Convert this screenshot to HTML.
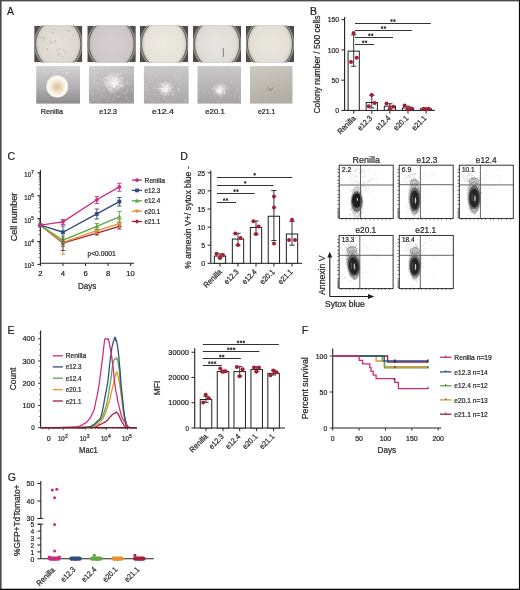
<!DOCTYPE html><html><head><meta charset="utf-8"><style>html,body{margin:0;padding:0;background:#fff;overflow:hidden}svg{display:block;will-change:transform}text{font-family:"Liberation Sans",sans-serif;fill:#231f20;stroke:#231f20;stroke-width:0.22px}</style></head><body>
<svg width="520" height="590" viewBox="0 0 520 590">
<defs>
<radialGradient id="dg0" cx="50%" cy="50%" r="50%"><stop offset="0" stop-color="#e4e0da"/><stop offset="0.85" stop-color="#dcd8d0"/><stop offset="1" stop-color="#c5c0b7"/></radialGradient>
<radialGradient id="dg1" cx="50%" cy="50%" r="50%"><stop offset="0" stop-color="#d6cfd1"/><stop offset="0.85" stop-color="#cec7c9"/><stop offset="1" stop-color="#bdb6b7"/></radialGradient>
<radialGradient id="dg2" cx="50%" cy="50%" r="50%"><stop offset="0" stop-color="#edeae3"/><stop offset="0.85" stop-color="#e6e2d8"/><stop offset="1" stop-color="#cbc6ba"/></radialGradient>
<radialGradient id="dg3" cx="50%" cy="50%" r="50%"><stop offset="0" stop-color="#e8e6e2"/><stop offset="0.85" stop-color="#e0ddd7"/><stop offset="1" stop-color="#c6c2bb"/></radialGradient>
<radialGradient id="dg4" cx="50%" cy="50%" r="50%"><stop offset="0" stop-color="#eae7e0"/><stop offset="0.85" stop-color="#e3dfd6"/><stop offset="1" stop-color="#c8c3b9"/></radialGradient>
<linearGradient id="bg0" x1="0" y1="0" x2="0" y2="1"><stop offset="0" stop-color="#d4d2d3"/><stop offset="0.5" stop-color="#b6b4b5"/><stop offset="1" stop-color="#8c8a8b"/></linearGradient>
<linearGradient id="bg1" x1="0" y1="0" x2="0.3" y2="1"><stop offset="0" stop-color="#d0cecf"/><stop offset="0.5" stop-color="#bcbabb"/><stop offset="1" stop-color="#9b999a"/></linearGradient>
<linearGradient id="bg2" x1="0" y1="0" x2="0" y2="1"><stop offset="0" stop-color="#cbc9ca"/><stop offset="1" stop-color="#a8a6a7"/></linearGradient>
<linearGradient id="bg3" x1="0" y1="0" x2="0" y2="1"><stop offset="0" stop-color="#cac8c9"/><stop offset="1" stop-color="#a6a4a5"/></linearGradient>
<linearGradient id="bg4" x1="0" y1="0" x2="0.3" y2="1"><stop offset="0" stop-color="#cec9c1"/><stop offset="1" stop-color="#b2ada5"/></linearGradient>
<radialGradient id="glow"><stop offset="0" stop-color="#fff" stop-opacity="0.75"/><stop offset="0.5" stop-color="#fff" stop-opacity="0.35"/><stop offset="1" stop-color="#fff" stop-opacity="0"/></radialGradient>
<radialGradient id="blob" cx="50%" cy="52%" r="50%"><stop offset="0" stop-color="#dbc28c"/><stop offset="0.45" stop-color="#ebdfbf"/><stop offset="0.8" stop-color="#f8f5ec"/><stop offset="1" stop-color="#fcfbf8"/></radialGradient>
</defs>
<rect x="0" y="0" width="520" height="590" fill="#fff"/>
<text x="7" y="14.8" font-size="10.5">A</text>
<g><clipPath id="ct0"><rect x="34.2" y="25.8" width="48.1" height="36.4"/></clipPath>
<g clip-path="url(#ct0)">
<rect x="34.2" y="25.8" width="48.1" height="36.4" fill="#4e4c4a"/>
<ellipse cx="58.25" cy="44" rx="24.4" ry="26.6" fill="#8e8a86"/>
<ellipse cx="58.25" cy="44" rx="23.2" ry="25.3" fill="#b5b1ac"/>
<ellipse cx="58.25" cy="44" rx="22.6" ry="24.9" fill="url(#dg0)" stroke="#4a4744" stroke-width="0.8"/>
<circle cx="54.6" cy="49.56" r="0.35" fill="#9d958d" opacity="0.85"/>
<circle cx="61.04" cy="39.58" r="0.35" fill="#8f877f" opacity="0.85"/>
<circle cx="59.6" cy="48.58" r="0.65" fill="#9d958d" opacity="0.85"/>
<circle cx="59.16" cy="55.86" r="0.35" fill="#8f877f" opacity="0.85"/>
<circle cx="65.32" cy="49.31" r="0.35" fill="#8f877f" opacity="0.85"/>
<circle cx="54.23" cy="42.18" r="0.45" fill="#9d958d" opacity="0.85"/>
<circle cx="51.07" cy="41.96" r="0.65" fill="#9d958d" opacity="0.85"/>
<circle cx="42.9" cy="40.94" r="0.45" fill="#9d958d" opacity="0.85"/>
<circle cx="43.62" cy="37.73" r="0.55" fill="#9d958d" opacity="0.85"/>
<circle cx="53.22" cy="42.82" r="0.35" fill="#8f877f" opacity="0.85"/>
<circle cx="62.98" cy="56.7" r="0.65" fill="#aaa29a" opacity="0.85"/>
<circle cx="38.54" cy="47.3" r="0.55" fill="#aaa29a" opacity="0.85"/>
<circle cx="58.34" cy="50.78" r="0.45" fill="#9d958d" opacity="0.85"/>
<circle cx="44.67" cy="38.77" r="0.55" fill="#8f877f" opacity="0.85"/>
<circle cx="42.7" cy="47.95" r="0.35" fill="#9d958d" opacity="0.85"/>
<circle cx="49.74" cy="43.51" r="0.55" fill="#9d958d" opacity="0.85"/>
<circle cx="70.71" cy="39.77" r="0.35" fill="#8f877f" opacity="0.85"/>
<circle cx="40.63" cy="37.37" r="0.55" fill="#aaa29a" opacity="0.85"/>
<circle cx="52.79" cy="32.39" r="0.65" fill="#9d958d" opacity="0.85"/>
<circle cx="69.18" cy="30.87" r="0.65" fill="#8f877f" opacity="0.85"/>
<circle cx="55.59" cy="40.62" r="0.55" fill="#8f877f" opacity="0.85"/>
<circle cx="42.95" cy="37.79" r="0.65" fill="#aaa29a" opacity="0.85"/>
<circle cx="54.13" cy="29.26" r="0.55" fill="#9d958d" opacity="0.85"/>
<circle cx="69.91" cy="40.52" r="0.35" fill="#aaa29a" opacity="0.85"/>
<circle cx="75.41" cy="49.08" r="0.45" fill="#8f877f" opacity="0.85"/>
<circle cx="58.45" cy="54" r="0.65" fill="#9d958d" opacity="0.85"/>
<circle cx="64.93" cy="52.77" r="0.55" fill="#9d958d" opacity="0.85"/>
<circle cx="66.48" cy="30.51" r="0.55" fill="#8f877f" opacity="0.85"/>
<circle cx="47.41" cy="48.86" r="0.65" fill="#9d958d" opacity="0.85"/>
<circle cx="63.39" cy="49.46" r="0.45" fill="#8f877f" opacity="0.85"/>
<circle cx="59.78" cy="55.08" r="0.45" fill="#aaa29a" opacity="0.85"/>
<circle cx="56.65" cy="49.98" r="0.55" fill="#8f877f" opacity="0.85"/>
<circle cx="39.5" cy="37.68" r="0.35" fill="#aaa29a" opacity="0.85"/>
<circle cx="73.22" cy="35.66" r="0.65" fill="#aaa29a" opacity="0.85"/>
</g></g>
<g><clipPath id="ct1"><rect x="87.3" y="25.8" width="48.5" height="36.4"/></clipPath>
<g clip-path="url(#ct1)">
<rect x="87.3" y="25.8" width="48.5" height="36.4" fill="#4e4c4a"/>
<ellipse cx="111.55" cy="44" rx="24.4" ry="26.6" fill="#8e8a86"/>
<ellipse cx="111.55" cy="44" rx="23.2" ry="25.3" fill="#b5b1ac"/>
<ellipse cx="111.55" cy="44" rx="22.6" ry="24.9" fill="url(#dg1)" stroke="#4a4744" stroke-width="0.8"/>
</g></g>
<g><clipPath id="ct2"><rect x="140" y="25.8" width="48.3" height="36.4"/></clipPath>
<g clip-path="url(#ct2)">
<rect x="140" y="25.8" width="48.3" height="36.4" fill="#4e4c4a"/>
<ellipse cx="164.15" cy="44" rx="24.4" ry="26.6" fill="#8e8a86"/>
<ellipse cx="164.15" cy="44" rx="23.2" ry="25.3" fill="#b5b1ac"/>
<ellipse cx="164.15" cy="44" rx="22.6" ry="24.9" fill="url(#dg2)" stroke="#4a4744" stroke-width="0.8"/>
</g></g>
<g><clipPath id="ct3"><rect x="192.9" y="25.8" width="48.3" height="36.4"/></clipPath>
<g clip-path="url(#ct3)">
<rect x="192.9" y="25.8" width="48.3" height="36.4" fill="#4e4c4a"/>
<ellipse cx="217.05" cy="44" rx="24.4" ry="26.6" fill="#8e8a86"/>
<ellipse cx="217.05" cy="44" rx="23.2" ry="25.3" fill="#b5b1ac"/>
<ellipse cx="217.05" cy="44" rx="22.6" ry="24.9" fill="url(#dg3)" stroke="#4a4744" stroke-width="0.8"/>
<path d="M223.05 48 q1 5 0 9" stroke="#5a5f7a" stroke-width="0.8" fill="none"/>
</g></g>
<g><clipPath id="ct4"><rect x="246" y="25.8" width="48" height="36.4"/></clipPath>
<g clip-path="url(#ct4)">
<rect x="246" y="25.8" width="48" height="36.4" fill="#4e4c4a"/>
<ellipse cx="270" cy="44" rx="24.4" ry="26.6" fill="#8e8a86"/>
<ellipse cx="270" cy="44" rx="23.2" ry="25.3" fill="#b5b1ac"/>
<ellipse cx="270" cy="44" rx="22.6" ry="24.9" fill="url(#dg4)" stroke="#4a4744" stroke-width="0.8"/>
</g></g>
<g><clipPath id="cb0"><rect x="36.1" y="66.1" width="44.1" height="37.7"/></clipPath>
<g clip-path="url(#cb0)">
<rect x="36.1" y="66.1" width="44.1" height="37.7" fill="url(#bg0)"/>
<circle cx="57.25" cy="86.55" r="11" fill="#f4f2ee"/>
<circle cx="57.25" cy="86.55" r="10" fill="url(#blob)"/>
<circle cx="54.92" cy="73.85" r="0.5" fill="#e8e8e8"/>
<circle cx="62.45" cy="72.69" r="0.5" fill="#e8e8e8"/>
<circle cx="44.31" cy="76.8" r="0.5" fill="#e8e8e8"/>
<circle cx="47.34" cy="80.47" r="0.5" fill="#e8e8e8"/>
<circle cx="43.83" cy="70.96" r="0.5" fill="#e8e8e8"/>
<circle cx="46.99" cy="73.79" r="0.5" fill="#e8e8e8"/>
<circle cx="53.79" cy="71.66" r="0.5" fill="#e8e8e8"/>
<circle cx="70.13" cy="88.14" r="0.5" fill="#e8e8e8"/>
<circle cx="67.15" cy="72.95" r="1" fill="#e4e4e4"/>
</g></g>
<text x="40.75" y="113.75" font-size="7.6" textLength="22.25" lengthAdjust="spacingAndGlyphs">Renilla</text>
<g><clipPath id="cb1"><rect x="88.7" y="66.1" width="45.3" height="37.7"/></clipPath>
<g clip-path="url(#cb1)">
<rect x="88.7" y="66.1" width="45.3" height="37.7" fill="url(#bg1)"/>
<circle cx="114" cy="82.8" r="11" fill="url(#glow)"/>
<circle cx="95.43" cy="75.61" r="0.45" fill="#e6e6e6" opacity="0.75"/>
<circle cx="115.98" cy="83.98" r="0.35" fill="#e6e6e6" opacity="0.75"/>
<circle cx="127.16" cy="103.54" r="0.45" fill="#e6e6e6" opacity="0.75"/>
<circle cx="110.46" cy="77.86" r="0.35" fill="#e6e6e6" opacity="0.75"/>
<circle cx="93.33" cy="79.02" r="0.45" fill="#e6e6e6" opacity="0.75"/>
<circle cx="110.38" cy="92.19" r="0.55" fill="#e6e6e6" opacity="0.75"/>
<circle cx="89.75" cy="101.95" r="0.55" fill="#e6e6e6" opacity="0.75"/>
<circle cx="105.09" cy="92.12" r="0.35" fill="#e6e6e6" opacity="0.75"/>
<circle cx="123.04" cy="77.34" r="0.55" fill="#e6e6e6" opacity="0.75"/>
<circle cx="127.81" cy="92.35" r="0.45" fill="#e6e6e6" opacity="0.75"/>
<circle cx="112.18" cy="100.34" r="0.45" fill="#e6e6e6" opacity="0.75"/>
<circle cx="123.67" cy="86.18" r="0.55" fill="#e6e6e6" opacity="0.75"/>
<circle cx="103.63" cy="74.51" r="0.35" fill="#e6e6e6" opacity="0.75"/>
<circle cx="125.22" cy="96.95" r="0.55" fill="#e6e6e6" opacity="0.75"/>
<circle cx="125.09" cy="73.64" r="0.45" fill="#e6e6e6" opacity="0.75"/>
<circle cx="104.81" cy="67.19" r="0.35" fill="#e6e6e6" opacity="0.75"/>
<circle cx="124.49" cy="83.9" r="0.35" fill="#e6e6e6" opacity="0.75"/>
<circle cx="120.07" cy="102.16" r="0.45" fill="#e6e6e6" opacity="0.75"/>
<circle cx="125.33" cy="93.36" r="0.45" fill="#e6e6e6" opacity="0.75"/>
<circle cx="131.96" cy="79.85" r="0.35" fill="#e6e6e6" opacity="0.75"/>
<circle cx="93.33" cy="83.82" r="0.45" fill="#e6e6e6" opacity="0.75"/>
<circle cx="97.96" cy="89.63" r="0.55" fill="#e6e6e6" opacity="0.75"/>
<circle cx="126.77" cy="84.18" r="0.55" fill="#e6e6e6" opacity="0.75"/>
<circle cx="104.28" cy="90.35" r="0.55" fill="#e6e6e6" opacity="0.75"/>
<circle cx="94.13" cy="80.75" r="0.55" fill="#e6e6e6" opacity="0.75"/>
<circle cx="122.68" cy="84.12" r="0.35" fill="#e6e6e6" opacity="0.75"/>
<circle cx="108.36" cy="90.07" r="0.35" fill="#e6e6e6" opacity="0.75"/>
<circle cx="124.98" cy="102.73" r="0.45" fill="#e6e6e6" opacity="0.75"/>
<circle cx="109.68" cy="94.12" r="0.35" fill="#e6e6e6" opacity="0.75"/>
<circle cx="121.53" cy="72.51" r="0.35" fill="#e6e6e6" opacity="0.75"/>
<circle cx="89.95" cy="88.37" r="0.45" fill="#e6e6e6" opacity="0.75"/>
<circle cx="125.23" cy="71.61" r="0.55" fill="#e6e6e6" opacity="0.75"/>
<circle cx="133.11" cy="90.88" r="0.45" fill="#e6e6e6" opacity="0.75"/>
<circle cx="95.76" cy="86.77" r="0.35" fill="#e6e6e6" opacity="0.75"/>
<circle cx="89.35" cy="102.7" r="0.55" fill="#e6e6e6" opacity="0.75"/>
<circle cx="93.36" cy="94.36" r="0.35" fill="#e6e6e6" opacity="0.75"/>
<circle cx="108.35" cy="98.96" r="0.35" fill="#e6e6e6" opacity="0.75"/>
<circle cx="89.97" cy="74.12" r="0.55" fill="#e6e6e6" opacity="0.75"/>
<circle cx="99.6" cy="88.21" r="0.45" fill="#e6e6e6" opacity="0.75"/>
<circle cx="113.36" cy="97.55" r="0.35" fill="#e6e6e6" opacity="0.75"/>
<circle cx="129.92" cy="79.44" r="0.45" fill="#e6e6e6" opacity="0.75"/>
<circle cx="118.71" cy="96.83" r="0.55" fill="#e6e6e6" opacity="0.75"/>
<circle cx="107.75" cy="100.7" r="0.55" fill="#e6e6e6" opacity="0.75"/>
<circle cx="94.62" cy="71.82" r="0.55" fill="#e6e6e6" opacity="0.75"/>
<circle cx="89.55" cy="82.69" r="0.35" fill="#e6e6e6" opacity="0.75"/>
<circle cx="116.27" cy="95.36" r="0.35" fill="#e6e6e6" opacity="0.75"/>
<circle cx="96.51" cy="83.95" r="0.55" fill="#e6e6e6" opacity="0.75"/>
<circle cx="94.15" cy="68.43" r="0.55" fill="#e6e6e6" opacity="0.75"/>
<circle cx="112.18" cy="87.04" r="0.35" fill="#e6e6e6" opacity="0.75"/>
<circle cx="128.71" cy="68.24" r="0.35" fill="#e6e6e6" opacity="0.75"/>
<circle cx="101.24" cy="95.21" r="0.55" fill="#e6e6e6" opacity="0.75"/>
<circle cx="109.18" cy="67.15" r="0.35" fill="#e6e6e6" opacity="0.75"/>
<circle cx="108.78" cy="89.19" r="0.55" fill="#e6e6e6" opacity="0.75"/>
<circle cx="116.16" cy="73.62" r="0.45" fill="#e6e6e6" opacity="0.75"/>
<circle cx="109.19" cy="86.2" r="0.45" fill="#e6e6e6" opacity="0.75"/>
<circle cx="111.7" cy="75.44" r="0.55" fill="#e6e6e6" opacity="0.75"/>
<circle cx="128.41" cy="101.62" r="0.45" fill="#e6e6e6" opacity="0.75"/>
<circle cx="130.5" cy="99.76" r="0.35" fill="#e6e6e6" opacity="0.75"/>
<circle cx="126.75" cy="71.27" r="0.35" fill="#e6e6e6" opacity="0.75"/>
<circle cx="106.47" cy="78.01" r="0.55" fill="#e6e6e6" opacity="0.75"/>
<circle cx="99.6" cy="68.86" r="0.55" fill="#e6e6e6" opacity="0.75"/>
<circle cx="102.42" cy="70.71" r="0.35" fill="#e6e6e6" opacity="0.75"/>
<circle cx="131.26" cy="90.36" r="0.45" fill="#e6e6e6" opacity="0.75"/>
<circle cx="95.18" cy="99.38" r="0.45" fill="#e6e6e6" opacity="0.75"/>
<circle cx="98.65" cy="102.01" r="0.45" fill="#e6e6e6" opacity="0.75"/>
<circle cx="128.79" cy="72.24" r="0.55" fill="#e6e6e6" opacity="0.75"/>
<circle cx="126.41" cy="72.19" r="0.45" fill="#e6e6e6" opacity="0.75"/>
<circle cx="133.73" cy="81.32" r="0.45" fill="#e6e6e6" opacity="0.75"/>
<circle cx="97.57" cy="78.11" r="0.55" fill="#e6e6e6" opacity="0.75"/>
<circle cx="105.28" cy="78.84" r="0.45" fill="#e6e6e6" opacity="0.75"/>
<circle cx="108.65" cy="66.78" r="0.45" fill="#e6e6e6" opacity="0.75"/>
<circle cx="112.14" cy="77.24" r="0.35" fill="#e6e6e6" opacity="0.75"/>
<circle cx="93.81" cy="100.73" r="0.35" fill="#e6e6e6" opacity="0.75"/>
<circle cx="132.72" cy="70.05" r="0.45" fill="#e6e6e6" opacity="0.75"/>
<circle cx="101.02" cy="100.25" r="0.35" fill="#e6e6e6" opacity="0.75"/>
<circle cx="100.95" cy="70.98" r="0.45" fill="#e6e6e6" opacity="0.75"/>
<circle cx="127.19" cy="91.58" r="0.45" fill="#e6e6e6" opacity="0.75"/>
<circle cx="107.09" cy="86.33" r="0.55" fill="#e6e6e6" opacity="0.75"/>
<circle cx="114.55" cy="92.51" r="0.35" fill="#e6e6e6" opacity="0.75"/>
<circle cx="101.34" cy="96.24" r="0.35" fill="#e6e6e6" opacity="0.75"/>
<circle cx="107.97" cy="68.83" r="0.35" fill="#e6e6e6" opacity="0.75"/>
<circle cx="117.44" cy="96.32" r="0.35" fill="#e6e6e6" opacity="0.75"/>
<circle cx="116.25" cy="74.48" r="0.45" fill="#e6e6e6" opacity="0.75"/>
<circle cx="127.78" cy="83.21" r="0.45" fill="#e6e6e6" opacity="0.75"/>
<circle cx="133.74" cy="81.85" r="0.45" fill="#e6e6e6" opacity="0.75"/>
<circle cx="116.86" cy="67.73" r="0.55" fill="#e6e6e6" opacity="0.75"/>
<circle cx="99.5" cy="70.23" r="0.35" fill="#e6e6e6" opacity="0.75"/>
<circle cx="100.56" cy="72.93" r="0.45" fill="#e6e6e6" opacity="0.75"/>
<circle cx="117.18" cy="86.12" r="0.35" fill="#e6e6e6" opacity="0.75"/>
<circle cx="101.84" cy="84.95" r="0.35" fill="#e6e6e6" opacity="0.75"/>
<circle cx="100.95" cy="96.4" r="0.45" fill="#e6e6e6" opacity="0.75"/>
<circle cx="90.37" cy="66.79" r="0.55" fill="#e6e6e6" opacity="0.75"/>
<circle cx="113.66" cy="73.24" r="0.45" fill="#e6e6e6" opacity="0.75"/>
<circle cx="99.83" cy="82.95" r="0.55" fill="#e6e6e6" opacity="0.75"/>
<circle cx="125.8" cy="82.39" r="0.45" fill="#e6e6e6" opacity="0.75"/>
<circle cx="113.43" cy="99.6" r="0.55" fill="#e6e6e6" opacity="0.75"/>
<circle cx="102.64" cy="74.21" r="0.35" fill="#e6e6e6" opacity="0.75"/>
<circle cx="104.22" cy="97.48" r="0.55" fill="#e6e6e6" opacity="0.75"/>
<circle cx="121.72" cy="71.37" r="0.45" fill="#e6e6e6" opacity="0.75"/>
<circle cx="133.18" cy="97.65" r="0.35" fill="#e6e6e6" opacity="0.75"/>
<circle cx="91.9" cy="94.03" r="0.45" fill="#e6e6e6" opacity="0.75"/>
<circle cx="108.21" cy="68.19" r="0.55" fill="#e6e6e6" opacity="0.75"/>
<circle cx="126.81" cy="98.92" r="0.55" fill="#e6e6e6" opacity="0.75"/>
<circle cx="132.68" cy="88.67" r="0.55" fill="#e6e6e6" opacity="0.75"/>
<circle cx="101.98" cy="83.42" r="0.35" fill="#e6e6e6" opacity="0.75"/>
<circle cx="100.89" cy="66.24" r="0.45" fill="#e6e6e6" opacity="0.75"/>
<circle cx="132.27" cy="102.77" r="0.55" fill="#e6e6e6" opacity="0.75"/>
<circle cx="103.36" cy="67.4" r="0.45" fill="#e6e6e6" opacity="0.75"/>
<circle cx="98.57" cy="73" r="0.45" fill="#e6e6e6" opacity="0.75"/>
<circle cx="105.99" cy="83.99" r="0.55" fill="#e6e6e6" opacity="0.75"/>
<circle cx="114.45" cy="80.51" r="0.4" fill="#f6f6f6" opacity="0.9"/>
<circle cx="113.64" cy="86.25" r="0.4" fill="#f6f6f6" opacity="0.9"/>
<circle cx="109.8" cy="85.61" r="0.5" fill="#f6f6f6" opacity="0.9"/>
<circle cx="111.73" cy="88.24" r="0.4" fill="#f6f6f6" opacity="0.9"/>
<circle cx="122.52" cy="73.25" r="0.4" fill="#f6f6f6" opacity="0.9"/>
<circle cx="109.46" cy="76.92" r="0.6" fill="#f6f6f6" opacity="0.9"/>
<circle cx="114.17" cy="81.23" r="0.6" fill="#f6f6f6" opacity="0.9"/>
<circle cx="122.52" cy="82.1" r="0.4" fill="#f6f6f6" opacity="0.9"/>
<circle cx="115.18" cy="84.09" r="0.6" fill="#f6f6f6" opacity="0.9"/>
<circle cx="120.86" cy="78.09" r="0.6" fill="#f6f6f6" opacity="0.9"/>
<circle cx="104.89" cy="82.53" r="0.6" fill="#f6f6f6" opacity="0.9"/>
<circle cx="114.08" cy="79.11" r="0.6" fill="#f6f6f6" opacity="0.9"/>
<circle cx="116.76" cy="78.29" r="0.6" fill="#f6f6f6" opacity="0.9"/>
<circle cx="117" cy="74.59" r="0.6" fill="#f6f6f6" opacity="0.9"/>
<circle cx="114.51" cy="86.25" r="0.4" fill="#f6f6f6" opacity="0.9"/>
<circle cx="122.8" cy="84.82" r="0.6" fill="#f6f6f6" opacity="0.9"/>
<circle cx="115.01" cy="81.37" r="0.6" fill="#f6f6f6" opacity="0.9"/>
<circle cx="116.23" cy="83.43" r="0.4" fill="#f6f6f6" opacity="0.9"/>
<circle cx="107.12" cy="83.19" r="0.4" fill="#f6f6f6" opacity="0.9"/>
<circle cx="107.26" cy="84.39" r="0.4" fill="#f6f6f6" opacity="0.9"/>
<circle cx="113.92" cy="82.78" r="0.6" fill="#f6f6f6" opacity="0.9"/>
<circle cx="106.42" cy="81.74" r="0.6" fill="#f6f6f6" opacity="0.9"/>
<circle cx="114.37" cy="82.96" r="0.5" fill="#f6f6f6" opacity="0.9"/>
<circle cx="114.47" cy="86.98" r="0.4" fill="#f6f6f6" opacity="0.9"/>
<circle cx="112.9" cy="83.04" r="0.5" fill="#f6f6f6" opacity="0.9"/>
<circle cx="122.28" cy="86.48" r="0.6" fill="#f6f6f6" opacity="0.9"/>
<circle cx="113.69" cy="82.51" r="0.4" fill="#f6f6f6" opacity="0.9"/>
<circle cx="115.73" cy="83.58" r="0.4" fill="#f6f6f6" opacity="0.9"/>
<circle cx="112.37" cy="79.11" r="0.6" fill="#f6f6f6" opacity="0.9"/>
<circle cx="106.51" cy="79.91" r="0.4" fill="#f6f6f6" opacity="0.9"/>
<circle cx="121.34" cy="81.71" r="0.4" fill="#f6f6f6" opacity="0.9"/>
<circle cx="113.71" cy="82.14" r="0.6" fill="#f6f6f6" opacity="0.9"/>
<circle cx="111.74" cy="91.25" r="0.5" fill="#f6f6f6" opacity="0.9"/>
<circle cx="113.35" cy="82.92" r="0.4" fill="#f6f6f6" opacity="0.9"/>
<circle cx="110.9" cy="89.25" r="0.4" fill="#f6f6f6" opacity="0.9"/>
<circle cx="114.32" cy="82.69" r="0.4" fill="#f6f6f6" opacity="0.9"/>
<circle cx="113.36" cy="82.78" r="0.5" fill="#f6f6f6" opacity="0.9"/>
<circle cx="116.51" cy="82.72" r="0.5" fill="#f6f6f6" opacity="0.9"/>
<circle cx="114.96" cy="86.03" r="0.6" fill="#f6f6f6" opacity="0.9"/>
<circle cx="126.81" cy="89.74" r="0.6" fill="#f6f6f6" opacity="0.9"/>
<circle cx="124.68" cy="92.79" r="0.6" fill="#f6f6f6" opacity="0.9"/>
<circle cx="111.58" cy="82.69" r="0.4" fill="#f6f6f6" opacity="0.9"/>
<circle cx="115.09" cy="82.11" r="0.5" fill="#f6f6f6" opacity="0.9"/>
<circle cx="110.45" cy="85.17" r="0.4" fill="#f6f6f6" opacity="0.9"/>
<circle cx="106.8" cy="84.76" r="0.5" fill="#f6f6f6" opacity="0.9"/>
<circle cx="113.98" cy="82.66" r="0.5" fill="#f6f6f6" opacity="0.9"/>
<circle cx="115.69" cy="80.54" r="0.4" fill="#f6f6f6" opacity="0.9"/>
<circle cx="111.88" cy="86.37" r="0.5" fill="#f6f6f6" opacity="0.9"/>
<circle cx="115.56" cy="82.14" r="0.6" fill="#f6f6f6" opacity="0.9"/>
<circle cx="116.78" cy="82.97" r="0.6" fill="#f6f6f6" opacity="0.9"/>
<circle cx="112.79" cy="83.62" r="0.6" fill="#f6f6f6" opacity="0.9"/>
<circle cx="119.39" cy="85.19" r="0.5" fill="#f6f6f6" opacity="0.9"/>
<circle cx="113.91" cy="83.18" r="0.4" fill="#f6f6f6" opacity="0.9"/>
<circle cx="120.47" cy="73.46" r="0.5" fill="#f6f6f6" opacity="0.9"/>
<circle cx="116.4" cy="82.42" r="0.5" fill="#f6f6f6" opacity="0.9"/>
<circle cx="111.24" cy="82.64" r="0.4" fill="#f6f6f6" opacity="0.9"/>
<circle cx="112.51" cy="83.42" r="0.4" fill="#f6f6f6" opacity="0.9"/>
<circle cx="118.28" cy="73.93" r="0.6" fill="#f6f6f6" opacity="0.9"/>
<circle cx="103.87" cy="79.75" r="0.4" fill="#f6f6f6" opacity="0.9"/>
<circle cx="112.52" cy="76.29" r="0.4" fill="#f6f6f6" opacity="0.9"/>
<circle cx="109.41" cy="79.37" r="0.4" fill="#f6f6f6" opacity="0.9"/>
<circle cx="112.33" cy="80.98" r="0.5" fill="#f6f6f6" opacity="0.9"/>
<circle cx="100.43" cy="79.04" r="0.4" fill="#f6f6f6" opacity="0.9"/>
<circle cx="112.72" cy="82.99" r="0.5" fill="#f6f6f6" opacity="0.9"/>
<circle cx="113.93" cy="81.96" r="0.6" fill="#f6f6f6" opacity="0.9"/>
<circle cx="113.69" cy="86.95" r="0.6" fill="#f6f6f6" opacity="0.9"/>
<circle cx="113.74" cy="82.41" r="0.4" fill="#f6f6f6" opacity="0.9"/>
<circle cx="117.7" cy="88.3" r="0.4" fill="#f6f6f6" opacity="0.9"/>
<circle cx="116.58" cy="77.43" r="0.6" fill="#f6f6f6" opacity="0.9"/>
<circle cx="114.65" cy="85.71" r="0.5" fill="#f6f6f6" opacity="0.9"/>
<circle cx="118.54" cy="87.44" r="0.4" fill="#f6f6f6" opacity="0.9"/>
<circle cx="114.01" cy="82.93" r="0.4" fill="#f6f6f6" opacity="0.9"/>
<circle cx="114.11" cy="84.12" r="0.5" fill="#f6f6f6" opacity="0.9"/>
<circle cx="114.87" cy="80.92" r="0.4" fill="#f6f6f6" opacity="0.9"/>
<circle cx="106.99" cy="86.44" r="0.5" fill="#f6f6f6" opacity="0.9"/>
<circle cx="113.82" cy="76.82" r="0.4" fill="#f6f6f6" opacity="0.9"/>
<circle cx="117.91" cy="84.17" r="0.5" fill="#f6f6f6" opacity="0.9"/>
<circle cx="110.31" cy="81.22" r="0.5" fill="#f6f6f6" opacity="0.9"/>
<circle cx="110.29" cy="79.46" r="0.4" fill="#f6f6f6" opacity="0.9"/>
<circle cx="118.57" cy="85.35" r="0.4" fill="#f6f6f6" opacity="0.9"/>
<circle cx="107.63" cy="85.27" r="0.5" fill="#f6f6f6" opacity="0.9"/>
<circle cx="117.61" cy="78.5" r="0.4" fill="#f6f6f6" opacity="0.9"/>
<circle cx="114.41" cy="78.76" r="0.5" fill="#f6f6f6" opacity="0.9"/>
<circle cx="118.81" cy="81.97" r="0.5" fill="#f6f6f6" opacity="0.9"/>
<circle cx="119.81" cy="80.36" r="0.6" fill="#f6f6f6" opacity="0.9"/>
<circle cx="114" cy="82.8" r="0.5" fill="#f6f6f6" opacity="0.9"/>
<circle cx="114.02" cy="82.82" r="0.6" fill="#f6f6f6" opacity="0.9"/>
<circle cx="117.07" cy="82.33" r="0.4" fill="#f6f6f6" opacity="0.9"/>
<circle cx="108.17" cy="76.21" r="0.5" fill="#f6f6f6" opacity="0.9"/>
<circle cx="117.22" cy="84.42" r="0.4" fill="#f6f6f6" opacity="0.9"/>
<circle cx="110.95" cy="81.59" r="0.4" fill="#f6f6f6" opacity="0.9"/>
<circle cx="113.98" cy="82.78" r="0.5" fill="#f6f6f6" opacity="0.9"/>
<circle cx="105.27" cy="81.47" r="0.5" fill="#f6f6f6" opacity="0.9"/>
<circle cx="113.32" cy="81.08" r="0.4" fill="#f6f6f6" opacity="0.9"/>
<circle cx="118.18" cy="81.48" r="0.4" fill="#f6f6f6" opacity="0.9"/>
<circle cx="111.55" cy="84.57" r="0.4" fill="#f6f6f6" opacity="0.9"/>
<circle cx="113.92" cy="82.78" r="0.5" fill="#f6f6f6" opacity="0.9"/>
<circle cx="113.95" cy="83.05" r="0.5" fill="#f6f6f6" opacity="0.9"/>
<circle cx="105.81" cy="83.89" r="0.4" fill="#f6f6f6" opacity="0.9"/>
<circle cx="103.83" cy="80.17" r="0.4" fill="#f6f6f6" opacity="0.9"/>
<circle cx="110.53" cy="90.63" r="0.4" fill="#f6f6f6" opacity="0.9"/>
<circle cx="114.86" cy="84.78" r="0.6" fill="#f6f6f6" opacity="0.9"/>
<circle cx="114.22" cy="84.15" r="0.5" fill="#f6f6f6" opacity="0.9"/>
<circle cx="115.9" cy="81.98" r="0.4" fill="#f6f6f6" opacity="0.9"/>
<circle cx="112.02" cy="74.45" r="0.5" fill="#f6f6f6" opacity="0.9"/>
<circle cx="113.82" cy="82.46" r="0.4" fill="#f6f6f6" opacity="0.9"/>
<circle cx="117.04" cy="79.01" r="0.4" fill="#f6f6f6" opacity="0.9"/>
<circle cx="114.06" cy="82.99" r="0.4" fill="#f6f6f6" opacity="0.9"/>
<circle cx="114.55" cy="86.64" r="0.4" fill="#f6f6f6" opacity="0.9"/>
<circle cx="112.95" cy="92.23" r="0.5" fill="#f6f6f6" opacity="0.9"/>
<circle cx="108.58" cy="78.98" r="0.4" fill="#f6f6f6" opacity="0.9"/>
<circle cx="108.28" cy="83.26" r="0.6" fill="#f6f6f6" opacity="0.9"/>
<circle cx="121.23" cy="79.52" r="0.4" fill="#f6f6f6" opacity="0.9"/>
<circle cx="114.7" cy="85.31" r="0.6" fill="#f6f6f6" opacity="0.9"/>
<circle cx="115.24" cy="83.22" r="0.5" fill="#f6f6f6" opacity="0.9"/>
<circle cx="112.43" cy="83.24" r="0.6" fill="#f6f6f6" opacity="0.9"/>
<circle cx="121.86" cy="82.7" r="0.4" fill="#f6f6f6" opacity="0.9"/>
<circle cx="110.63" cy="88.07" r="0.4" fill="#f6f6f6" opacity="0.9"/>
<circle cx="109.53" cy="83.58" r="0.5" fill="#f6f6f6" opacity="0.9"/>
<circle cx="110.68" cy="78.06" r="0.5" fill="#f6f6f6" opacity="0.9"/>
<circle cx="104.64" cy="85.81" r="0.4" fill="#f6f6f6" opacity="0.9"/>
<circle cx="129.96" cy="83.04" r="0.5" fill="#f6f6f6" opacity="0.9"/>
<circle cx="118.45" cy="79.47" r="0.6" fill="#f6f6f6" opacity="0.9"/>
<circle cx="117.22" cy="82.18" r="0.4" fill="#f6f6f6" opacity="0.9"/>
<circle cx="111.07" cy="89.23" r="0.5" fill="#f6f6f6" opacity="0.9"/>
<circle cx="120.48" cy="86.19" r="0.6" fill="#f6f6f6" opacity="0.9"/>
<circle cx="119.42" cy="80.25" r="0.4" fill="#f6f6f6" opacity="0.9"/>
<circle cx="113.54" cy="83.59" r="0.6" fill="#f6f6f6" opacity="0.9"/>
<circle cx="112.91" cy="83.38" r="0.6" fill="#f6f6f6" opacity="0.9"/>
<circle cx="114.1" cy="81.98" r="0.4" fill="#f6f6f6" opacity="0.9"/>
<circle cx="115.69" cy="78.66" r="0.4" fill="#f6f6f6" opacity="0.9"/>
<circle cx="113.77" cy="87.14" r="0.6" fill="#f6f6f6" opacity="0.9"/>
<circle cx="108.67" cy="88.08" r="0.5" fill="#f6f6f6" opacity="0.9"/>
<circle cx="117.29" cy="82.04" r="0.6" fill="#f6f6f6" opacity="0.9"/>
<circle cx="110.16" cy="74.62" r="0.5" fill="#f6f6f6" opacity="0.9"/>
<circle cx="113.15" cy="85.17" r="0.6" fill="#f6f6f6" opacity="0.9"/>
<circle cx="113.66" cy="82.47" r="0.4" fill="#f6f6f6" opacity="0.9"/>
<circle cx="128.31" cy="84.67" r="0.4" fill="#f6f6f6" opacity="0.9"/>
<circle cx="106.13" cy="84.26" r="0.5" fill="#f6f6f6" opacity="0.9"/>
<circle cx="115.59" cy="77.5" r="0.5" fill="#f6f6f6" opacity="0.9"/>
<circle cx="112.63" cy="82.83" r="0.4" fill="#f6f6f6" opacity="0.9"/>
<circle cx="115.03" cy="80.24" r="0.6" fill="#f6f6f6" opacity="0.9"/>
<circle cx="115.91" cy="85.07" r="0.4" fill="#f6f6f6" opacity="0.9"/>
<circle cx="109.58" cy="89.87" r="0.5" fill="#f6f6f6" opacity="0.9"/>
<circle cx="104.9" cy="77.49" r="0.6" fill="#f6f6f6" opacity="0.9"/>
<circle cx="114.9" cy="85.03" r="0.4" fill="#f6f6f6" opacity="0.9"/>
<circle cx="114.04" cy="82.81" r="0.6" fill="#f6f6f6" opacity="0.9"/>
<circle cx="111.72" cy="82.24" r="0.4" fill="#f6f6f6" opacity="0.9"/>
<circle cx="127.33" cy="81.93" r="0.5" fill="#f6f6f6" opacity="0.9"/>
<circle cx="112.82" cy="81.8" r="0.4" fill="#f6f6f6" opacity="0.9"/>
<circle cx="112.43" cy="77.63" r="0.5" fill="#f6f6f6" opacity="0.9"/>
<circle cx="116.02" cy="86.07" r="0.4" fill="#f6f6f6" opacity="0.9"/>
<circle cx="110.4" cy="76.88" r="0.6" fill="#f6f6f6" opacity="0.9"/>
<circle cx="109.62" cy="81.88" r="0.6" fill="#f6f6f6" opacity="0.9"/>
<circle cx="113.81" cy="83.36" r="0.5" fill="#f6f6f6" opacity="0.9"/>
<circle cx="103.7" cy="78.89" r="0.5" fill="#f6f6f6" opacity="0.9"/>
<circle cx="113.88" cy="82.84" r="0.4" fill="#f6f6f6" opacity="0.9"/>
<circle cx="114.15" cy="87.09" r="0.4" fill="#f6f6f6" opacity="0.9"/>
<circle cx="115.05" cy="84.98" r="0.4" fill="#f6f6f6" opacity="0.9"/>
<circle cx="102.95" cy="89.98" r="0.4" fill="#f6f6f6" opacity="0.9"/>
<circle cx="115.69" cy="79.06" r="0.6" fill="#f6f6f6" opacity="0.9"/>
<circle cx="113.79" cy="82.84" r="0.4" fill="#f6f6f6" opacity="0.9"/>
<circle cx="116.48" cy="78.25" r="0.5" fill="#f6f6f6" opacity="0.9"/>
<circle cx="117.8" cy="80.87" r="0.4" fill="#f6f6f6" opacity="0.9"/>
<circle cx="117.22" cy="83.7" r="0.6" fill="#f6f6f6" opacity="0.9"/>
<circle cx="117.26" cy="82.32" r="0.6" fill="#f6f6f6" opacity="0.9"/>
<circle cx="113.12" cy="82.74" r="0.4" fill="#f6f6f6" opacity="0.9"/>
<circle cx="111.71" cy="83.44" r="0.5" fill="#f6f6f6" opacity="0.9"/>
<circle cx="115.5" cy="82.85" r="0.6" fill="#f6f6f6" opacity="0.9"/>
<circle cx="106.19" cy="78.22" r="0.6" fill="#f6f6f6" opacity="0.9"/>
<circle cx="113.44" cy="83.56" r="0.4" fill="#f6f6f6" opacity="0.9"/>
<circle cx="114.41" cy="83.99" r="0.5" fill="#f6f6f6" opacity="0.9"/>
<circle cx="122.79" cy="78.32" r="0.4" fill="#f6f6f6" opacity="0.9"/>
<circle cx="115.05" cy="80.86" r="0.5" fill="#f6f6f6" opacity="0.9"/>
<circle cx="113.31" cy="84.22" r="0.4" fill="#f6f6f6" opacity="0.9"/>
<circle cx="117.67" cy="83.43" r="0.5" fill="#f6f6f6" opacity="0.9"/>
<circle cx="115.8" cy="83.93" r="0.5" fill="#f6f6f6" opacity="0.9"/>
<circle cx="113.64" cy="82.29" r="0.4" fill="#f6f6f6" opacity="0.9"/>
<circle cx="114.94" cy="84.13" r="0.6" fill="#f6f6f6" opacity="0.9"/>
<circle cx="113.71" cy="84.64" r="0.5" fill="#f6f6f6" opacity="0.9"/>
<circle cx="117.17" cy="83.7" r="0.6" fill="#f6f6f6" opacity="0.9"/>
<circle cx="108.63" cy="80.77" r="0.5" fill="#f6f6f6" opacity="0.9"/>
<circle cx="114.11" cy="81.9" r="0.5" fill="#f6f6f6" opacity="0.9"/>
<circle cx="113.61" cy="82.37" r="0.5" fill="#f6f6f6" opacity="0.9"/>
<circle cx="114.6" cy="82.82" r="0.4" fill="#f6f6f6" opacity="0.9"/>
<circle cx="110.14" cy="84.5" r="0.4" fill="#f6f6f6" opacity="0.9"/>
<circle cx="103.15" cy="85.11" r="0.4" fill="#f6f6f6" opacity="0.9"/>
<circle cx="119.12" cy="87.43" r="0.4" fill="#f6f6f6" opacity="0.9"/>
<circle cx="121.44" cy="78.78" r="0.4" fill="#f6f6f6" opacity="0.9"/>
<circle cx="111.35" cy="81.69" r="0.5" fill="#f6f6f6" opacity="0.9"/>
<circle cx="113.82" cy="83.02" r="0.4" fill="#f6f6f6" opacity="0.9"/>
<circle cx="110.06" cy="82.35" r="0.4" fill="#f6f6f6" opacity="0.9"/>
<circle cx="115.98" cy="78.12" r="0.4" fill="#f6f6f6" opacity="0.9"/>
<circle cx="112.48" cy="86.64" r="0.4" fill="#f6f6f6" opacity="0.9"/>
<circle cx="120.96" cy="84.86" r="0.6" fill="#f6f6f6" opacity="0.9"/>
<circle cx="113.13" cy="83.43" r="0.6" fill="#f6f6f6" opacity="0.9"/>
<circle cx="118.71" cy="89.14" r="0.4" fill="#f6f6f6" opacity="0.9"/>
<circle cx="107.97" cy="77.92" r="0.6" fill="#f6f6f6" opacity="0.9"/>
<circle cx="116.84" cy="88.19" r="0.4" fill="#f6f6f6" opacity="0.9"/>
<circle cx="123.71" cy="85.01" r="0.6" fill="#f6f6f6" opacity="0.9"/>
</g></g>
<text x="99.25" y="113.75" font-size="7.6" textLength="17.75" lengthAdjust="spacingAndGlyphs">e12.3</text>
<g><clipPath id="cb2"><rect x="143.7" y="66.1" width="45.1" height="37.7"/></clipPath>
<g clip-path="url(#cb2)">
<rect x="143.7" y="66.1" width="45.1" height="37.7" fill="url(#bg2)"/>
<circle cx="165.5" cy="89" r="8" fill="url(#glow)"/>
<circle cx="150.76" cy="79.64" r="0.35" fill="#e6e6e6" opacity="0.75"/>
<circle cx="154.84" cy="93.43" r="0.35" fill="#e6e6e6" opacity="0.75"/>
<circle cx="145.55" cy="87.3" r="0.55" fill="#e6e6e6" opacity="0.75"/>
<circle cx="145.42" cy="97.7" r="0.35" fill="#e6e6e6" opacity="0.75"/>
<circle cx="161.28" cy="83.28" r="0.55" fill="#e6e6e6" opacity="0.75"/>
<circle cx="178.79" cy="90.57" r="0.45" fill="#e6e6e6" opacity="0.75"/>
<circle cx="169.98" cy="82.15" r="0.55" fill="#e6e6e6" opacity="0.75"/>
<circle cx="160.27" cy="85.08" r="0.35" fill="#e6e6e6" opacity="0.75"/>
<circle cx="144.75" cy="89.43" r="0.45" fill="#e6e6e6" opacity="0.75"/>
<circle cx="164.68" cy="82.95" r="0.55" fill="#e6e6e6" opacity="0.75"/>
<circle cx="178.88" cy="83.38" r="0.35" fill="#e6e6e6" opacity="0.75"/>
<circle cx="180.25" cy="81.19" r="0.35" fill="#e6e6e6" opacity="0.75"/>
<circle cx="149.49" cy="82.33" r="0.35" fill="#e6e6e6" opacity="0.75"/>
<circle cx="179.88" cy="85.11" r="0.55" fill="#e6e6e6" opacity="0.75"/>
<circle cx="145.54" cy="90.09" r="0.35" fill="#e6e6e6" opacity="0.75"/>
<circle cx="185.29" cy="77.93" r="0.55" fill="#e6e6e6" opacity="0.75"/>
<circle cx="166.77" cy="68.15" r="0.55" fill="#e6e6e6" opacity="0.75"/>
<circle cx="184.06" cy="90.71" r="0.35" fill="#e6e6e6" opacity="0.75"/>
<circle cx="144.87" cy="68.6" r="0.55" fill="#e6e6e6" opacity="0.75"/>
<circle cx="176.72" cy="96.83" r="0.35" fill="#e6e6e6" opacity="0.75"/>
<circle cx="149.64" cy="99.49" r="0.45" fill="#e6e6e6" opacity="0.75"/>
<circle cx="186.84" cy="100.63" r="0.35" fill="#e6e6e6" opacity="0.75"/>
<circle cx="174.64" cy="93.28" r="0.35" fill="#e6e6e6" opacity="0.75"/>
<circle cx="146.65" cy="79.33" r="0.45" fill="#e6e6e6" opacity="0.75"/>
<circle cx="150.86" cy="99.9" r="0.45" fill="#e6e6e6" opacity="0.75"/>
<circle cx="184.52" cy="83.31" r="0.45" fill="#e6e6e6" opacity="0.75"/>
<circle cx="166.35" cy="100.78" r="0.35" fill="#e6e6e6" opacity="0.75"/>
<circle cx="170.39" cy="89.32" r="0.35" fill="#e6e6e6" opacity="0.75"/>
<circle cx="158.09" cy="67.49" r="0.35" fill="#e6e6e6" opacity="0.75"/>
<circle cx="161.9" cy="90.1" r="0.45" fill="#e6e6e6" opacity="0.75"/>
<circle cx="174.35" cy="99.86" r="0.35" fill="#e6e6e6" opacity="0.75"/>
<circle cx="179.42" cy="76.07" r="0.55" fill="#e6e6e6" opacity="0.75"/>
<circle cx="145.89" cy="98.46" r="0.45" fill="#e6e6e6" opacity="0.75"/>
<circle cx="168.74" cy="87.97" r="0.35" fill="#e6e6e6" opacity="0.75"/>
<circle cx="155.07" cy="86.3" r="0.45" fill="#e6e6e6" opacity="0.75"/>
<circle cx="176.98" cy="80.1" r="0.45" fill="#e6e6e6" opacity="0.75"/>
<circle cx="188.37" cy="87.87" r="0.45" fill="#e6e6e6" opacity="0.75"/>
<circle cx="158.62" cy="69.17" r="0.35" fill="#e6e6e6" opacity="0.75"/>
<circle cx="151.67" cy="94.13" r="0.35" fill="#e6e6e6" opacity="0.75"/>
<circle cx="157.07" cy="85.56" r="0.45" fill="#e6e6e6" opacity="0.75"/>
<circle cx="172.53" cy="103.2" r="0.55" fill="#e6e6e6" opacity="0.75"/>
<circle cx="185.57" cy="99.87" r="0.55" fill="#e6e6e6" opacity="0.75"/>
<circle cx="143.78" cy="67.37" r="0.35" fill="#e6e6e6" opacity="0.75"/>
<circle cx="156.82" cy="89.69" r="0.45" fill="#e6e6e6" opacity="0.75"/>
<circle cx="166.82" cy="99.86" r="0.35" fill="#e6e6e6" opacity="0.75"/>
<circle cx="165.73" cy="89.19" r="0.35" fill="#e6e6e6" opacity="0.75"/>
<circle cx="144.71" cy="66.2" r="0.45" fill="#e6e6e6" opacity="0.75"/>
<circle cx="157.4" cy="85.82" r="0.55" fill="#e6e6e6" opacity="0.75"/>
<circle cx="153.81" cy="88.1" r="0.55" fill="#e6e6e6" opacity="0.75"/>
<circle cx="149.73" cy="79.91" r="0.45" fill="#e6e6e6" opacity="0.75"/>
<circle cx="150.85" cy="66.63" r="0.35" fill="#e6e6e6" opacity="0.75"/>
<circle cx="175.61" cy="83.1" r="0.35" fill="#e6e6e6" opacity="0.75"/>
<circle cx="172.48" cy="98.95" r="0.45" fill="#e6e6e6" opacity="0.75"/>
<circle cx="161.83" cy="76.06" r="0.35" fill="#e6e6e6" opacity="0.75"/>
<circle cx="146.23" cy="97.05" r="0.45" fill="#e6e6e6" opacity="0.75"/>
<circle cx="170.52" cy="87.91" r="0.55" fill="#e6e6e6" opacity="0.75"/>
<circle cx="185.97" cy="93.75" r="0.35" fill="#e6e6e6" opacity="0.75"/>
<circle cx="151.15" cy="66.12" r="0.35" fill="#e6e6e6" opacity="0.75"/>
<circle cx="167.67" cy="81.41" r="0.35" fill="#e6e6e6" opacity="0.75"/>
<circle cx="150.88" cy="100.47" r="0.35" fill="#e6e6e6" opacity="0.75"/>
<circle cx="144.26" cy="86.87" r="0.35" fill="#e6e6e6" opacity="0.75"/>
<circle cx="150.12" cy="73.62" r="0.55" fill="#e6e6e6" opacity="0.75"/>
<circle cx="172.69" cy="90.51" r="0.45" fill="#e6e6e6" opacity="0.75"/>
<circle cx="180.38" cy="72.68" r="0.45" fill="#e6e6e6" opacity="0.75"/>
<circle cx="146.58" cy="89.7" r="0.55" fill="#e6e6e6" opacity="0.75"/>
<circle cx="179.01" cy="93.07" r="0.35" fill="#e6e6e6" opacity="0.75"/>
<circle cx="160.62" cy="82.56" r="0.45" fill="#e6e6e6" opacity="0.75"/>
<circle cx="147.33" cy="90.81" r="0.35" fill="#e6e6e6" opacity="0.75"/>
<circle cx="153.89" cy="70.07" r="0.35" fill="#e6e6e6" opacity="0.75"/>
<circle cx="172.75" cy="70.75" r="0.55" fill="#e6e6e6" opacity="0.75"/>
<circle cx="185.43" cy="101.65" r="0.45" fill="#e6e6e6" opacity="0.75"/>
<circle cx="175.8" cy="76.13" r="0.55" fill="#e6e6e6" opacity="0.75"/>
<circle cx="174.33" cy="91.95" r="0.55" fill="#e6e6e6" opacity="0.75"/>
<circle cx="187.53" cy="77.24" r="0.35" fill="#e6e6e6" opacity="0.75"/>
<circle cx="147.55" cy="85.23" r="0.35" fill="#e6e6e6" opacity="0.75"/>
<circle cx="155.44" cy="75" r="0.55" fill="#e6e6e6" opacity="0.75"/>
<circle cx="152.85" cy="72.1" r="0.45" fill="#e6e6e6" opacity="0.75"/>
<circle cx="152.36" cy="80.75" r="0.55" fill="#e6e6e6" opacity="0.75"/>
<circle cx="154.49" cy="100.32" r="0.55" fill="#e6e6e6" opacity="0.75"/>
<circle cx="185.27" cy="103.11" r="0.55" fill="#e6e6e6" opacity="0.75"/>
<circle cx="164.87" cy="97.76" r="0.55" fill="#e6e6e6" opacity="0.75"/>
<circle cx="143.99" cy="67.1" r="0.55" fill="#e6e6e6" opacity="0.75"/>
<circle cx="154.25" cy="99.46" r="0.35" fill="#e6e6e6" opacity="0.75"/>
<circle cx="161.36" cy="88.17" r="0.55" fill="#e6e6e6" opacity="0.75"/>
<circle cx="184.78" cy="71.55" r="0.35" fill="#e6e6e6" opacity="0.75"/>
<circle cx="148.75" cy="89.55" r="0.35" fill="#e6e6e6" opacity="0.75"/>
<circle cx="159.25" cy="71.45" r="0.35" fill="#e6e6e6" opacity="0.75"/>
<circle cx="145.09" cy="71.32" r="0.55" fill="#e6e6e6" opacity="0.75"/>
<circle cx="172.29" cy="92.38" r="0.55" fill="#e6e6e6" opacity="0.75"/>
<circle cx="145.81" cy="98.39" r="0.45" fill="#e6e6e6" opacity="0.75"/>
<circle cx="152.69" cy="102.09" r="0.55" fill="#e6e6e6" opacity="0.75"/>
<circle cx="183.9" cy="68.59" r="0.55" fill="#e6e6e6" opacity="0.75"/>
<circle cx="186.29" cy="70.14" r="0.35" fill="#e6e6e6" opacity="0.75"/>
<circle cx="152.86" cy="67.38" r="0.55" fill="#e6e6e6" opacity="0.75"/>
<circle cx="147.64" cy="94.43" r="0.55" fill="#e6e6e6" opacity="0.75"/>
<circle cx="156.66" cy="69.87" r="0.35" fill="#e6e6e6" opacity="0.75"/>
<circle cx="179.42" cy="90.47" r="0.45" fill="#e6e6e6" opacity="0.75"/>
<circle cx="158.09" cy="82.08" r="0.35" fill="#e6e6e6" opacity="0.75"/>
<circle cx="159.53" cy="101.16" r="0.35" fill="#e6e6e6" opacity="0.75"/>
<circle cx="175.98" cy="79.97" r="0.45" fill="#e6e6e6" opacity="0.75"/>
<circle cx="178.39" cy="88.8" r="0.45" fill="#e6e6e6" opacity="0.75"/>
<circle cx="182.1" cy="89.41" r="0.35" fill="#e6e6e6" opacity="0.75"/>
<circle cx="179.29" cy="67.28" r="0.55" fill="#e6e6e6" opacity="0.75"/>
<circle cx="178.56" cy="79.17" r="0.55" fill="#e6e6e6" opacity="0.75"/>
<circle cx="145.87" cy="87.44" r="0.55" fill="#e6e6e6" opacity="0.75"/>
<circle cx="182.59" cy="69.53" r="0.45" fill="#e6e6e6" opacity="0.75"/>
<circle cx="151.38" cy="66.15" r="0.35" fill="#e6e6e6" opacity="0.75"/>
<circle cx="156.7" cy="94.39" r="0.35" fill="#e6e6e6" opacity="0.75"/>
<circle cx="143.9" cy="84.6" r="0.45" fill="#e6e6e6" opacity="0.75"/>
<circle cx="175.05" cy="97.22" r="0.45" fill="#e6e6e6" opacity="0.75"/>
<circle cx="155.06" cy="88.15" r="0.6" fill="#f6f6f6" opacity="0.9"/>
<circle cx="171.97" cy="86.98" r="0.5" fill="#f6f6f6" opacity="0.9"/>
<circle cx="166.04" cy="92.97" r="0.4" fill="#f6f6f6" opacity="0.9"/>
<circle cx="173.84" cy="94.86" r="0.6" fill="#f6f6f6" opacity="0.9"/>
<circle cx="166.11" cy="88.97" r="0.6" fill="#f6f6f6" opacity="0.9"/>
<circle cx="166.83" cy="84.22" r="0.6" fill="#f6f6f6" opacity="0.9"/>
<circle cx="166.43" cy="88.62" r="0.6" fill="#f6f6f6" opacity="0.9"/>
<circle cx="167.2" cy="89.87" r="0.6" fill="#f6f6f6" opacity="0.9"/>
<circle cx="165.22" cy="91.84" r="0.6" fill="#f6f6f6" opacity="0.9"/>
<circle cx="164.96" cy="89" r="0.5" fill="#f6f6f6" opacity="0.9"/>
<circle cx="172.08" cy="86.94" r="0.4" fill="#f6f6f6" opacity="0.9"/>
<circle cx="164.74" cy="88.87" r="0.6" fill="#f6f6f6" opacity="0.9"/>
<circle cx="165.42" cy="89.09" r="0.5" fill="#f6f6f6" opacity="0.9"/>
<circle cx="158.36" cy="88.17" r="0.5" fill="#f6f6f6" opacity="0.9"/>
<circle cx="167.59" cy="92.21" r="0.5" fill="#f6f6f6" opacity="0.9"/>
<circle cx="162.88" cy="83.48" r="0.5" fill="#f6f6f6" opacity="0.9"/>
<circle cx="163.28" cy="89.46" r="0.6" fill="#f6f6f6" opacity="0.9"/>
<circle cx="165.59" cy="90.05" r="0.4" fill="#f6f6f6" opacity="0.9"/>
<circle cx="165.93" cy="88.31" r="0.6" fill="#f6f6f6" opacity="0.9"/>
<circle cx="170.2" cy="94.85" r="0.4" fill="#f6f6f6" opacity="0.9"/>
<circle cx="159.18" cy="84.95" r="0.5" fill="#f6f6f6" opacity="0.9"/>
<circle cx="166.17" cy="89.91" r="0.5" fill="#f6f6f6" opacity="0.9"/>
<circle cx="169.07" cy="88.12" r="0.4" fill="#f6f6f6" opacity="0.9"/>
<circle cx="166.04" cy="89.77" r="0.6" fill="#f6f6f6" opacity="0.9"/>
<circle cx="169.43" cy="88.66" r="0.5" fill="#f6f6f6" opacity="0.9"/>
<circle cx="165.19" cy="86.52" r="0.5" fill="#f6f6f6" opacity="0.9"/>
<circle cx="165.8" cy="88.84" r="0.5" fill="#f6f6f6" opacity="0.9"/>
<circle cx="166.14" cy="90.95" r="0.5" fill="#f6f6f6" opacity="0.9"/>
<circle cx="165.97" cy="88.48" r="0.5" fill="#f6f6f6" opacity="0.9"/>
<circle cx="165.44" cy="88.86" r="0.6" fill="#f6f6f6" opacity="0.9"/>
<circle cx="169.62" cy="89.49" r="0.5" fill="#f6f6f6" opacity="0.9"/>
<circle cx="165.1" cy="88.74" r="0.5" fill="#f6f6f6" opacity="0.9"/>
<circle cx="167.74" cy="86.47" r="0.6" fill="#f6f6f6" opacity="0.9"/>
<circle cx="165.38" cy="88.95" r="0.6" fill="#f6f6f6" opacity="0.9"/>
<circle cx="162.63" cy="84.7" r="0.6" fill="#f6f6f6" opacity="0.9"/>
<circle cx="171.13" cy="84.51" r="0.6" fill="#f6f6f6" opacity="0.9"/>
<circle cx="164.21" cy="86.68" r="0.6" fill="#f6f6f6" opacity="0.9"/>
<circle cx="172.11" cy="94.56" r="0.5" fill="#f6f6f6" opacity="0.9"/>
<circle cx="167.72" cy="90.33" r="0.5" fill="#f6f6f6" opacity="0.9"/>
<circle cx="165.81" cy="94.51" r="0.5" fill="#f6f6f6" opacity="0.9"/>
<circle cx="165.5" cy="90.37" r="0.5" fill="#f6f6f6" opacity="0.9"/>
<circle cx="158.68" cy="89.63" r="0.4" fill="#f6f6f6" opacity="0.9"/>
<circle cx="163.82" cy="86.19" r="0.4" fill="#f6f6f6" opacity="0.9"/>
<circle cx="168.3" cy="87.14" r="0.5" fill="#f6f6f6" opacity="0.9"/>
<circle cx="164.63" cy="89.05" r="0.4" fill="#f6f6f6" opacity="0.9"/>
<circle cx="170.24" cy="89.99" r="0.6" fill="#f6f6f6" opacity="0.9"/>
<circle cx="167.02" cy="88.59" r="0.4" fill="#f6f6f6" opacity="0.9"/>
<circle cx="157.78" cy="88.2" r="0.4" fill="#f6f6f6" opacity="0.9"/>
<circle cx="166.38" cy="91.58" r="0.5" fill="#f6f6f6" opacity="0.9"/>
<circle cx="160.99" cy="88.71" r="0.6" fill="#f6f6f6" opacity="0.9"/>
<circle cx="164.8" cy="89.9" r="0.6" fill="#f6f6f6" opacity="0.9"/>
<circle cx="169.89" cy="87.73" r="0.4" fill="#f6f6f6" opacity="0.9"/>
<circle cx="162.33" cy="88.77" r="0.4" fill="#f6f6f6" opacity="0.9"/>
<circle cx="165.47" cy="88.84" r="0.6" fill="#f6f6f6" opacity="0.9"/>
<circle cx="165.34" cy="89.88" r="0.5" fill="#f6f6f6" opacity="0.9"/>
<circle cx="166.75" cy="89.43" r="0.4" fill="#f6f6f6" opacity="0.9"/>
<circle cx="164.05" cy="85.33" r="0.5" fill="#f6f6f6" opacity="0.9"/>
<circle cx="163.26" cy="87.95" r="0.4" fill="#f6f6f6" opacity="0.9"/>
<circle cx="166.72" cy="88.59" r="0.6" fill="#f6f6f6" opacity="0.9"/>
<circle cx="173.49" cy="87.77" r="0.5" fill="#f6f6f6" opacity="0.9"/>
<circle cx="168.13" cy="87.94" r="0.4" fill="#f6f6f6" opacity="0.9"/>
<circle cx="165.76" cy="88.44" r="0.6" fill="#f6f6f6" opacity="0.9"/>
<circle cx="165.04" cy="86.91" r="0.4" fill="#f6f6f6" opacity="0.9"/>
<circle cx="161.45" cy="93.55" r="0.6" fill="#f6f6f6" opacity="0.9"/>
<circle cx="161.8" cy="90.91" r="0.5" fill="#f6f6f6" opacity="0.9"/>
<circle cx="165.98" cy="82.4" r="0.6" fill="#f6f6f6" opacity="0.9"/>
<circle cx="161.41" cy="93.5" r="0.4" fill="#f6f6f6" opacity="0.9"/>
<circle cx="164.77" cy="94.66" r="0.5" fill="#f6f6f6" opacity="0.9"/>
<circle cx="163.14" cy="84.81" r="0.5" fill="#f6f6f6" opacity="0.9"/>
<circle cx="178.67" cy="89.19" r="0.6" fill="#f6f6f6" opacity="0.9"/>
<circle cx="164.7" cy="88" r="0.5" fill="#f6f6f6" opacity="0.9"/>
<circle cx="161.05" cy="89.49" r="0.5" fill="#f6f6f6" opacity="0.9"/>
<circle cx="166.7" cy="88.23" r="0.4" fill="#f6f6f6" opacity="0.9"/>
<circle cx="166.83" cy="88.46" r="0.5" fill="#f6f6f6" opacity="0.9"/>
<circle cx="172.79" cy="84.83" r="0.4" fill="#f6f6f6" opacity="0.9"/>
<circle cx="162.27" cy="88.46" r="0.5" fill="#f6f6f6" opacity="0.9"/>
<circle cx="166.08" cy="89.04" r="0.4" fill="#f6f6f6" opacity="0.9"/>
<circle cx="165.14" cy="88.54" r="0.5" fill="#f6f6f6" opacity="0.9"/>
<circle cx="168.61" cy="85.55" r="0.4" fill="#f6f6f6" opacity="0.9"/>
<circle cx="166.18" cy="85.54" r="0.5" fill="#f6f6f6" opacity="0.9"/>
<circle cx="164.89" cy="89.36" r="0.6" fill="#f6f6f6" opacity="0.9"/>
<circle cx="167.15" cy="91.47" r="0.6" fill="#f6f6f6" opacity="0.9"/>
<circle cx="162.18" cy="83.98" r="0.6" fill="#f6f6f6" opacity="0.9"/>
<circle cx="166.8" cy="84.47" r="0.5" fill="#f6f6f6" opacity="0.9"/>
<circle cx="163.05" cy="88.59" r="0.6" fill="#f6f6f6" opacity="0.9"/>
<circle cx="169.37" cy="83.77" r="0.6" fill="#f6f6f6" opacity="0.9"/>
<circle cx="165.07" cy="92.99" r="0.4" fill="#f6f6f6" opacity="0.9"/>
<circle cx="167.49" cy="85.78" r="0.5" fill="#f6f6f6" opacity="0.9"/>
<circle cx="163.8" cy="89.3" r="0.4" fill="#f6f6f6" opacity="0.9"/>
<circle cx="165.48" cy="88.94" r="0.4" fill="#f6f6f6" opacity="0.9"/>
<circle cx="169.56" cy="84.98" r="0.4" fill="#f6f6f6" opacity="0.9"/>
<circle cx="165.54" cy="89.05" r="0.5" fill="#f6f6f6" opacity="0.9"/>
<circle cx="162.3" cy="84.39" r="0.5" fill="#f6f6f6" opacity="0.9"/>
<circle cx="164.59" cy="89.77" r="0.5" fill="#f6f6f6" opacity="0.9"/>
<circle cx="168.67" cy="94.78" r="0.5" fill="#f6f6f6" opacity="0.9"/>
<circle cx="165.5" cy="89" r="0.4" fill="#f6f6f6" opacity="0.9"/>
<circle cx="165.37" cy="87.71" r="0.5" fill="#f6f6f6" opacity="0.9"/>
<circle cx="165.57" cy="88.84" r="0.4" fill="#f6f6f6" opacity="0.9"/>
<circle cx="170.1" cy="86.07" r="0.4" fill="#f6f6f6" opacity="0.9"/>
<circle cx="165.59" cy="89.32" r="0.5" fill="#f6f6f6" opacity="0.9"/>
<circle cx="167.57" cy="86.92" r="0.5" fill="#f6f6f6" opacity="0.9"/>
<circle cx="163.75" cy="91.3" r="0.6" fill="#f6f6f6" opacity="0.9"/>
<circle cx="163.29" cy="97.64" r="0.5" fill="#f6f6f6" opacity="0.9"/>
<circle cx="162.25" cy="90.47" r="0.6" fill="#f6f6f6" opacity="0.9"/>
<circle cx="163.1" cy="91.62" r="0.5" fill="#f6f6f6" opacity="0.9"/>
<circle cx="164.39" cy="89.65" r="0.6" fill="#f6f6f6" opacity="0.9"/>
<circle cx="159.83" cy="96.11" r="0.4" fill="#f6f6f6" opacity="0.9"/>
<circle cx="164.93" cy="88.3" r="0.4" fill="#f6f6f6" opacity="0.9"/>
<circle cx="164.85" cy="90.72" r="0.6" fill="#f6f6f6" opacity="0.9"/>
<circle cx="169.26" cy="88.45" r="0.4" fill="#f6f6f6" opacity="0.9"/>
</g></g>
<text x="152" y="113.75" font-size="7.6" textLength="22" lengthAdjust="spacingAndGlyphs">e12.4</text>
<g><clipPath id="cb3"><rect x="197.3" y="66.1" width="43.7" height="37.7"/></clipPath>
<g clip-path="url(#cb3)">
<rect x="197.3" y="66.1" width="43.7" height="37.7" fill="url(#bg3)"/>
<circle cx="219.6" cy="90" r="7" fill="url(#glow)"/>
<circle cx="231.57" cy="67.61" r="0.55" fill="#e6e6e6" opacity="0.75"/>
<circle cx="221.52" cy="81.41" r="0.55" fill="#e6e6e6" opacity="0.75"/>
<circle cx="199.47" cy="77.43" r="0.35" fill="#e6e6e6" opacity="0.75"/>
<circle cx="199.33" cy="97.09" r="0.45" fill="#e6e6e6" opacity="0.75"/>
<circle cx="223.9" cy="90.91" r="0.55" fill="#e6e6e6" opacity="0.75"/>
<circle cx="237.06" cy="89.16" r="0.55" fill="#e6e6e6" opacity="0.75"/>
<circle cx="203.73" cy="91.5" r="0.55" fill="#e6e6e6" opacity="0.75"/>
<circle cx="223.36" cy="91.77" r="0.35" fill="#e6e6e6" opacity="0.75"/>
<circle cx="199.03" cy="89.99" r="0.55" fill="#e6e6e6" opacity="0.75"/>
<circle cx="230.63" cy="69.92" r="0.35" fill="#e6e6e6" opacity="0.75"/>
<circle cx="235.28" cy="81.99" r="0.35" fill="#e6e6e6" opacity="0.75"/>
<circle cx="237.25" cy="90.82" r="0.45" fill="#e6e6e6" opacity="0.75"/>
<circle cx="235.4" cy="71.33" r="0.45" fill="#e6e6e6" opacity="0.75"/>
<circle cx="221.86" cy="75.83" r="0.45" fill="#e6e6e6" opacity="0.75"/>
<circle cx="205.37" cy="67.39" r="0.35" fill="#e6e6e6" opacity="0.75"/>
<circle cx="216.12" cy="90.29" r="0.35" fill="#e6e6e6" opacity="0.75"/>
<circle cx="219.05" cy="85.79" r="0.35" fill="#e6e6e6" opacity="0.75"/>
<circle cx="231.11" cy="81.97" r="0.55" fill="#e6e6e6" opacity="0.75"/>
<circle cx="237.44" cy="82.93" r="0.35" fill="#e6e6e6" opacity="0.75"/>
<circle cx="227.01" cy="88.49" r="0.55" fill="#e6e6e6" opacity="0.75"/>
<circle cx="240.16" cy="84.02" r="0.45" fill="#e6e6e6" opacity="0.75"/>
<circle cx="221.28" cy="69.23" r="0.45" fill="#e6e6e6" opacity="0.75"/>
<circle cx="206.58" cy="71.82" r="0.35" fill="#e6e6e6" opacity="0.75"/>
<circle cx="215.96" cy="66.45" r="0.55" fill="#e6e6e6" opacity="0.75"/>
<circle cx="202.62" cy="102.53" r="0.35" fill="#e6e6e6" opacity="0.75"/>
<circle cx="206.84" cy="70.67" r="0.45" fill="#e6e6e6" opacity="0.75"/>
<circle cx="198.08" cy="93.22" r="0.35" fill="#e6e6e6" opacity="0.75"/>
<circle cx="217" cy="94.16" r="0.35" fill="#e6e6e6" opacity="0.75"/>
<circle cx="213.29" cy="94.27" r="0.55" fill="#e6e6e6" opacity="0.75"/>
<circle cx="234.69" cy="93.61" r="0.35" fill="#e6e6e6" opacity="0.75"/>
<circle cx="210.11" cy="87.12" r="0.45" fill="#e6e6e6" opacity="0.75"/>
<circle cx="217.43" cy="101.25" r="0.45" fill="#e6e6e6" opacity="0.75"/>
<circle cx="237.22" cy="68.09" r="0.35" fill="#e6e6e6" opacity="0.75"/>
<circle cx="197.8" cy="66.66" r="0.55" fill="#e6e6e6" opacity="0.75"/>
<circle cx="227.31" cy="89.41" r="0.45" fill="#e6e6e6" opacity="0.75"/>
<circle cx="210.89" cy="93.6" r="0.35" fill="#e6e6e6" opacity="0.75"/>
<circle cx="239.15" cy="97.58" r="0.55" fill="#e6e6e6" opacity="0.75"/>
<circle cx="199.91" cy="79.96" r="0.55" fill="#e6e6e6" opacity="0.75"/>
<circle cx="229.1" cy="83.81" r="0.35" fill="#e6e6e6" opacity="0.75"/>
<circle cx="203.63" cy="96.16" r="0.45" fill="#e6e6e6" opacity="0.75"/>
<circle cx="220.26" cy="88.34" r="0.5" fill="#f6f6f6" opacity="0.9"/>
<circle cx="219.14" cy="90.34" r="0.5" fill="#f6f6f6" opacity="0.9"/>
<circle cx="214.18" cy="87.94" r="0.5" fill="#f6f6f6" opacity="0.9"/>
<circle cx="219.2" cy="91.79" r="0.6" fill="#f6f6f6" opacity="0.9"/>
<circle cx="222.19" cy="85.84" r="0.5" fill="#f6f6f6" opacity="0.9"/>
<circle cx="220.22" cy="89.43" r="0.6" fill="#f6f6f6" opacity="0.9"/>
<circle cx="214.19" cy="86.61" r="0.5" fill="#f6f6f6" opacity="0.9"/>
<circle cx="218.77" cy="89.59" r="0.4" fill="#f6f6f6" opacity="0.9"/>
<circle cx="216.46" cy="88.02" r="0.4" fill="#f6f6f6" opacity="0.9"/>
<circle cx="220.95" cy="86.96" r="0.5" fill="#f6f6f6" opacity="0.9"/>
<circle cx="219.47" cy="91.01" r="0.4" fill="#f6f6f6" opacity="0.9"/>
<circle cx="217.09" cy="88.71" r="0.4" fill="#f6f6f6" opacity="0.9"/>
<circle cx="219.97" cy="89.74" r="0.6" fill="#f6f6f6" opacity="0.9"/>
<circle cx="220.76" cy="91.31" r="0.6" fill="#f6f6f6" opacity="0.9"/>
<circle cx="217.78" cy="92.22" r="0.4" fill="#f6f6f6" opacity="0.9"/>
<circle cx="212.52" cy="88.46" r="0.5" fill="#f6f6f6" opacity="0.9"/>
<circle cx="219.6" cy="89.4" r="0.4" fill="#f6f6f6" opacity="0.9"/>
<circle cx="218.76" cy="91.82" r="0.4" fill="#f6f6f6" opacity="0.9"/>
<circle cx="220.08" cy="91.45" r="0.5" fill="#f6f6f6" opacity="0.9"/>
<circle cx="216.5" cy="88.41" r="0.4" fill="#f6f6f6" opacity="0.9"/>
<circle cx="220.48" cy="90.46" r="0.5" fill="#f6f6f6" opacity="0.9"/>
<circle cx="220.14" cy="86.75" r="0.4" fill="#f6f6f6" opacity="0.9"/>
<circle cx="219.39" cy="92.97" r="0.6" fill="#f6f6f6" opacity="0.9"/>
<circle cx="218.48" cy="92" r="0.6" fill="#f6f6f6" opacity="0.9"/>
<circle cx="220.3" cy="91.57" r="0.4" fill="#f6f6f6" opacity="0.9"/>
<circle cx="220.03" cy="89.01" r="0.5" fill="#f6f6f6" opacity="0.9"/>
<circle cx="217.13" cy="91.48" r="0.6" fill="#f6f6f6" opacity="0.9"/>
<circle cx="221.79" cy="87.66" r="0.4" fill="#f6f6f6" opacity="0.9"/>
<circle cx="211.28" cy="97.16" r="0.4" fill="#f6f6f6" opacity="0.9"/>
<circle cx="217.24" cy="92.09" r="0.5" fill="#f6f6f6" opacity="0.9"/>
<circle cx="219.2" cy="89.76" r="0.5" fill="#f6f6f6" opacity="0.9"/>
<circle cx="219.21" cy="91.7" r="0.6" fill="#f6f6f6" opacity="0.9"/>
<circle cx="220.53" cy="89.95" r="0.6" fill="#f6f6f6" opacity="0.9"/>
<circle cx="219.48" cy="90.01" r="0.6" fill="#f6f6f6" opacity="0.9"/>
<circle cx="219.25" cy="91.55" r="0.4" fill="#f6f6f6" opacity="0.9"/>
<circle cx="227.14" cy="87.76" r="0.6" fill="#f6f6f6" opacity="0.9"/>
<circle cx="219.5" cy="93.3" r="0.4" fill="#f6f6f6" opacity="0.9"/>
<circle cx="215.15" cy="96.06" r="0.4" fill="#f6f6f6" opacity="0.9"/>
<circle cx="220.2" cy="90.11" r="0.5" fill="#f6f6f6" opacity="0.9"/>
<circle cx="220.01" cy="89.64" r="0.5" fill="#f6f6f6" opacity="0.9"/>
<circle cx="225.07" cy="86.38" r="0.6" fill="#f6f6f6" opacity="0.9"/>
<circle cx="219.23" cy="89.62" r="0.4" fill="#f6f6f6" opacity="0.9"/>
<circle cx="219.42" cy="90.33" r="0.4" fill="#f6f6f6" opacity="0.9"/>
<circle cx="218.65" cy="89.01" r="0.6" fill="#f6f6f6" opacity="0.9"/>
<circle cx="220.94" cy="88.43" r="0.5" fill="#f6f6f6" opacity="0.9"/>
<circle cx="219.69" cy="89.98" r="0.6" fill="#f6f6f6" opacity="0.9"/>
<circle cx="219.59" cy="90.15" r="0.5" fill="#f6f6f6" opacity="0.9"/>
<circle cx="220.53" cy="90.31" r="0.6" fill="#f6f6f6" opacity="0.9"/>
<circle cx="225.02" cy="91.4" r="0.6" fill="#f6f6f6" opacity="0.9"/>
<circle cx="218.63" cy="86.82" r="0.6" fill="#f6f6f6" opacity="0.9"/>
<circle cx="219.84" cy="90.15" r="0.5" fill="#f6f6f6" opacity="0.9"/>
<circle cx="219.73" cy="86.49" r="0.4" fill="#f6f6f6" opacity="0.9"/>
<circle cx="218.47" cy="89.38" r="0.6" fill="#f6f6f6" opacity="0.9"/>
<circle cx="221.74" cy="91.42" r="0.5" fill="#f6f6f6" opacity="0.9"/>
<circle cx="217.85" cy="91.49" r="0.5" fill="#f6f6f6" opacity="0.9"/>
<circle cx="220.86" cy="91.91" r="0.4" fill="#f6f6f6" opacity="0.9"/>
<circle cx="221.8" cy="88.5" r="0.5" fill="#f6f6f6" opacity="0.9"/>
<circle cx="218.07" cy="83.79" r="0.4" fill="#f6f6f6" opacity="0.9"/>
<circle cx="219.92" cy="89.53" r="0.4" fill="#f6f6f6" opacity="0.9"/>
<circle cx="221.44" cy="89.31" r="0.5" fill="#f6f6f6" opacity="0.9"/>
<circle cx="218.17" cy="90.42" r="0.4" fill="#f6f6f6" opacity="0.9"/>
<circle cx="220.74" cy="89.52" r="0.5" fill="#f6f6f6" opacity="0.9"/>
<circle cx="216.95" cy="90.7" r="0.5" fill="#f6f6f6" opacity="0.9"/>
<circle cx="217.73" cy="93.23" r="0.4" fill="#f6f6f6" opacity="0.9"/>
<circle cx="222.73" cy="93.33" r="0.4" fill="#f6f6f6" opacity="0.9"/>
<circle cx="219.54" cy="89.4" r="0.4" fill="#f6f6f6" opacity="0.9"/>
<circle cx="220.23" cy="90.69" r="0.4" fill="#f6f6f6" opacity="0.9"/>
<circle cx="219.14" cy="93.76" r="0.5" fill="#f6f6f6" opacity="0.9"/>
<circle cx="219.58" cy="89.99" r="0.5" fill="#f6f6f6" opacity="0.9"/>
<circle cx="219.19" cy="90.6" r="0.4" fill="#f6f6f6" opacity="0.9"/>
<circle cx="219.49" cy="90.03" r="0.5" fill="#f6f6f6" opacity="0.9"/>
<circle cx="220.9" cy="90.97" r="0.6" fill="#f6f6f6" opacity="0.9"/>
<circle cx="216.08" cy="84.7" r="0.4" fill="#f6f6f6" opacity="0.9"/>
<circle cx="217.11" cy="89.16" r="0.5" fill="#f6f6f6" opacity="0.9"/>
<circle cx="223.95" cy="89.31" r="0.5" fill="#f6f6f6" opacity="0.9"/>
<circle cx="223.7" cy="89.8" r="0.4" fill="#f6f6f6" opacity="0.9"/>
<circle cx="219.24" cy="91.2" r="0.4" fill="#f6f6f6" opacity="0.9"/>
<circle cx="220.29" cy="90.22" r="0.6" fill="#f6f6f6" opacity="0.9"/>
<circle cx="218.33" cy="88.7" r="0.5" fill="#f6f6f6" opacity="0.9"/>
<circle cx="219.69" cy="89.78" r="0.5" fill="#f6f6f6" opacity="0.9"/>
<circle cx="220.56" cy="86.8" r="0.6" fill="#f6f6f6" opacity="0.9"/>
<circle cx="219.54" cy="90.22" r="0.5" fill="#f6f6f6" opacity="0.9"/>
<circle cx="221.04" cy="96.07" r="0.6" fill="#f6f6f6" opacity="0.9"/>
<circle cx="220.92" cy="92.42" r="0.4" fill="#f6f6f6" opacity="0.9"/>
<circle cx="220.76" cy="91.96" r="0.6" fill="#f6f6f6" opacity="0.9"/>
<circle cx="219.91" cy="90.14" r="0.4" fill="#f6f6f6" opacity="0.9"/>
<circle cx="219.92" cy="86.2" r="0.4" fill="#f6f6f6" opacity="0.9"/>
<circle cx="220.62" cy="93.06" r="0.6" fill="#f6f6f6" opacity="0.9"/>
<circle cx="220.47" cy="91.94" r="0.5" fill="#f6f6f6" opacity="0.9"/>
<circle cx="220.91" cy="93.6" r="0.4" fill="#f6f6f6" opacity="0.9"/>
<circle cx="220.44" cy="88.89" r="0.4" fill="#f6f6f6" opacity="0.9"/>
<circle cx="215.55" cy="89.6" r="0.5" fill="#f6f6f6" opacity="0.9"/>
<circle cx="221.92" cy="87.74" r="0.5" fill="#f6f6f6" opacity="0.9"/>
<circle cx="224.61" cy="92.72" r="0.5" fill="#f6f6f6" opacity="0.9"/>
<circle cx="222" cy="87.88" r="0.5" fill="#f6f6f6" opacity="0.9"/>
<circle cx="219.62" cy="91.86" r="0.6" fill="#f6f6f6" opacity="0.9"/>
<circle cx="220.47" cy="91.23" r="0.5" fill="#f6f6f6" opacity="0.9"/>
<circle cx="216.93" cy="88.84" r="0.4" fill="#f6f6f6" opacity="0.9"/>
<circle cx="224.67" cy="89.14" r="0.4" fill="#f6f6f6" opacity="0.9"/>
<circle cx="224.36" cy="93.84" r="0.6" fill="#f6f6f6" opacity="0.9"/>
<circle cx="219.79" cy="89.9" r="0.6" fill="#f6f6f6" opacity="0.9"/>
<circle cx="224.18" cy="85.76" r="0.6" fill="#f6f6f6" opacity="0.9"/>
<circle cx="219.61" cy="89.99" r="0.6" fill="#f6f6f6" opacity="0.9"/>
<circle cx="218.32" cy="90.04" r="0.6" fill="#f6f6f6" opacity="0.9"/>
<circle cx="223.86" cy="94.08" r="0.4" fill="#f6f6f6" opacity="0.9"/>
<circle cx="220.62" cy="89.82" r="0.4" fill="#f6f6f6" opacity="0.9"/>
<circle cx="218.99" cy="91.26" r="0.6" fill="#f6f6f6" opacity="0.9"/>
<circle cx="220.21" cy="88.85" r="0.4" fill="#f6f6f6" opacity="0.9"/>
<circle cx="219.02" cy="83.08" r="0.5" fill="#f6f6f6" opacity="0.9"/>
<circle cx="220.6" cy="90.09" r="0.6" fill="#f6f6f6" opacity="0.9"/>
<circle cx="219.79" cy="92.22" r="0.5" fill="#f6f6f6" opacity="0.9"/>
<circle cx="222.03" cy="91.56" r="0.4" fill="#f6f6f6" opacity="0.9"/>
<circle cx="219.76" cy="90.13" r="0.5" fill="#f6f6f6" opacity="0.9"/>
<circle cx="218.68" cy="89.53" r="0.5" fill="#f6f6f6" opacity="0.9"/>
<circle cx="220.66" cy="89.2" r="0.6" fill="#f6f6f6" opacity="0.9"/>
<circle cx="218.62" cy="89.46" r="0.4" fill="#f6f6f6" opacity="0.9"/>
<circle cx="219.54" cy="87.6" r="0.4" fill="#f6f6f6" opacity="0.9"/>
<circle cx="223.15" cy="88.98" r="0.4" fill="#f6f6f6" opacity="0.9"/>
<circle cx="216.7" cy="91.34" r="0.6" fill="#f6f6f6" opacity="0.9"/>
<circle cx="218.25" cy="89.81" r="0.5" fill="#f6f6f6" opacity="0.9"/>
<circle cx="218.85" cy="90.74" r="0.5" fill="#f6f6f6" opacity="0.9"/>
<circle cx="219.61" cy="90.18" r="0.5" fill="#f6f6f6" opacity="0.9"/>
<circle cx="218.23" cy="89.5" r="0.5" fill="#f6f6f6" opacity="0.9"/>
<circle cx="222.29" cy="84.72" r="0.6" fill="#f6f6f6" opacity="0.9"/>
<circle cx="223.56" cy="89.09" r="0.5" fill="#f6f6f6" opacity="0.9"/>
<circle cx="219.61" cy="91.22" r="0.5" fill="#f6f6f6" opacity="0.9"/>
<circle cx="219.82" cy="90.15" r="0.4" fill="#f6f6f6" opacity="0.9"/>
<circle cx="220.03" cy="90.17" r="0.5" fill="#f6f6f6" opacity="0.9"/>
<circle cx="219.85" cy="91.37" r="0.5" fill="#f6f6f6" opacity="0.9"/>
<circle cx="224.61" cy="89.18" r="0.5" fill="#f6f6f6" opacity="0.9"/>
</g></g>
<text x="205.2" y="113.75" font-size="7.6" textLength="19.6" lengthAdjust="spacingAndGlyphs">e20.1</text>
<g><clipPath id="cb4"><rect x="250" y="66.1" width="42.7" height="37.7"/></clipPath>
<g clip-path="url(#cb4)">
<rect x="250" y="66.1" width="42.7" height="37.7" fill="url(#bg4)"/>
<circle cx="268.65" cy="87.38" r="0.45" fill="#7a6e5c" opacity="0.8"/>
<circle cx="273.09" cy="87.34" r="0.45" fill="#7a6e5c" opacity="0.8"/>
<circle cx="272.84" cy="89.37" r="0.45" fill="#7a6e5c" opacity="0.8"/>
<circle cx="270.36" cy="90.8" r="0.45" fill="#7a6e5c" opacity="0.8"/>
<circle cx="270.31" cy="90.48" r="0.45" fill="#7a6e5c" opacity="0.8"/>
<circle cx="272.58" cy="88.24" r="0.45" fill="#7a6e5c" opacity="0.8"/>
<circle cx="270.59" cy="90.45" r="0.45" fill="#7a6e5c" opacity="0.8"/>
<circle cx="267.01" cy="90.19" r="0.45" fill="#7a6e5c" opacity="0.8"/>
<circle cx="270.28" cy="90" r="0.45" fill="#7a6e5c" opacity="0.8"/>
<circle cx="270.11" cy="88.51" r="0.45" fill="#7a6e5c" opacity="0.8"/>
<circle cx="267.28" cy="87.32" r="0.45" fill="#7a6e5c" opacity="0.8"/>
<circle cx="269.34" cy="88.92" r="0.45" fill="#7a6e5c" opacity="0.8"/>
<circle cx="268.67" cy="89.31" r="0.45" fill="#7a6e5c" opacity="0.8"/>
<circle cx="271.09" cy="89.5" r="0.45" fill="#7a6e5c" opacity="0.8"/>
<circle cx="271.5" cy="89.74" r="0.45" fill="#7a6e5c" opacity="0.8"/>
<circle cx="269.5" cy="89.55" r="0.45" fill="#7a6e5c" opacity="0.8"/>
<circle cx="270.63" cy="89.51" r="0.45" fill="#7a6e5c" opacity="0.8"/>
<circle cx="267.67" cy="88.34" r="0.45" fill="#7a6e5c" opacity="0.8"/>
<circle cx="276.04" cy="87.6" r="0.4" fill="#c0bbb2"/>
<circle cx="277.77" cy="73.68" r="0.4" fill="#c0bbb2"/>
<circle cx="280.33" cy="83.48" r="0.4" fill="#c0bbb2"/>
<circle cx="273.4" cy="89.2" r="0.4" fill="#c0bbb2"/>
<circle cx="270.02" cy="77.81" r="0.4" fill="#c0bbb2"/>
<circle cx="260.34" cy="74.45" r="0.4" fill="#c0bbb2"/>
<circle cx="271.88" cy="80.55" r="0.4" fill="#c0bbb2"/>
<circle cx="275.01" cy="66.55" r="0.4" fill="#c0bbb2"/>
<circle cx="265.06" cy="98.59" r="0.4" fill="#c0bbb2"/>
<circle cx="260.19" cy="87.09" r="0.4" fill="#c0bbb2"/>
</g></g>
<text x="258" y="113.75" font-size="7.6" textLength="17.4" lengthAdjust="spacingAndGlyphs">e21.1</text>
<text x="310" y="14.9" font-size="10.5">B</text>
<text x="320.3" y="64.5" font-size="8.8" text-anchor="middle" textLength="98" lengthAdjust="spacingAndGlyphs" transform="rotate(-90 320.3 64.5)">Colony number / 500 cells</text>
<line x1="344.6" y1="17" x2="344.6" y2="110.4" stroke="#231f20" stroke-width="1.1"/>
<line x1="341.4" y1="19.7" x2="344.6" y2="19.7" stroke="#231f20" stroke-width="1"/>
<text x="339.1" y="22.4" font-size="7.6" text-anchor="end" textLength="11.3" lengthAdjust="spacingAndGlyphs">150</text>
<line x1="341.4" y1="49.93" x2="344.6" y2="49.93" stroke="#231f20" stroke-width="1"/>
<text x="339.1" y="52.63" font-size="7.6" text-anchor="end" textLength="11.3" lengthAdjust="spacingAndGlyphs">100</text>
<line x1="341.4" y1="80.17" x2="344.6" y2="80.17" stroke="#231f20" stroke-width="1"/>
<text x="339.1" y="82.87" font-size="7.6" text-anchor="end" textLength="7.5" lengthAdjust="spacingAndGlyphs">50</text>
<line x1="341.4" y1="110.4" x2="344.6" y2="110.4" stroke="#231f20" stroke-width="1"/>
<text x="339.1" y="113.1" font-size="7.6" text-anchor="end" textLength="3.8" lengthAdjust="spacingAndGlyphs">0</text>
<line x1="344.6" y1="110.4" x2="435" y2="110.4" stroke="#231f20" stroke-width="1"/>
<line x1="353.7" y1="110.4" x2="353.7" y2="113.6" stroke="#231f20" stroke-width="1"/>
<rect x="348.1" y="51.14" width="11.2" height="59.26" fill="#fff" stroke="#231f20" stroke-width="1"/>
<line x1="371.8" y1="110.4" x2="371.8" y2="113.6" stroke="#231f20" stroke-width="1"/>
<rect x="366.2" y="102.54" width="11.2" height="7.86" fill="#fff" stroke="#231f20" stroke-width="1"/>
<line x1="389.9" y1="110.4" x2="389.9" y2="113.6" stroke="#231f20" stroke-width="1"/>
<rect x="384.3" y="106.17" width="11.2" height="4.23" fill="#fff" stroke="#231f20" stroke-width="1"/>
<line x1="408" y1="110.4" x2="408" y2="113.6" stroke="#231f20" stroke-width="1"/>
<rect x="402.4" y="107.98" width="11.2" height="2.42" fill="#fff" stroke="#231f20" stroke-width="1"/>
<line x1="426.1" y1="110.4" x2="426.1" y2="113.6" stroke="#231f20" stroke-width="1"/>
<rect x="420.5" y="108.89" width="11.2" height="1.51" fill="#fff" stroke="#231f20" stroke-width="1"/>
<line x1="353.7" y1="34.82" x2="353.7" y2="66.26" stroke="#231f20" stroke-width="0.9"/>
<line x1="351.1" y1="34.82" x2="356.3" y2="34.82" stroke="#231f20" stroke-width="0.9"/>
<line x1="351.1" y1="66.26" x2="356.3" y2="66.26" stroke="#231f20" stroke-width="0.9"/>
<circle cx="351" cy="62" r="2" fill="#a51c35"/>
<circle cx="356.7" cy="57.7" r="2" fill="#a51c35"/>
<circle cx="353.6" cy="33" r="2" fill="#a51c35"/>
<line x1="371.8" y1="95.28" x2="371.8" y2="107.98" stroke="#231f20" stroke-width="0.9"/>
<line x1="369.2" y1="95.28" x2="374.4" y2="95.28" stroke="#231f20" stroke-width="0.9"/>
<line x1="369.2" y1="107.98" x2="374.4" y2="107.98" stroke="#231f20" stroke-width="0.9"/>
<circle cx="371.7" cy="95" r="2" fill="#a51c35"/>
<circle cx="368.8" cy="106.3" r="2" fill="#a51c35"/>
<circle cx="374.6" cy="103" r="2" fill="#a51c35"/>
<line x1="389.9" y1="103.75" x2="389.9" y2="109.8" stroke="#231f20" stroke-width="0.9"/>
<line x1="387.3" y1="103.75" x2="392.5" y2="103.75" stroke="#231f20" stroke-width="0.9"/>
<line x1="387.3" y1="109.8" x2="392.5" y2="109.8" stroke="#231f20" stroke-width="0.9"/>
<circle cx="386.5" cy="103.5" r="2" fill="#a51c35"/>
<circle cx="393.4" cy="106.7" r="2" fill="#a51c35"/>
<circle cx="389.9" cy="108.8" r="2" fill="#a51c35"/>
<line x1="408" y1="106.17" x2="408" y2="110.1" stroke="#231f20" stroke-width="0.9"/>
<line x1="405.4" y1="106.17" x2="410.6" y2="106.17" stroke="#231f20" stroke-width="0.9"/>
<line x1="405.4" y1="110.1" x2="410.6" y2="110.1" stroke="#231f20" stroke-width="0.9"/>
<circle cx="404.6" cy="105.5" r="2" fill="#a51c35"/>
<circle cx="407.7" cy="109.2" r="2" fill="#a51c35"/>
<circle cx="411.3" cy="108.5" r="2" fill="#a51c35"/>
<line x1="426.1" y1="108.28" x2="426.1" y2="109.49" stroke="#231f20" stroke-width="0.9"/>
<line x1="423.5" y1="108.28" x2="428.7" y2="108.28" stroke="#231f20" stroke-width="0.9"/>
<line x1="423.5" y1="109.49" x2="428.7" y2="109.49" stroke="#231f20" stroke-width="0.9"/>
<circle cx="423.5" cy="108.8" r="2" fill="#a51c35"/>
<circle cx="426.1" cy="109.3" r="2" fill="#a51c35"/>
<circle cx="428.8" cy="108.8" r="2" fill="#a51c35"/>
<line x1="355" y1="23.5" x2="430.8" y2="23.5" stroke="#333" stroke-width="1"/>
<path d="M391.55 19.3L391.55 21.9M390.42 19.95L392.68 21.25M390.42 21.25L392.68 19.95" stroke="#222" stroke-width="0.9" fill="none"/>
<path d="M394.45 19.3L394.45 21.9M393.32 19.95L395.58 21.25M393.32 21.25L395.58 19.95" stroke="#222" stroke-width="0.9" fill="none"/>
<line x1="355" y1="30.5" x2="411.8" y2="30.5" stroke="#333" stroke-width="1"/>
<path d="M382.05 26.3L382.05 28.9M380.92 26.95L383.18 28.25M380.92 28.25L383.18 26.95" stroke="#222" stroke-width="0.9" fill="none"/>
<path d="M384.95 26.3L384.95 28.9M383.82 26.95L386.08 28.25M383.82 28.25L386.08 26.95" stroke="#222" stroke-width="0.9" fill="none"/>
<line x1="355" y1="37.5" x2="393" y2="37.5" stroke="#333" stroke-width="1"/>
<path d="M369.35 33.5L369.35 36.1M368.22 34.15L370.48 35.45M368.22 35.45L370.48 34.15" stroke="#222" stroke-width="0.9" fill="none"/>
<path d="M372.25 33.5L372.25 36.1M371.12 34.15L373.38 35.45M371.12 35.45L373.38 34.15" stroke="#222" stroke-width="0.9" fill="none"/>
<line x1="355" y1="44.5" x2="374.2" y2="44.5" stroke="#333" stroke-width="1"/>
<path d="M363.15 40.5L363.15 43.1M362.02 41.15L364.28 42.45M362.02 42.45L364.28 41.15" stroke="#222" stroke-width="0.9" fill="none"/>
<path d="M366.05 40.5L366.05 43.1M364.92 41.15L367.18 42.45M364.92 42.45L367.18 41.15" stroke="#222" stroke-width="0.9" fill="none"/>
<text x="356.3" y="118.9" font-size="7.8" text-anchor="end" textLength="22.5" lengthAdjust="spacingAndGlyphs" transform="rotate(-45 356.3 118.9)">Renilla</text>
<text x="372.8" y="118.7" font-size="7.8" text-anchor="end" textLength="17.5" lengthAdjust="spacingAndGlyphs" transform="rotate(-45 372.8 118.7)">e12.3</text>
<text x="390.9" y="118.7" font-size="7.8" text-anchor="end" textLength="17.5" lengthAdjust="spacingAndGlyphs" transform="rotate(-45 390.9 118.7)">e12.4</text>
<text x="409" y="118.7" font-size="7.8" text-anchor="end" textLength="17.5" lengthAdjust="spacingAndGlyphs" transform="rotate(-45 409 118.7)">e20.1</text>
<text x="427.1" y="118.7" font-size="7.8" text-anchor="end" textLength="17.5" lengthAdjust="spacingAndGlyphs" transform="rotate(-45 427.1 118.7)">e21.1</text>
<text x="7.5" y="160.3" font-size="10.5">C</text>
<text x="17.4" y="217" font-size="9" text-anchor="middle" textLength="48.3" lengthAdjust="spacingAndGlyphs" transform="rotate(-90 17.4 217)">Cell number</text>
<line x1="40.4" y1="169.9" x2="40.4" y2="263.4" stroke="#231f20" stroke-width="1.1"/>
<line x1="37.4" y1="264.4" x2="40.4" y2="264.4" stroke="#231f20" stroke-width="1"/>
<text x="31" y="268.4" font-size="6.9" text-anchor="end" textLength="6.7" lengthAdjust="spacingAndGlyphs">10</text>
<text x="31.3" y="265.8" font-size="4.9" textLength="2.6" lengthAdjust="spacingAndGlyphs">3</text>
<line x1="38.8" y1="257.51" x2="40.4" y2="257.51" stroke="#231f20" stroke-width="0.7"/>
<line x1="38.8" y1="253.47" x2="40.4" y2="253.47" stroke="#231f20" stroke-width="0.7"/>
<line x1="38.8" y1="250.61" x2="40.4" y2="250.61" stroke="#231f20" stroke-width="0.7"/>
<line x1="38.8" y1="248.39" x2="40.4" y2="248.39" stroke="#231f20" stroke-width="0.7"/>
<line x1="38.8" y1="246.58" x2="40.4" y2="246.58" stroke="#231f20" stroke-width="0.7"/>
<line x1="38.8" y1="245.05" x2="40.4" y2="245.05" stroke="#231f20" stroke-width="0.7"/>
<line x1="38.8" y1="243.72" x2="40.4" y2="243.72" stroke="#231f20" stroke-width="0.7"/>
<line x1="38.8" y1="242.55" x2="40.4" y2="242.55" stroke="#231f20" stroke-width="0.7"/>
<line x1="37.4" y1="241.5" x2="40.4" y2="241.5" stroke="#231f20" stroke-width="1"/>
<text x="31" y="245.5" font-size="6.9" text-anchor="end" textLength="6.7" lengthAdjust="spacingAndGlyphs">10</text>
<text x="31.3" y="242.9" font-size="4.9" textLength="2.6" lengthAdjust="spacingAndGlyphs">4</text>
<line x1="38.8" y1="234.61" x2="40.4" y2="234.61" stroke="#231f20" stroke-width="0.7"/>
<line x1="38.8" y1="230.57" x2="40.4" y2="230.57" stroke="#231f20" stroke-width="0.7"/>
<line x1="38.8" y1="227.71" x2="40.4" y2="227.71" stroke="#231f20" stroke-width="0.7"/>
<line x1="38.8" y1="225.49" x2="40.4" y2="225.49" stroke="#231f20" stroke-width="0.7"/>
<line x1="38.8" y1="223.68" x2="40.4" y2="223.68" stroke="#231f20" stroke-width="0.7"/>
<line x1="38.8" y1="222.15" x2="40.4" y2="222.15" stroke="#231f20" stroke-width="0.7"/>
<line x1="38.8" y1="220.82" x2="40.4" y2="220.82" stroke="#231f20" stroke-width="0.7"/>
<line x1="38.8" y1="219.65" x2="40.4" y2="219.65" stroke="#231f20" stroke-width="0.7"/>
<line x1="37.4" y1="218.6" x2="40.4" y2="218.6" stroke="#231f20" stroke-width="1"/>
<text x="31" y="222.6" font-size="6.9" text-anchor="end" textLength="6.7" lengthAdjust="spacingAndGlyphs">10</text>
<text x="31.3" y="220" font-size="4.9" textLength="2.6" lengthAdjust="spacingAndGlyphs">5</text>
<line x1="38.8" y1="211.71" x2="40.4" y2="211.71" stroke="#231f20" stroke-width="0.7"/>
<line x1="38.8" y1="207.67" x2="40.4" y2="207.67" stroke="#231f20" stroke-width="0.7"/>
<line x1="38.8" y1="204.81" x2="40.4" y2="204.81" stroke="#231f20" stroke-width="0.7"/>
<line x1="38.8" y1="202.59" x2="40.4" y2="202.59" stroke="#231f20" stroke-width="0.7"/>
<line x1="38.8" y1="200.78" x2="40.4" y2="200.78" stroke="#231f20" stroke-width="0.7"/>
<line x1="38.8" y1="199.25" x2="40.4" y2="199.25" stroke="#231f20" stroke-width="0.7"/>
<line x1="38.8" y1="197.92" x2="40.4" y2="197.92" stroke="#231f20" stroke-width="0.7"/>
<line x1="38.8" y1="196.75" x2="40.4" y2="196.75" stroke="#231f20" stroke-width="0.7"/>
<line x1="37.4" y1="195.7" x2="40.4" y2="195.7" stroke="#231f20" stroke-width="1"/>
<text x="31" y="199.7" font-size="6.9" text-anchor="end" textLength="6.7" lengthAdjust="spacingAndGlyphs">10</text>
<text x="31.3" y="197.1" font-size="4.9" textLength="2.6" lengthAdjust="spacingAndGlyphs">6</text>
<line x1="38.8" y1="188.81" x2="40.4" y2="188.81" stroke="#231f20" stroke-width="0.7"/>
<line x1="38.8" y1="184.77" x2="40.4" y2="184.77" stroke="#231f20" stroke-width="0.7"/>
<line x1="38.8" y1="181.91" x2="40.4" y2="181.91" stroke="#231f20" stroke-width="0.7"/>
<line x1="38.8" y1="179.69" x2="40.4" y2="179.69" stroke="#231f20" stroke-width="0.7"/>
<line x1="38.8" y1="177.88" x2="40.4" y2="177.88" stroke="#231f20" stroke-width="0.7"/>
<line x1="38.8" y1="176.35" x2="40.4" y2="176.35" stroke="#231f20" stroke-width="0.7"/>
<line x1="38.8" y1="175.02" x2="40.4" y2="175.02" stroke="#231f20" stroke-width="0.7"/>
<line x1="38.8" y1="173.85" x2="40.4" y2="173.85" stroke="#231f20" stroke-width="0.7"/>
<line x1="37.4" y1="172.8" x2="40.4" y2="172.8" stroke="#231f20" stroke-width="1"/>
<text x="31" y="176.8" font-size="6.9" text-anchor="end" textLength="6.7" lengthAdjust="spacingAndGlyphs">10</text>
<text x="31.3" y="174.2" font-size="4.9" textLength="2.6" lengthAdjust="spacingAndGlyphs">7</text>
<line x1="40.4" y1="263.3" x2="134" y2="263.3" stroke="#231f20" stroke-width="1.1"/>
<line x1="40.4" y1="263.3" x2="40.4" y2="266" stroke="#231f20" stroke-width="1"/>
<text x="40.4" y="275.8" font-size="7.7" text-anchor="middle">2</text>
<line x1="62.96" y1="263.3" x2="62.96" y2="266" stroke="#231f20" stroke-width="1"/>
<text x="62.96" y="275.8" font-size="7.7" text-anchor="middle">4</text>
<line x1="85.52" y1="263.3" x2="85.52" y2="266" stroke="#231f20" stroke-width="1"/>
<text x="85.52" y="275.8" font-size="7.7" text-anchor="middle">6</text>
<line x1="108.08" y1="263.3" x2="108.08" y2="266" stroke="#231f20" stroke-width="1"/>
<text x="108.08" y="275.8" font-size="7.7" text-anchor="middle">8</text>
<line x1="130.64" y1="263.3" x2="130.64" y2="266" stroke="#231f20" stroke-width="1"/>
<text x="130.64" y="275.8" font-size="7.7" text-anchor="middle">10</text>
<text x="87.2" y="288.6" font-size="8.8" text-anchor="middle" textLength="18.4" lengthAdjust="spacingAndGlyphs">Days</text>
<text x="101.6" y="255.6" font-size="7" text-anchor="middle" textLength="28.4" lengthAdjust="spacingAndGlyphs">p&lt;0.0001</text>
<polyline points="40.4,225.2 62.96,243 96.8,233.2 119.36,226.4" fill="none" stroke="#a31d3b" stroke-width="1.3"/>
<line x1="62.96" y1="239.5" x2="62.96" y2="246" stroke="#a31d3b" stroke-width="0.9"/>
<line x1="60.76" y1="239.5" x2="65.16" y2="239.5" stroke="#a31d3b" stroke-width="0.9"/>
<line x1="60.76" y1="246" x2="65.16" y2="246" stroke="#a31d3b" stroke-width="0.9"/>
<line x1="96.8" y1="231" x2="96.8" y2="235" stroke="#a31d3b" stroke-width="0.9"/>
<line x1="94.6" y1="231" x2="99" y2="231" stroke="#a31d3b" stroke-width="0.9"/>
<line x1="94.6" y1="235" x2="99" y2="235" stroke="#a31d3b" stroke-width="0.9"/>
<line x1="119.36" y1="224" x2="119.36" y2="229" stroke="#a31d3b" stroke-width="0.9"/>
<line x1="117.16" y1="224" x2="121.56" y2="224" stroke="#a31d3b" stroke-width="0.9"/>
<line x1="117.16" y1="229" x2="121.56" y2="229" stroke="#a31d3b" stroke-width="0.9"/>
<path d="M40.4 222.92L42.49 225.2L40.4 227.48L38.31 225.2Z" stroke="none" stroke-width="0" fill="#a31d3b"/>
<path d="M62.96 240.72L65.05 243L62.96 245.28L60.87 243Z" stroke="none" stroke-width="0" fill="#a31d3b"/>
<path d="M96.8 230.92L98.89 233.2L96.8 235.48L94.71 233.2Z" stroke="none" stroke-width="0" fill="#a31d3b"/>
<path d="M119.36 224.12L121.45 226.4L119.36 228.68L117.27 226.4Z" stroke="none" stroke-width="0" fill="#a31d3b"/>
<polyline points="40.4,225.2 62.96,242.3 96.8,230.7 119.36,223.7" fill="none" stroke="#e8922c" stroke-width="1.3"/>
<line x1="62.96" y1="238" x2="62.96" y2="254.2" stroke="#e8922c" stroke-width="0.9"/>
<line x1="60.76" y1="238" x2="65.16" y2="238" stroke="#e8922c" stroke-width="0.9"/>
<line x1="60.76" y1="254.2" x2="65.16" y2="254.2" stroke="#e8922c" stroke-width="0.9"/>
<line x1="96.8" y1="228" x2="96.8" y2="233.5" stroke="#e8922c" stroke-width="0.9"/>
<line x1="94.6" y1="228" x2="99" y2="228" stroke="#e8922c" stroke-width="0.9"/>
<line x1="94.6" y1="233.5" x2="99" y2="233.5" stroke="#e8922c" stroke-width="0.9"/>
<line x1="119.36" y1="219.5" x2="119.36" y2="227.5" stroke="#e8922c" stroke-width="0.9"/>
<line x1="117.16" y1="219.5" x2="121.56" y2="219.5" stroke="#e8922c" stroke-width="0.9"/>
<line x1="117.16" y1="227.5" x2="121.56" y2="227.5" stroke="#e8922c" stroke-width="0.9"/>
<path d="M40.4 227.48L42.68 223.49L38.12 223.49Z" stroke="none" stroke-width="0" fill="#e8922c"/>
<path d="M62.96 244.58L65.24 240.59L60.68 240.59Z" stroke="none" stroke-width="0" fill="#e8922c"/>
<path d="M96.8 232.98L99.08 228.99L94.52 228.99Z" stroke="none" stroke-width="0" fill="#e8922c"/>
<path d="M119.36 225.98L121.64 221.99L117.08 221.99Z" stroke="none" stroke-width="0" fill="#e8922c"/>
<polyline points="40.4,225.2 62.96,240.2 96.8,226.4 119.36,216.9" fill="none" stroke="#5ea843" stroke-width="1.3"/>
<line x1="62.96" y1="236" x2="62.96" y2="244" stroke="#5ea843" stroke-width="0.9"/>
<line x1="60.76" y1="236" x2="65.16" y2="236" stroke="#5ea843" stroke-width="0.9"/>
<line x1="60.76" y1="244" x2="65.16" y2="244" stroke="#5ea843" stroke-width="0.9"/>
<line x1="96.8" y1="223.5" x2="96.8" y2="229.5" stroke="#5ea843" stroke-width="0.9"/>
<line x1="94.6" y1="223.5" x2="99" y2="223.5" stroke="#5ea843" stroke-width="0.9"/>
<line x1="94.6" y1="229.5" x2="99" y2="229.5" stroke="#5ea843" stroke-width="0.9"/>
<line x1="119.36" y1="211.5" x2="119.36" y2="222" stroke="#5ea843" stroke-width="0.9"/>
<line x1="117.16" y1="211.5" x2="121.56" y2="211.5" stroke="#5ea843" stroke-width="0.9"/>
<line x1="117.16" y1="222" x2="121.56" y2="222" stroke="#5ea843" stroke-width="0.9"/>
<path d="M40.4 222.92L42.68 226.91L38.12 226.91Z" stroke="none" stroke-width="0" fill="#5ea843"/>
<path d="M62.96 237.92L65.24 241.91L60.68 241.91Z" stroke="none" stroke-width="0" fill="#5ea843"/>
<path d="M96.8 224.12L99.08 228.11L94.52 228.11Z" stroke="none" stroke-width="0" fill="#5ea843"/>
<path d="M119.36 214.62L121.64 218.61L117.08 218.61Z" stroke="none" stroke-width="0" fill="#5ea843"/>
<polyline points="40.4,225.2 62.96,232.2 96.8,213.9 119.36,201.6" fill="none" stroke="#2f4c7c" stroke-width="1.3"/>
<line x1="62.96" y1="226" x2="62.96" y2="250.5" stroke="#2f4c7c" stroke-width="0.9"/>
<line x1="60.76" y1="226" x2="65.16" y2="226" stroke="#2f4c7c" stroke-width="0.9"/>
<line x1="60.76" y1="250.5" x2="65.16" y2="250.5" stroke="#2f4c7c" stroke-width="0.9"/>
<line x1="96.8" y1="209" x2="96.8" y2="219" stroke="#2f4c7c" stroke-width="0.9"/>
<line x1="94.6" y1="209" x2="99" y2="209" stroke="#2f4c7c" stroke-width="0.9"/>
<line x1="94.6" y1="219" x2="99" y2="219" stroke="#2f4c7c" stroke-width="0.9"/>
<line x1="119.36" y1="197.5" x2="119.36" y2="206" stroke="#2f4c7c" stroke-width="0.9"/>
<line x1="117.16" y1="197.5" x2="121.56" y2="197.5" stroke="#2f4c7c" stroke-width="0.9"/>
<line x1="117.16" y1="206" x2="121.56" y2="206" stroke="#2f4c7c" stroke-width="0.9"/>
<rect x="38.5" y="223.3" width="3.8" height="3.8" fill="#2f4c7c"/>
<rect x="61.06" y="230.3" width="3.8" height="3.8" fill="#2f4c7c"/>
<rect x="94.9" y="212" width="3.8" height="3.8" fill="#2f4c7c"/>
<rect x="117.46" y="199.7" width="3.8" height="3.8" fill="#2f4c7c"/>
<polyline points="40.4,225.2 62.96,221.8 96.8,199.8 119.36,186.9" fill="none" stroke="#cc2a7c" stroke-width="1.3"/>
<line x1="62.96" y1="219.5" x2="62.96" y2="224.5" stroke="#cc2a7c" stroke-width="0.9"/>
<line x1="60.76" y1="219.5" x2="65.16" y2="219.5" stroke="#cc2a7c" stroke-width="0.9"/>
<line x1="60.76" y1="224.5" x2="65.16" y2="224.5" stroke="#cc2a7c" stroke-width="0.9"/>
<line x1="96.8" y1="196.5" x2="96.8" y2="203.5" stroke="#cc2a7c" stroke-width="0.9"/>
<line x1="94.6" y1="196.5" x2="99" y2="196.5" stroke="#cc2a7c" stroke-width="0.9"/>
<line x1="94.6" y1="203.5" x2="99" y2="203.5" stroke="#cc2a7c" stroke-width="0.9"/>
<line x1="119.36" y1="183.3" x2="119.36" y2="191.3" stroke="#cc2a7c" stroke-width="0.9"/>
<line x1="117.16" y1="183.3" x2="121.56" y2="183.3" stroke="#cc2a7c" stroke-width="0.9"/>
<line x1="117.16" y1="191.3" x2="121.56" y2="191.3" stroke="#cc2a7c" stroke-width="0.9"/>
<circle cx="40.4" cy="225.2" r="1.9" fill="#cc2a7c"/>
<circle cx="62.96" cy="221.8" r="1.9" fill="#cc2a7c"/>
<circle cx="96.8" cy="199.8" r="1.9" fill="#cc2a7c"/>
<circle cx="119.36" cy="186.9" r="1.9" fill="#cc2a7c"/>
<line x1="131.8" y1="180.1" x2="142" y2="180.1" stroke="#cc2a7c" stroke-width="1.3"/>
<circle cx="137" cy="180.1" r="1.9" fill="#cc2a7c"/>
<text x="144.6" y="182.6" font-size="7.2" textLength="20.4" lengthAdjust="spacingAndGlyphs">Renilla</text>
<line x1="131.8" y1="190.4" x2="142" y2="190.4" stroke="#2f4c7c" stroke-width="1.3"/>
<rect x="135.1" y="188.5" width="3.8" height="3.8" fill="#2f4c7c"/>
<text x="144.6" y="192.9" font-size="7.2" textLength="15.6" lengthAdjust="spacingAndGlyphs">e12.3</text>
<line x1="131.8" y1="200.8" x2="142" y2="200.8" stroke="#5ea843" stroke-width="1.3"/>
<path d="M137 198.52L139.28 202.51L134.72 202.51Z" stroke="none" stroke-width="0" fill="#5ea843"/>
<text x="144.6" y="203.3" font-size="7.2" textLength="15.6" lengthAdjust="spacingAndGlyphs">e12.4</text>
<line x1="131.8" y1="211.2" x2="142" y2="211.2" stroke="#e8922c" stroke-width="1.3"/>
<path d="M137 213.48L139.28 209.49L134.72 209.49Z" stroke="none" stroke-width="0" fill="#e8922c"/>
<text x="144.6" y="213.7" font-size="7.2" textLength="15.6" lengthAdjust="spacingAndGlyphs">e20.1</text>
<line x1="131.8" y1="221.5" x2="142" y2="221.5" stroke="#a31d3b" stroke-width="1.3"/>
<path d="M137 219.22L139.09 221.5L137 223.78L134.91 221.5Z" stroke="none" stroke-width="0" fill="#a31d3b"/>
<text x="144.6" y="224" font-size="7.2" textLength="15.6" lengthAdjust="spacingAndGlyphs">e21.1</text>
<text x="180.3" y="160" font-size="10.5">D</text>
<text x="191" y="217.5" font-size="8.8" text-anchor="middle" textLength="102.4" lengthAdjust="spacingAndGlyphs" transform="rotate(-90 191 217.5)">% annexin V+/ sytox blue -</text>
<line x1="210.8" y1="170.5" x2="210.8" y2="263.3" stroke="#231f20" stroke-width="1.1"/>
<line x1="207.6" y1="172.8" x2="210.8" y2="172.8" stroke="#231f20" stroke-width="1"/>
<text x="205.2" y="175.5" font-size="7.6" text-anchor="end" textLength="7.8" lengthAdjust="spacingAndGlyphs">25</text>
<line x1="207.6" y1="190.9" x2="210.8" y2="190.9" stroke="#231f20" stroke-width="1"/>
<text x="205.2" y="193.6" font-size="7.6" text-anchor="end" textLength="7.8" lengthAdjust="spacingAndGlyphs">20</text>
<line x1="207.6" y1="209" x2="210.8" y2="209" stroke="#231f20" stroke-width="1"/>
<text x="205.2" y="211.7" font-size="7.6" text-anchor="end" textLength="7.8" lengthAdjust="spacingAndGlyphs">15</text>
<line x1="207.6" y1="227.1" x2="210.8" y2="227.1" stroke="#231f20" stroke-width="1"/>
<text x="205.2" y="229.8" font-size="7.6" text-anchor="end" textLength="7.8" lengthAdjust="spacingAndGlyphs">10</text>
<line x1="207.6" y1="245.2" x2="210.8" y2="245.2" stroke="#231f20" stroke-width="1"/>
<text x="205.2" y="247.9" font-size="7.6" text-anchor="end" textLength="3.9" lengthAdjust="spacingAndGlyphs">5</text>
<line x1="207.6" y1="263.3" x2="210.8" y2="263.3" stroke="#231f20" stroke-width="1"/>
<text x="205.2" y="266" font-size="7.6" text-anchor="end" textLength="3.9" lengthAdjust="spacingAndGlyphs">0</text>
<line x1="210.8" y1="263.3" x2="302.2" y2="263.3" stroke="#231f20" stroke-width="1"/>
<line x1="220" y1="263.3" x2="220" y2="266.5" stroke="#231f20" stroke-width="1"/>
<rect x="214.35" y="256.06" width="11.3" height="7.24" fill="#fff" stroke="#231f20" stroke-width="1"/>
<line x1="238" y1="263.3" x2="238" y2="266.5" stroke="#231f20" stroke-width="1"/>
<rect x="232.35" y="239.05" width="11.3" height="24.25" fill="#fff" stroke="#231f20" stroke-width="1"/>
<line x1="256" y1="263.3" x2="256" y2="266.5" stroke="#231f20" stroke-width="1"/>
<rect x="250.35" y="227.46" width="11.3" height="35.84" fill="#fff" stroke="#231f20" stroke-width="1"/>
<line x1="273.9" y1="263.3" x2="273.9" y2="266.5" stroke="#231f20" stroke-width="1"/>
<rect x="268.25" y="216.24" width="11.3" height="47.06" fill="#fff" stroke="#231f20" stroke-width="1"/>
<line x1="292" y1="263.3" x2="292" y2="266.5" stroke="#231f20" stroke-width="1"/>
<rect x="286.35" y="233.98" width="11.3" height="29.32" fill="#fff" stroke="#231f20" stroke-width="1"/>
<line x1="220" y1="253.89" x2="220" y2="257.87" stroke="#231f20" stroke-width="0.9"/>
<line x1="217.4" y1="253.89" x2="222.6" y2="253.89" stroke="#231f20" stroke-width="0.9"/>
<line x1="217.4" y1="257.87" x2="222.6" y2="257.87" stroke="#231f20" stroke-width="0.9"/>
<circle cx="216.5" cy="253.7" r="2" fill="#a51c35"/>
<circle cx="223" cy="255" r="2" fill="#a51c35"/>
<circle cx="220" cy="258" r="2" fill="#a51c35"/>
<line x1="238" y1="233.25" x2="238" y2="245.2" stroke="#231f20" stroke-width="0.9"/>
<line x1="235.4" y1="233.25" x2="240.6" y2="233.25" stroke="#231f20" stroke-width="0.9"/>
<line x1="235.4" y1="245.2" x2="240.6" y2="245.2" stroke="#231f20" stroke-width="0.9"/>
<circle cx="235.3" cy="233.4" r="2" fill="#a51c35"/>
<circle cx="240.6" cy="238.1" r="2" fill="#a51c35"/>
<circle cx="238" cy="244.9" r="2" fill="#a51c35"/>
<line x1="256" y1="220.95" x2="256" y2="234.34" stroke="#231f20" stroke-width="0.9"/>
<line x1="253.4" y1="220.95" x2="258.6" y2="220.95" stroke="#231f20" stroke-width="0.9"/>
<line x1="253.4" y1="234.34" x2="258.6" y2="234.34" stroke="#231f20" stroke-width="0.9"/>
<circle cx="253.4" cy="221.3" r="2" fill="#a51c35"/>
<circle cx="258.6" cy="226.6" r="2" fill="#a51c35"/>
<circle cx="256" cy="234" r="2" fill="#a51c35"/>
<line x1="273.9" y1="190.54" x2="273.9" y2="240.49" stroke="#231f20" stroke-width="0.9"/>
<line x1="271.3" y1="190.54" x2="276.5" y2="190.54" stroke="#231f20" stroke-width="0.9"/>
<line x1="271.3" y1="240.49" x2="276.5" y2="240.49" stroke="#231f20" stroke-width="0.9"/>
<circle cx="274" cy="196.5" r="2" fill="#a51c35"/>
<circle cx="274" cy="207.5" r="2" fill="#a51c35"/>
<circle cx="274" cy="243.4" r="2" fill="#a51c35"/>
<line x1="292" y1="221.31" x2="292" y2="245.2" stroke="#231f20" stroke-width="0.9"/>
<line x1="289.4" y1="221.31" x2="294.6" y2="221.31" stroke="#231f20" stroke-width="0.9"/>
<line x1="289.4" y1="245.2" x2="294.6" y2="245.2" stroke="#231f20" stroke-width="0.9"/>
<circle cx="292" cy="219.7" r="2" fill="#a51c35"/>
<circle cx="289" cy="240" r="2" fill="#a51c35"/>
<circle cx="295" cy="240" r="2" fill="#a51c35"/>
<line x1="216.9" y1="177.5" x2="292.3" y2="177.5" stroke="#333" stroke-width="1"/>
<path d="M254.7 173L254.7 175.6M253.57 173.65L255.83 174.95M253.57 174.95L255.83 173.65" stroke="#222" stroke-width="0.9" fill="none"/>
<line x1="216.9" y1="185.5" x2="273.5" y2="185.5" stroke="#333" stroke-width="1"/>
<path d="M245.2 181.1L245.2 183.7M244.07 181.75L246.33 183.05M244.07 183.05L246.33 181.75" stroke="#222" stroke-width="0.9" fill="none"/>
<line x1="216.9" y1="193.5" x2="254.7" y2="193.5" stroke="#333" stroke-width="1"/>
<path d="M234.55 189.3L234.55 191.9M233.42 189.95L235.68 191.25M233.42 191.25L235.68 189.95" stroke="#222" stroke-width="0.9" fill="none"/>
<path d="M237.45 189.3L237.45 191.9M236.32 189.95L238.58 191.25M236.32 191.25L238.58 189.95" stroke="#222" stroke-width="0.9" fill="none"/>
<line x1="216.9" y1="202.5" x2="236" y2="202.5" stroke="#333" stroke-width="1"/>
<path d="M224.15 198.3L224.15 200.9M223.02 198.95L225.28 200.25M223.02 200.25L225.28 198.95" stroke="#222" stroke-width="0.9" fill="none"/>
<path d="M227.05 198.3L227.05 200.9M225.92 198.95L228.18 200.25M225.92 200.25L228.18 198.95" stroke="#222" stroke-width="0.9" fill="none"/>
<text x="222.5" y="272.3" font-size="7.8" text-anchor="end" textLength="22.5" lengthAdjust="spacingAndGlyphs" transform="rotate(-45 222.5 272.3)">Renilla</text>
<text x="239.3" y="272.4" font-size="7.8" text-anchor="end" textLength="17.5" lengthAdjust="spacingAndGlyphs" transform="rotate(-45 239.3 272.4)">e12.3</text>
<text x="257.3" y="272.4" font-size="7.8" text-anchor="end" textLength="17.5" lengthAdjust="spacingAndGlyphs" transform="rotate(-45 257.3 272.4)">e12.4</text>
<text x="275.2" y="272.4" font-size="7.8" text-anchor="end" textLength="17.5" lengthAdjust="spacingAndGlyphs" transform="rotate(-45 275.2 272.4)">e20.1</text>
<text x="293.3" y="272.4" font-size="7.8" text-anchor="end" textLength="17.5" lengthAdjust="spacingAndGlyphs" transform="rotate(-45 293.3 272.4)">e21.1</text>
<g><clipPath id="fc0"><rect x="339.2" y="165.2" width="54" height="53.2"/></clipPath>
<g clip-path="url(#fc0)">
<circle cx="353.69" cy="191.7" r="0.35" fill="#bbb"/>
<circle cx="359.29" cy="169.55" r="0.35" fill="#9a9a9a"/>
<circle cx="360.31" cy="188.94" r="0.35" fill="#c4c4c4"/>
<circle cx="361.03" cy="183.85" r="0.35" fill="#c4c4c4"/>
<circle cx="362.07" cy="186.36" r="0.35" fill="#aaa"/>
<circle cx="353.76" cy="191.75" r="0.35" fill="#aaa"/>
<circle cx="350.64" cy="171.54" r="0.35" fill="#aaa"/>
<circle cx="363.82" cy="182.87" r="0.35" fill="#bbb"/>
<circle cx="362.4" cy="185.78" r="0.35" fill="#c4c4c4"/>
<circle cx="351.92" cy="174.59" r="0.35" fill="#aaa"/>
<circle cx="356.41" cy="177.97" r="0.35" fill="#9a9a9a"/>
<circle cx="360.58" cy="180.05" r="0.35" fill="#aaa"/>
<circle cx="349.11" cy="188.97" r="0.35" fill="#9a9a9a"/>
<circle cx="364.61" cy="177.23" r="0.35" fill="#c4c4c4"/>
<circle cx="357.11" cy="176.59" r="0.35" fill="#bbb"/>
<circle cx="353.99" cy="177.5" r="0.35" fill="#c4c4c4"/>
<circle cx="358.55" cy="185.95" r="0.35" fill="#c4c4c4"/>
<circle cx="358.39" cy="177.26" r="0.35" fill="#bbb"/>
<circle cx="361.22" cy="171.65" r="0.35" fill="#c4c4c4"/>
<circle cx="364.07" cy="182.04" r="0.35" fill="#9a9a9a"/>
<circle cx="361.53" cy="191.26" r="0.35" fill="#aaa"/>
<circle cx="353.76" cy="191.02" r="0.35" fill="#aaa"/>
<circle cx="372.48" cy="190.95" r="0.35" fill="#9a9a9a"/>
<circle cx="356.61" cy="169.33" r="0.35" fill="#c4c4c4"/>
<circle cx="356.52" cy="175.64" r="0.35" fill="#c4c4c4"/>
<circle cx="366.67" cy="180.52" r="0.35" fill="#c4c4c4"/>
<circle cx="354.3" cy="182.35" r="0.35" fill="#bbb"/>
<circle cx="362.91" cy="178.98" r="0.35" fill="#9a9a9a"/>
<circle cx="355.46" cy="170.56" r="0.35" fill="#bbb"/>
<circle cx="351.9" cy="180.12" r="0.35" fill="#aaa"/>
<circle cx="371.23" cy="179.78" r="0.35" fill="#c4c4c4"/>
<circle cx="347.49" cy="186.46" r="0.35" fill="#bbb"/>
<circle cx="355.14" cy="170.4" r="0.35" fill="#bbb"/>
<circle cx="348.95" cy="175.77" r="0.35" fill="#9a9a9a"/>
<circle cx="362.58" cy="170.83" r="0.35" fill="#bbb"/>
<circle cx="352.08" cy="184.62" r="0.35" fill="#c4c4c4"/>
<circle cx="353.62" cy="187.62" r="0.35" fill="#aaa"/>
<circle cx="353.19" cy="180.22" r="0.35" fill="#aaa"/>
<circle cx="357.05" cy="181.65" r="0.35" fill="#9a9a9a"/>
<circle cx="360.2" cy="176.61" r="0.35" fill="#9a9a9a"/>
<circle cx="358.66" cy="168.27" r="0.35" fill="#9a9a9a"/>
<circle cx="358.11" cy="190.03" r="0.35" fill="#c4c4c4"/>
<circle cx="363.73" cy="184.1" r="0.35" fill="#aaa"/>
<circle cx="351.77" cy="172.37" r="0.35" fill="#bbb"/>
<circle cx="368.53" cy="180.44" r="0.35" fill="#aaa"/>
<circle cx="349" cy="181.87" r="0.35" fill="#c4c4c4"/>
<circle cx="356.08" cy="180.54" r="0.35" fill="#9a9a9a"/>
<circle cx="356.83" cy="168.89" r="0.35" fill="#9a9a9a"/>
<circle cx="362.78" cy="187.79" r="0.35" fill="#c4c4c4"/>
<circle cx="365.94" cy="187.4" r="0.35" fill="#9a9a9a"/>
<circle cx="353.2" cy="181.98" r="0.35" fill="#aaa"/>
<circle cx="351.01" cy="185.23" r="0.35" fill="#bbb"/>
<circle cx="358.73" cy="183.16" r="0.35" fill="#9a9a9a"/>
<circle cx="360.66" cy="176.5" r="0.35" fill="#c4c4c4"/>
<circle cx="358.08" cy="173.44" r="0.35" fill="#c4c4c4"/>
<circle cx="358.09" cy="182.07" r="0.35" fill="#9a9a9a"/>
<circle cx="350.6" cy="174.13" r="0.35" fill="#9a9a9a"/>
<circle cx="362.35" cy="171.99" r="0.35" fill="#aaa"/>
<circle cx="353.49" cy="187.62" r="0.35" fill="#bbb"/>
<circle cx="371.78" cy="178.16" r="0.35" fill="#bbb"/>
<circle cx="366.37" cy="190.8" r="0.35" fill="#aaa"/>
<circle cx="357.11" cy="184.32" r="0.35" fill="#aaa"/>
<circle cx="353.39" cy="185.14" r="0.35" fill="#9a9a9a"/>
<circle cx="362.39" cy="187.07" r="0.35" fill="#aaa"/>
<circle cx="362.38" cy="177.22" r="0.35" fill="#9a9a9a"/>
<circle cx="361.07" cy="191.32" r="0.35" fill="#bbb"/>
<circle cx="354.1" cy="176.17" r="0.35" fill="#c4c4c4"/>
<circle cx="362.75" cy="176.19" r="0.35" fill="#9a9a9a"/>
<circle cx="365.61" cy="189.93" r="0.35" fill="#aaa"/>
<circle cx="357.36" cy="177.42" r="0.35" fill="#c4c4c4"/>
<circle cx="358" cy="169.03" r="0.35" fill="#9a9a9a"/>
<circle cx="363.68" cy="176.33" r="0.35" fill="#aaa"/>
<circle cx="359.18" cy="172.87" r="0.35" fill="#aaa"/>
<circle cx="362.42" cy="181.41" r="0.35" fill="#c4c4c4"/>
<circle cx="365.07" cy="171.99" r="0.35" fill="#bbb"/>
<circle cx="348.93" cy="173.35" r="0.35" fill="#c4c4c4"/>
<circle cx="347.27" cy="173.15" r="0.35" fill="#c4c4c4"/>
<circle cx="370.45" cy="180.21" r="0.35" fill="#aaa"/>
<circle cx="365.14" cy="190.62" r="0.35" fill="#bbb"/>
<circle cx="351.43" cy="182.38" r="0.35" fill="#c4c4c4"/>
<circle cx="353.69" cy="174.06" r="0.35" fill="#aaa"/>
<circle cx="355.74" cy="171.19" r="0.35" fill="#9a9a9a"/>
<circle cx="357.75" cy="188.47" r="0.35" fill="#c4c4c4"/>
<circle cx="356.44" cy="168.88" r="0.35" fill="#aaa"/>
<circle cx="356.59" cy="170.25" r="0.35" fill="#aaa"/>
<circle cx="365" cy="186.67" r="0.35" fill="#aaa"/>
<circle cx="354.86" cy="170.79" r="0.35" fill="#bbb"/>
<circle cx="367.64" cy="187.36" r="0.35" fill="#bbb"/>
<circle cx="362.64" cy="170.29" r="0.35" fill="#bbb"/>
<circle cx="368.69" cy="171.2" r="0.35" fill="#c4c4c4"/>
<circle cx="357.67" cy="189.83" r="0.35" fill="#aaa"/>
<circle cx="365.47" cy="190.49" r="0.35" fill="#aaa"/>
<circle cx="368.64" cy="183.99" r="0.35" fill="#bbb"/>
<circle cx="360.81" cy="189.55" r="0.35" fill="#9a9a9a"/>
<circle cx="353.55" cy="174.11" r="0.35" fill="#c4c4c4"/>
<circle cx="350.52" cy="176.58" r="0.35" fill="#9a9a9a"/>
<circle cx="360.34" cy="189.92" r="0.35" fill="#aaa"/>
<circle cx="361.92" cy="185.16" r="0.35" fill="#9a9a9a"/>
<circle cx="351.65" cy="178.45" r="0.35" fill="#bbb"/>
<circle cx="364.02" cy="171.92" r="0.35" fill="#9a9a9a"/>
<circle cx="350.33" cy="190.61" r="0.35" fill="#aaa"/>
<circle cx="356.04" cy="181.77" r="0.35" fill="#bbb"/>
<circle cx="367.64" cy="181.89" r="0.35" fill="#9a9a9a"/>
<circle cx="354.64" cy="170.86" r="0.35" fill="#bbb"/>
<circle cx="369.78" cy="182.13" r="0.35" fill="#9a9a9a"/>
<circle cx="351.28" cy="191.38" r="0.35" fill="#9a9a9a"/>
<circle cx="364.54" cy="186.7" r="0.35" fill="#bbb"/>
<circle cx="360.32" cy="186.04" r="0.35" fill="#9a9a9a"/>
<circle cx="349.69" cy="191.96" r="0.35" fill="#aaa"/>
<circle cx="364.33" cy="174.89" r="0.35" fill="#9a9a9a"/>
<circle cx="349.74" cy="178.73" r="0.35" fill="#bbb"/>
<circle cx="371.91" cy="184.66" r="0.35" fill="#c4c4c4"/>
<circle cx="349.25" cy="173.1" r="0.35" fill="#aaa"/>
<circle cx="358.47" cy="179.85" r="0.35" fill="#aaa"/>
<circle cx="368.75" cy="187.38" r="0.35" fill="#bbb"/>
<circle cx="361.74" cy="172.35" r="0.35" fill="#aaa"/>
<circle cx="368.09" cy="181.15" r="0.35" fill="#aaa"/>
<circle cx="357.23" cy="191.13" r="0.35" fill="#aaa"/>
<circle cx="354.8" cy="172.99" r="0.35" fill="#bbb"/>
<circle cx="364.22" cy="171.47" r="0.35" fill="#c4c4c4"/>
<circle cx="356.7" cy="173.95" r="0.35" fill="#c4c4c4"/>
<circle cx="354.8" cy="171.37" r="0.35" fill="#bbb"/>
<circle cx="357.88" cy="185.04" r="0.35" fill="#aaa"/>
<circle cx="355.71" cy="176.14" r="0.35" fill="#9a9a9a"/>
<circle cx="348.51" cy="172.23" r="0.35" fill="#aaa"/>
<circle cx="355.72" cy="182.45" r="0.35" fill="#c4c4c4"/>
<circle cx="362.54" cy="173.11" r="0.35" fill="#bbb"/>
<circle cx="353.39" cy="168.49" r="0.35" fill="#c4c4c4"/>
<circle cx="359.62" cy="174.89" r="0.35" fill="#aaa"/>
<circle cx="361.21" cy="170.83" r="0.35" fill="#bbb"/>
<circle cx="355.99" cy="175.92" r="0.35" fill="#c4c4c4"/>
<circle cx="360.02" cy="181.75" r="0.35" fill="#bbb"/>
<circle cx="360.24" cy="168.46" r="0.35" fill="#c4c4c4"/>
<circle cx="361.18" cy="170.2" r="0.35" fill="#bbb"/>
<circle cx="367.31" cy="170.79" r="0.35" fill="#c4c4c4"/>
<circle cx="357.96" cy="190.97" r="0.35" fill="#c4c4c4"/>
<circle cx="362" cy="168.4" r="0.35" fill="#9a9a9a"/>
<circle cx="366.56" cy="183.54" r="0.35" fill="#bbb"/>
<circle cx="357.5" cy="185.99" r="0.35" fill="#9a9a9a"/>
<circle cx="356.85" cy="186.63" r="0.35" fill="#aaa"/>
<circle cx="357.8" cy="183.39" r="0.35" fill="#aaa"/>
<circle cx="362.99" cy="170.63" r="0.35" fill="#bbb"/>
<circle cx="358.72" cy="172.59" r="0.35" fill="#bbb"/>
<circle cx="353.23" cy="175.82" r="0.35" fill="#bbb"/>
<circle cx="368.56" cy="188.14" r="0.35" fill="#bbb"/>
<circle cx="370.03" cy="173.9" r="0.35" fill="#9a9a9a"/>
<circle cx="368.15" cy="190.12" r="0.35" fill="#c4c4c4"/>
<circle cx="366.31" cy="189.74" r="0.35" fill="#aaa"/>
<circle cx="351.36" cy="171.95" r="0.35" fill="#bbb"/>
<circle cx="359.27" cy="182.54" r="0.35" fill="#9a9a9a"/>
<circle cx="364.2" cy="173.7" r="0.35" fill="#bbb"/>
<circle cx="364.13" cy="181.81" r="0.35" fill="#bbb"/>
<circle cx="369.13" cy="188.58" r="0.35" fill="#bbb"/>
<circle cx="377.66" cy="178.69" r="0.35" fill="#bbb"/>
<circle cx="365.65" cy="176.58" r="0.35" fill="#bbb"/>
<circle cx="362.11" cy="181.29" r="0.35" fill="#bbb"/>
<circle cx="377.34" cy="179.32" r="0.35" fill="#bbb"/>
<circle cx="364.22" cy="170.63" r="0.35" fill="#bbb"/>
<circle cx="362.55" cy="183.27" r="0.35" fill="#bbb"/>
<circle cx="378.42" cy="170.44" r="0.35" fill="#bbb"/>
<circle cx="361.67" cy="188.13" r="0.35" fill="#bbb"/>
<circle cx="364.85" cy="183.55" r="0.35" fill="#bbb"/>
<circle cx="368.7" cy="169.28" r="0.35" fill="#bbb"/>
<circle cx="376.78" cy="182.57" r="0.35" fill="#bbb"/>
<circle cx="372.28" cy="178.48" r="0.35" fill="#bbb"/>
<circle cx="371.81" cy="179.43" r="0.35" fill="#bbb"/>
<circle cx="369.64" cy="179.79" r="0.35" fill="#bbb"/>
<circle cx="373.39" cy="172.26" r="0.35" fill="#bbb"/>
<circle cx="369.13" cy="181.26" r="0.35" fill="#bbb"/>
<circle cx="363.05" cy="185.23" r="0.35" fill="#bbb"/>
<circle cx="375.23" cy="175.76" r="0.35" fill="#bbb"/>
<circle cx="374.01" cy="180.39" r="0.35" fill="#bbb"/>
<circle cx="366.97" cy="198.73" r="0.35" fill="#c8c8c8"/>
<circle cx="370.03" cy="192.61" r="0.35" fill="#c8c8c8"/>
<circle cx="372.75" cy="203" r="0.35" fill="#c8c8c8"/>
<circle cx="369.74" cy="211.39" r="0.35" fill="#c8c8c8"/>
<circle cx="364.39" cy="208.53" r="0.35" fill="#c8c8c8"/>
<circle cx="370.49" cy="192.88" r="0.35" fill="#c8c8c8"/>
<circle cx="369.03" cy="203.65" r="0.35" fill="#c8c8c8"/>
<circle cx="373.76" cy="198.5" r="0.35" fill="#c8c8c8"/>
<circle cx="357.22" cy="212.62" r="0.35" fill="#888"/>
<circle cx="358.57" cy="207.32" r="0.35" fill="#777"/>
<circle cx="355.46" cy="202.84" r="0.35" fill="#888"/>
<circle cx="355.75" cy="199.83" r="0.35" fill="#999"/>
<circle cx="356.96" cy="213.27" r="0.35" fill="#999"/>
<circle cx="353.02" cy="206.6" r="0.35" fill="#999"/>
<circle cx="360" cy="210.26" r="0.35" fill="#999"/>
<circle cx="351.12" cy="197.63" r="0.35" fill="#999"/>
<circle cx="360.18" cy="207.83" r="0.35" fill="#999"/>
<circle cx="352.04" cy="200.04" r="0.35" fill="#777"/>
<circle cx="351.13" cy="189.48" r="0.35" fill="#999"/>
<circle cx="361.98" cy="213.01" r="0.35" fill="#888"/>
<circle cx="348.68" cy="198.23" r="0.35" fill="#777"/>
<circle cx="351.74" cy="198.67" r="0.35" fill="#777"/>
<circle cx="353.79" cy="211.94" r="0.35" fill="#888"/>
<circle cx="357.26" cy="211.7" r="0.35" fill="#777"/>
<circle cx="354.55" cy="184.94" r="0.35" fill="#888"/>
<circle cx="355.4" cy="215.93" r="0.35" fill="#888"/>
<circle cx="358.19" cy="202.14" r="0.35" fill="#777"/>
<circle cx="350.2" cy="197.11" r="0.35" fill="#888"/>
<circle cx="359.69" cy="215.52" r="0.35" fill="#888"/>
<circle cx="358.8" cy="191.69" r="0.35" fill="#777"/>
<circle cx="357.77" cy="200.36" r="0.35" fill="#888"/>
<circle cx="352.99" cy="203.19" r="0.35" fill="#888"/>
<circle cx="356.83" cy="201.65" r="0.35" fill="#999"/>
<circle cx="355.13" cy="209.97" r="0.35" fill="#888"/>
<circle cx="357.53" cy="200.3" r="0.35" fill="#999"/>
<circle cx="357.15" cy="211.47" r="0.35" fill="#999"/>
<circle cx="351.05" cy="209.01" r="0.35" fill="#999"/>
<circle cx="351.57" cy="209.22" r="0.35" fill="#888"/>
<circle cx="361.56" cy="213.19" r="0.35" fill="#777"/>
<circle cx="361.48" cy="218.99" r="0.35" fill="#999"/>
<circle cx="353.96" cy="190.68" r="0.35" fill="#999"/>
<circle cx="359.91" cy="196.98" r="0.35" fill="#999"/>
<circle cx="357.19" cy="197.69" r="0.35" fill="#888"/>
<circle cx="360.01" cy="204.63" r="0.35" fill="#777"/>
<circle cx="353.22" cy="204.74" r="0.35" fill="#777"/>
<circle cx="357.28" cy="201.96" r="0.35" fill="#777"/>
<circle cx="353.55" cy="196.1" r="0.35" fill="#999"/>
<circle cx="354.07" cy="209.68" r="0.35" fill="#777"/>
<circle cx="355.74" cy="195.83" r="0.35" fill="#777"/>
<circle cx="360.17" cy="196.13" r="0.35" fill="#777"/>
<circle cx="354.4" cy="211.52" r="0.35" fill="#888"/>
<circle cx="360.46" cy="197.41" r="0.35" fill="#777"/>
<circle cx="358.47" cy="218.36" r="0.35" fill="#999"/>
<circle cx="352.76" cy="206.11" r="0.35" fill="#888"/>
<circle cx="359.65" cy="201.34" r="0.35" fill="#888"/>
<circle cx="354.39" cy="200.56" r="0.35" fill="#777"/>
<circle cx="357.05" cy="220.35" r="0.35" fill="#999"/>
<circle cx="358.78" cy="205.26" r="0.35" fill="#999"/>
<circle cx="359.01" cy="210.19" r="0.35" fill="#777"/>
<circle cx="354.43" cy="204" r="0.35" fill="#999"/>
<circle cx="353.09" cy="199.27" r="0.35" fill="#777"/>
<circle cx="357.87" cy="203.9" r="0.35" fill="#999"/>
<circle cx="358.21" cy="201.94" r="0.35" fill="#777"/>
<circle cx="357.71" cy="192.8" r="0.35" fill="#999"/>
<circle cx="361.75" cy="212.26" r="0.35" fill="#777"/>
<circle cx="362.44" cy="190.45" r="0.35" fill="#999"/>
<circle cx="364.62" cy="212.98" r="0.35" fill="#888"/>
<circle cx="356.74" cy="194.48" r="0.35" fill="#999"/>
<circle cx="357.2" cy="220.24" r="0.35" fill="#999"/>
<circle cx="356.03" cy="205.57" r="0.35" fill="#888"/>
<circle cx="353.77" cy="189.37" r="0.35" fill="#888"/>
<circle cx="350.01" cy="203.6" r="0.35" fill="#777"/>
<circle cx="358.89" cy="203.9" r="0.35" fill="#777"/>
<circle cx="363.67" cy="204.74" r="0.35" fill="#888"/>
<circle cx="354.26" cy="208.52" r="0.35" fill="#888"/>
<circle cx="360.96" cy="199.44" r="0.35" fill="#777"/>
<circle cx="356.1" cy="210.52" r="0.35" fill="#999"/>
<circle cx="352.65" cy="198.88" r="0.35" fill="#888"/>
<circle cx="358.92" cy="206.32" r="0.35" fill="#777"/>
<circle cx="354.58" cy="200.53" r="0.35" fill="#888"/>
<circle cx="360.09" cy="203.41" r="0.35" fill="#999"/>
<circle cx="351.02" cy="211.02" r="0.35" fill="#777"/>
<circle cx="358.53" cy="198.04" r="0.35" fill="#777"/>
<circle cx="356.59" cy="210.09" r="0.35" fill="#777"/>
<circle cx="357.25" cy="192.79" r="0.35" fill="#777"/>
<circle cx="356.35" cy="198.61" r="0.35" fill="#888"/>
<circle cx="350.4" cy="209.43" r="0.35" fill="#888"/>
<circle cx="360.13" cy="195.28" r="0.35" fill="#777"/>
<circle cx="357.06" cy="206.73" r="0.35" fill="#777"/>
<circle cx="355.92" cy="202.07" r="0.35" fill="#999"/>
<circle cx="356.03" cy="207.64" r="0.35" fill="#777"/>
<circle cx="356.39" cy="215.38" r="0.35" fill="#777"/>
<circle cx="352.23" cy="190.05" r="0.35" fill="#777"/>
<circle cx="354.12" cy="218.49" r="0.35" fill="#777"/>
<circle cx="355" cy="197.43" r="0.35" fill="#999"/>
<circle cx="357.64" cy="199.29" r="0.35" fill="#888"/>
<circle cx="357.4" cy="200.73" r="0.35" fill="#999"/>
<circle cx="355.05" cy="212.06" r="0.35" fill="#999"/>
<circle cx="350.68" cy="215.2" r="0.35" fill="#777"/>
<circle cx="359.84" cy="205.12" r="0.35" fill="#999"/>
<circle cx="358.12" cy="203.79" r="0.35" fill="#999"/>
<circle cx="355.45" cy="189.29" r="0.35" fill="#777"/>
<circle cx="358.6" cy="206.58" r="0.35" fill="#777"/>
<circle cx="350.78" cy="201.18" r="0.35" fill="#888"/>
<circle cx="358.36" cy="196.28" r="0.35" fill="#999"/>
<circle cx="354.19" cy="189.48" r="0.35" fill="#777"/>
<circle cx="354.54" cy="194.93" r="0.35" fill="#888"/>
<circle cx="357.57" cy="215.02" r="0.35" fill="#999"/>
<circle cx="356.17" cy="204.29" r="0.35" fill="#999"/>
<circle cx="354.93" cy="216.83" r="0.35" fill="#999"/>
<circle cx="354.45" cy="205.87" r="0.35" fill="#999"/>
<circle cx="354.41" cy="202.82" r="0.35" fill="#888"/>
<circle cx="360.74" cy="204.52" r="0.35" fill="#999"/>
<circle cx="360.29" cy="183.55" r="0.35" fill="#777"/>
<circle cx="359.37" cy="203.62" r="0.35" fill="#777"/>
<circle cx="361.26" cy="199.68" r="0.35" fill="#777"/>
<circle cx="360.62" cy="207.49" r="0.35" fill="#999"/>
<circle cx="357.44" cy="197.9" r="0.35" fill="#999"/>
<circle cx="355.75" cy="207.4" r="0.35" fill="#777"/>
<circle cx="361.47" cy="192.58" r="0.35" fill="#777"/>
<circle cx="353.98" cy="202.68" r="0.35" fill="#999"/>
<circle cx="357.44" cy="226.7" r="0.35" fill="#888"/>
<circle cx="358.67" cy="221.18" r="0.35" fill="#888"/>
<circle cx="354.17" cy="205.76" r="0.35" fill="#777"/>
<circle cx="361.18" cy="212.15" r="0.35" fill="#777"/>
<circle cx="359.55" cy="187.41" r="0.35" fill="#999"/>
<circle cx="357.76" cy="201.88" r="0.35" fill="#999"/>
<circle cx="351.88" cy="216.25" r="0.35" fill="#888"/>
<circle cx="361.36" cy="200.19" r="0.35" fill="#777"/>
<circle cx="357.66" cy="204.31" r="0.35" fill="#999"/>
<circle cx="354.81" cy="206.35" r="0.35" fill="#777"/>
<circle cx="355.4" cy="211.48" r="0.35" fill="#888"/>
<circle cx="353.82" cy="228.54" r="0.35" fill="#777"/>
<circle cx="362.8" cy="202.35" r="0.35" fill="#888"/>
<circle cx="361.34" cy="191.77" r="0.35" fill="#888"/>
<circle cx="358.71" cy="202.77" r="0.35" fill="#888"/>
<circle cx="356.4" cy="211.03" r="0.35" fill="#888"/>
<circle cx="358.74" cy="199.63" r="0.35" fill="#888"/>
<circle cx="355.17" cy="194.15" r="0.35" fill="#888"/>
<circle cx="357.25" cy="206.54" r="0.35" fill="#777"/>
<circle cx="360.2" cy="193.51" r="0.35" fill="#777"/>
<circle cx="358.23" cy="188.32" r="0.35" fill="#777"/>
<circle cx="355.34" cy="205.75" r="0.35" fill="#888"/>
<circle cx="354.64" cy="190.72" r="0.35" fill="#777"/>
<circle cx="357.45" cy="203.82" r="0.35" fill="#888"/>
<circle cx="360.14" cy="214.6" r="0.35" fill="#777"/>
<circle cx="357.03" cy="195.06" r="0.35" fill="#888"/>
<circle cx="359.54" cy="207.91" r="0.35" fill="#999"/>
<circle cx="355.57" cy="187.83" r="0.35" fill="#777"/>
<circle cx="355.1" cy="201.26" r="0.35" fill="#999"/>
<circle cx="356.66" cy="201.94" r="0.35" fill="#999"/>
<circle cx="353.43" cy="198.11" r="0.35" fill="#999"/>
<circle cx="357.52" cy="204.98" r="0.35" fill="#888"/>
<circle cx="358.47" cy="205.53" r="0.35" fill="#888"/>
<circle cx="360.96" cy="202.21" r="0.35" fill="#777"/>
<circle cx="359.17" cy="214.98" r="0.35" fill="#777"/>
<circle cx="354.22" cy="196.54" r="0.35" fill="#777"/>
<circle cx="350.8" cy="201.14" r="0.35" fill="#777"/>
<circle cx="355.66" cy="208.52" r="0.35" fill="#777"/>
<circle cx="356.69" cy="197.66" r="0.35" fill="#777"/>
<circle cx="359.6" cy="204.6" r="0.35" fill="#777"/>
<circle cx="357.34" cy="206.36" r="0.35" fill="#999"/>
<circle cx="359.48" cy="202.12" r="0.35" fill="#888"/>
<circle cx="355.18" cy="193.23" r="0.35" fill="#999"/>
<circle cx="356.41" cy="211.02" r="0.35" fill="#888"/>
<circle cx="363.68" cy="202.2" r="0.35" fill="#999"/>
<circle cx="356.6" cy="212.32" r="0.35" fill="#999"/>
<circle cx="349.25" cy="214.46" r="0.35" fill="#888"/>
<ellipse cx="357" cy="202" rx="6.3" ry="16" fill="#aaa" opacity="0.5"/>
<ellipse cx="356.8" cy="201.5" rx="5.7" ry="10.56" fill="#555" opacity="0.8"/>
<ellipse cx="356.8" cy="200.5" rx="4.68" ry="7.36" fill="#161616" opacity="0.92"/>
<ellipse cx="357.4" cy="199.5" rx="0.6" ry="1.4" fill="#ddd"/>
<ellipse cx="356.8" cy="215.8" rx="1.3" ry="2.6" fill="#f2f2f2" opacity="0.8"/>
</g></g>
<line x1="360.5" y1="165.2" x2="360.5" y2="218.4" stroke="#555" stroke-width="0.9"/>
<line x1="339.2" y1="185" x2="393.2" y2="185" stroke="#555" stroke-width="0.9"/>
<rect x="339.2" y="165.2" width="54" height="53.2" fill="none" stroke="#1e1e1e" stroke-width="0.9"/>
<line x1="337.4" y1="217.4" x2="339.2" y2="217.4" stroke="#231f20" stroke-width="0.6"/>
<line x1="337.4" y1="216.2" x2="339.2" y2="216.2" stroke="#231f20" stroke-width="0.6"/>
<line x1="337.4" y1="215" x2="339.2" y2="215" stroke="#231f20" stroke-width="0.6"/>
<line x1="337.4" y1="213.8" x2="339.2" y2="213.8" stroke="#231f20" stroke-width="0.6"/>
<line x1="337.4" y1="212.6" x2="339.2" y2="212.6" stroke="#231f20" stroke-width="0.6"/>
<line x1="337.4" y1="211.4" x2="339.2" y2="211.4" stroke="#231f20" stroke-width="0.6"/>
<line x1="337.4" y1="209.9" x2="339.2" y2="209.9" stroke="#231f20" stroke-width="0.6"/>
<line x1="337.4" y1="208.4" x2="339.2" y2="208.4" stroke="#231f20" stroke-width="0.6"/>
<line x1="337.4" y1="204.4" x2="339.2" y2="204.4" stroke="#231f20" stroke-width="0.6"/>
<line x1="337.4" y1="200.4" x2="339.2" y2="200.4" stroke="#231f20" stroke-width="0.6"/>
<line x1="337.4" y1="197.4" x2="339.2" y2="197.4" stroke="#231f20" stroke-width="0.6"/>
<line x1="337.4" y1="194.4" x2="339.2" y2="194.4" stroke="#231f20" stroke-width="0.6"/>
<line x1="337.4" y1="190.4" x2="339.2" y2="190.4" stroke="#231f20" stroke-width="0.6"/>
<line x1="337.4" y1="186.4" x2="339.2" y2="186.4" stroke="#231f20" stroke-width="0.6"/>
<line x1="337.4" y1="183.4" x2="339.2" y2="183.4" stroke="#231f20" stroke-width="0.6"/>
<line x1="337.4" y1="180.4" x2="339.2" y2="180.4" stroke="#231f20" stroke-width="0.6"/>
<line x1="337.4" y1="176.4" x2="339.2" y2="176.4" stroke="#231f20" stroke-width="0.6"/>
<line x1="337.4" y1="172.4" x2="339.2" y2="172.4" stroke="#231f20" stroke-width="0.6"/>
<line x1="337.4" y1="169.4" x2="339.2" y2="169.4" stroke="#231f20" stroke-width="0.6"/>
<line x1="342.11" y1="218.4" x2="342.11" y2="219.9" stroke="#231f20" stroke-width="0.6"/>
<line x1="346.26" y1="218.4" x2="346.26" y2="219.9" stroke="#231f20" stroke-width="0.6"/>
<line x1="350.16" y1="218.4" x2="350.16" y2="219.9" stroke="#231f20" stroke-width="0.6"/>
<line x1="354.28" y1="218.4" x2="354.28" y2="219.9" stroke="#231f20" stroke-width="0.6"/>
<line x1="357.96" y1="218.4" x2="357.96" y2="219.9" stroke="#231f20" stroke-width="0.6"/>
<line x1="361.49" y1="218.4" x2="361.49" y2="219.9" stroke="#231f20" stroke-width="0.6"/>
<line x1="365.8" y1="218.4" x2="365.8" y2="219.9" stroke="#231f20" stroke-width="0.6"/>
<line x1="370.39" y1="218.4" x2="370.39" y2="219.9" stroke="#231f20" stroke-width="0.6"/>
<line x1="374.03" y1="218.4" x2="374.03" y2="219.9" stroke="#231f20" stroke-width="0.6"/>
<line x1="378.08" y1="218.4" x2="378.08" y2="219.9" stroke="#231f20" stroke-width="0.6"/>
<line x1="382.39" y1="218.4" x2="382.39" y2="219.9" stroke="#231f20" stroke-width="0.6"/>
<line x1="386.19" y1="218.4" x2="386.19" y2="219.9" stroke="#231f20" stroke-width="0.6"/>
<line x1="390" y1="218.4" x2="390" y2="219.9" stroke="#231f20" stroke-width="0.6"/>
<text x="366.3" y="163.2" font-size="9" text-anchor="middle" textLength="27.5" lengthAdjust="spacingAndGlyphs">Renilla</text>
<text x="341.8" y="171.8" font-size="6.8" textLength="9.4" lengthAdjust="spacingAndGlyphs">2.2</text>
<g><clipPath id="fc1"><rect x="399.2" y="165.2" width="54" height="53.2"/></clipPath>
<g clip-path="url(#fc1)">
<circle cx="418.1" cy="173.57" r="0.35" fill="#9a9a9a"/>
<circle cx="415.52" cy="177.66" r="0.35" fill="#bbb"/>
<circle cx="409.18" cy="180.55" r="0.35" fill="#c4c4c4"/>
<circle cx="406.1" cy="183.89" r="0.35" fill="#9a9a9a"/>
<circle cx="403.72" cy="178.38" r="0.35" fill="#bbb"/>
<circle cx="412.87" cy="179.72" r="0.35" fill="#c4c4c4"/>
<circle cx="412.31" cy="181.38" r="0.35" fill="#c4c4c4"/>
<circle cx="419.26" cy="177.11" r="0.35" fill="#9a9a9a"/>
<circle cx="406.28" cy="179.94" r="0.35" fill="#bbb"/>
<circle cx="415.72" cy="173.99" r="0.35" fill="#aaa"/>
<circle cx="419.87" cy="176.09" r="0.35" fill="#c4c4c4"/>
<circle cx="407.24" cy="182.63" r="0.35" fill="#bbb"/>
<circle cx="405.35" cy="175.63" r="0.35" fill="#aaa"/>
<circle cx="410.69" cy="173.92" r="0.35" fill="#bbb"/>
<circle cx="404.89" cy="182.15" r="0.35" fill="#aaa"/>
<circle cx="410.54" cy="180.61" r="0.35" fill="#aaa"/>
<circle cx="414.22" cy="180.25" r="0.35" fill="#9a9a9a"/>
<circle cx="406.05" cy="176.74" r="0.35" fill="#bbb"/>
<circle cx="416.56" cy="174.55" r="0.35" fill="#aaa"/>
<circle cx="402.72" cy="180.93" r="0.35" fill="#c4c4c4"/>
<circle cx="415.67" cy="182.04" r="0.35" fill="#bbb"/>
<circle cx="414.66" cy="178.18" r="0.35" fill="#9a9a9a"/>
<circle cx="410.84" cy="178.11" r="0.35" fill="#9a9a9a"/>
<circle cx="416.05" cy="178.14" r="0.35" fill="#c4c4c4"/>
<circle cx="411.14" cy="178.89" r="0.35" fill="#9a9a9a"/>
<circle cx="408.17" cy="180.68" r="0.35" fill="#bbb"/>
<circle cx="403.49" cy="180.05" r="0.35" fill="#bbb"/>
<circle cx="412.12" cy="182.02" r="0.35" fill="#bbb"/>
<circle cx="415.21" cy="179.48" r="0.35" fill="#9a9a9a"/>
<circle cx="411.96" cy="179.7" r="0.35" fill="#bbb"/>
<circle cx="410.67" cy="176.76" r="0.35" fill="#aaa"/>
<circle cx="407.23" cy="176.12" r="0.35" fill="#c4c4c4"/>
<circle cx="418.12" cy="182.65" r="0.35" fill="#aaa"/>
<circle cx="415.8" cy="174.61" r="0.35" fill="#bbb"/>
<circle cx="407.64" cy="173.68" r="0.35" fill="#c4c4c4"/>
<circle cx="407.97" cy="177.33" r="0.35" fill="#9a9a9a"/>
<circle cx="410.48" cy="177.69" r="0.35" fill="#bbb"/>
<circle cx="407.08" cy="177.08" r="0.35" fill="#c4c4c4"/>
<circle cx="413.25" cy="180" r="0.35" fill="#bbb"/>
<circle cx="409.2" cy="173.9" r="0.35" fill="#aaa"/>
<circle cx="410.54" cy="181.52" r="0.35" fill="#c4c4c4"/>
<circle cx="413.4" cy="177.53" r="0.35" fill="#c4c4c4"/>
<circle cx="399.72" cy="181.53" r="0.35" fill="#9a9a9a"/>
<circle cx="411.8" cy="174.39" r="0.35" fill="#c4c4c4"/>
<circle cx="419.39" cy="178" r="0.35" fill="#c4c4c4"/>
<circle cx="408.16" cy="175.14" r="0.35" fill="#9a9a9a"/>
<circle cx="405.61" cy="178.83" r="0.35" fill="#9a9a9a"/>
<circle cx="413.91" cy="180.57" r="0.35" fill="#aaa"/>
<circle cx="410.26" cy="180.68" r="0.35" fill="#bbb"/>
<circle cx="412.47" cy="181.66" r="0.35" fill="#c4c4c4"/>
<circle cx="414.41" cy="174.05" r="0.35" fill="#9a9a9a"/>
<circle cx="414.18" cy="174.32" r="0.35" fill="#9a9a9a"/>
<circle cx="413.77" cy="178.2" r="0.35" fill="#aaa"/>
<circle cx="408.42" cy="181.02" r="0.35" fill="#c4c4c4"/>
<circle cx="416.08" cy="181.43" r="0.35" fill="#aaa"/>
<circle cx="406.28" cy="184.18" r="0.35" fill="#9a9a9a"/>
<circle cx="413.69" cy="176.88" r="0.35" fill="#9a9a9a"/>
<circle cx="409.33" cy="175.25" r="0.35" fill="#bbb"/>
<circle cx="409.23" cy="177.42" r="0.35" fill="#bbb"/>
<circle cx="411.26" cy="179.31" r="0.35" fill="#c4c4c4"/>
<circle cx="409.57" cy="175.93" r="0.35" fill="#c4c4c4"/>
<circle cx="407.28" cy="182.02" r="0.35" fill="#bbb"/>
<circle cx="410.56" cy="175.48" r="0.35" fill="#bbb"/>
<circle cx="414.3" cy="183.46" r="0.35" fill="#c4c4c4"/>
<circle cx="410.79" cy="183.44" r="0.35" fill="#bbb"/>
<circle cx="408.61" cy="175.4" r="0.35" fill="#9a9a9a"/>
<circle cx="411.46" cy="173.94" r="0.35" fill="#bbb"/>
<circle cx="410.84" cy="173.59" r="0.35" fill="#aaa"/>
<circle cx="412.85" cy="181.02" r="0.35" fill="#c4c4c4"/>
<circle cx="407.17" cy="177.67" r="0.35" fill="#c4c4c4"/>
<circle cx="412.61" cy="175.18" r="0.35" fill="#9a9a9a"/>
<circle cx="415.1" cy="173.74" r="0.35" fill="#9a9a9a"/>
<circle cx="414.09" cy="173.36" r="0.35" fill="#aaa"/>
<circle cx="405.62" cy="178.68" r="0.35" fill="#bbb"/>
<circle cx="413.73" cy="174.95" r="0.35" fill="#aaa"/>
<circle cx="431.21" cy="178.28" r="0.35" fill="#bbb"/>
<circle cx="425.23" cy="170.98" r="0.35" fill="#bbb"/>
<circle cx="422.36" cy="173.56" r="0.35" fill="#bbb"/>
<circle cx="437.24" cy="182.97" r="0.35" fill="#bbb"/>
<circle cx="429.81" cy="177.48" r="0.35" fill="#bbb"/>
<circle cx="437.9" cy="187.22" r="0.35" fill="#bbb"/>
<circle cx="423.93" cy="172.32" r="0.35" fill="#bbb"/>
<circle cx="429.88" cy="183.98" r="0.35" fill="#bbb"/>
<circle cx="438.02" cy="184.75" r="0.35" fill="#bbb"/>
<circle cx="434.83" cy="183.23" r="0.35" fill="#bbb"/>
<circle cx="427.28" cy="174.23" r="0.35" fill="#bbb"/>
<circle cx="431.83" cy="173.38" r="0.35" fill="#bbb"/>
<circle cx="439.37" cy="182.17" r="0.35" fill="#bbb"/>
<circle cx="425.79" cy="188.2" r="0.35" fill="#bbb"/>
<circle cx="427.62" cy="172.24" r="0.35" fill="#bbb"/>
<circle cx="426.93" cy="181.97" r="0.35" fill="#bbb"/>
<circle cx="434.59" cy="173.06" r="0.35" fill="#bbb"/>
<circle cx="424.23" cy="172.79" r="0.35" fill="#bbb"/>
<circle cx="427.73" cy="177.03" r="0.35" fill="#bbb"/>
<circle cx="422.14" cy="176.06" r="0.35" fill="#bbb"/>
<circle cx="433.89" cy="173.3" r="0.35" fill="#bbb"/>
<circle cx="433.87" cy="179.42" r="0.35" fill="#bbb"/>
<circle cx="422.35" cy="201.78" r="0.35" fill="#c8c8c8"/>
<circle cx="421.63" cy="209.56" r="0.35" fill="#c8c8c8"/>
<circle cx="432.96" cy="213.08" r="0.35" fill="#c8c8c8"/>
<circle cx="424.01" cy="196.18" r="0.35" fill="#c8c8c8"/>
<circle cx="425.34" cy="204.29" r="0.35" fill="#c8c8c8"/>
<circle cx="431.23" cy="194.08" r="0.35" fill="#c8c8c8"/>
<circle cx="427.52" cy="209.2" r="0.35" fill="#c8c8c8"/>
<circle cx="431.35" cy="212.84" r="0.35" fill="#c8c8c8"/>
<circle cx="410.85" cy="192.58" r="0.35" fill="#999"/>
<circle cx="413.28" cy="180.04" r="0.35" fill="#888"/>
<circle cx="409.74" cy="201.08" r="0.35" fill="#888"/>
<circle cx="416.26" cy="207.05" r="0.35" fill="#888"/>
<circle cx="415.43" cy="191.26" r="0.35" fill="#888"/>
<circle cx="414.89" cy="206.19" r="0.35" fill="#888"/>
<circle cx="419.57" cy="204.56" r="0.35" fill="#888"/>
<circle cx="409.82" cy="208.75" r="0.35" fill="#777"/>
<circle cx="416.82" cy="190.99" r="0.35" fill="#777"/>
<circle cx="412.56" cy="210.84" r="0.35" fill="#888"/>
<circle cx="415.58" cy="196.39" r="0.35" fill="#999"/>
<circle cx="413.21" cy="201.18" r="0.35" fill="#999"/>
<circle cx="413.47" cy="196.49" r="0.35" fill="#777"/>
<circle cx="412.93" cy="197.25" r="0.35" fill="#777"/>
<circle cx="413.38" cy="209.38" r="0.35" fill="#888"/>
<circle cx="409.17" cy="196.98" r="0.35" fill="#777"/>
<circle cx="416.87" cy="202.57" r="0.35" fill="#888"/>
<circle cx="413.46" cy="197.85" r="0.35" fill="#888"/>
<circle cx="418.46" cy="193.99" r="0.35" fill="#999"/>
<circle cx="414.93" cy="206.02" r="0.35" fill="#777"/>
<circle cx="415.19" cy="196.89" r="0.35" fill="#777"/>
<circle cx="418.49" cy="211.53" r="0.35" fill="#999"/>
<circle cx="411.78" cy="180.26" r="0.35" fill="#777"/>
<circle cx="414.47" cy="201.67" r="0.35" fill="#999"/>
<circle cx="415.2" cy="186.8" r="0.35" fill="#777"/>
<circle cx="412.48" cy="204.04" r="0.35" fill="#888"/>
<circle cx="415.56" cy="208.81" r="0.35" fill="#999"/>
<circle cx="414.51" cy="191.83" r="0.35" fill="#777"/>
<circle cx="414.25" cy="209.57" r="0.35" fill="#777"/>
<circle cx="416.65" cy="199.93" r="0.35" fill="#999"/>
<circle cx="420.01" cy="198.51" r="0.35" fill="#777"/>
<circle cx="413.45" cy="206.66" r="0.35" fill="#777"/>
<circle cx="415.82" cy="211.44" r="0.35" fill="#999"/>
<circle cx="415.67" cy="202.81" r="0.35" fill="#777"/>
<circle cx="416.94" cy="203.04" r="0.35" fill="#777"/>
<circle cx="411.28" cy="220.74" r="0.35" fill="#888"/>
<circle cx="415.06" cy="199.83" r="0.35" fill="#777"/>
<circle cx="413.76" cy="205.77" r="0.35" fill="#777"/>
<circle cx="417.58" cy="204.14" r="0.35" fill="#777"/>
<circle cx="416.91" cy="205.2" r="0.35" fill="#999"/>
<circle cx="421.44" cy="187.25" r="0.35" fill="#777"/>
<circle cx="422.09" cy="201.97" r="0.35" fill="#888"/>
<circle cx="411.06" cy="191.3" r="0.35" fill="#777"/>
<circle cx="414.1" cy="199.42" r="0.35" fill="#777"/>
<circle cx="410.05" cy="201.25" r="0.35" fill="#888"/>
<circle cx="413.79" cy="200.21" r="0.35" fill="#999"/>
<circle cx="413.19" cy="211.07" r="0.35" fill="#888"/>
<circle cx="413.8" cy="192.31" r="0.35" fill="#777"/>
<circle cx="409.92" cy="198.49" r="0.35" fill="#888"/>
<circle cx="419.41" cy="211.66" r="0.35" fill="#999"/>
<circle cx="411.61" cy="191.14" r="0.35" fill="#999"/>
<circle cx="412.73" cy="203.23" r="0.35" fill="#888"/>
<circle cx="408.3" cy="199.15" r="0.35" fill="#999"/>
<circle cx="410.31" cy="203.53" r="0.35" fill="#888"/>
<circle cx="414.03" cy="199.38" r="0.35" fill="#777"/>
<circle cx="408.42" cy="202.51" r="0.35" fill="#777"/>
<circle cx="417.86" cy="207.81" r="0.35" fill="#999"/>
<circle cx="411.67" cy="201.53" r="0.35" fill="#999"/>
<circle cx="413.9" cy="202.69" r="0.35" fill="#999"/>
<circle cx="409.06" cy="200.54" r="0.35" fill="#888"/>
<circle cx="411.69" cy="196.09" r="0.35" fill="#999"/>
<circle cx="415.3" cy="191.75" r="0.35" fill="#999"/>
<circle cx="409.61" cy="185.05" r="0.35" fill="#888"/>
<circle cx="411.17" cy="209.78" r="0.35" fill="#777"/>
<circle cx="414.65" cy="217" r="0.35" fill="#888"/>
<circle cx="412.58" cy="188.54" r="0.35" fill="#888"/>
<circle cx="416.66" cy="206.22" r="0.35" fill="#777"/>
<circle cx="417.7" cy="188.71" r="0.35" fill="#999"/>
<circle cx="419.4" cy="207.32" r="0.35" fill="#888"/>
<circle cx="415.13" cy="206.59" r="0.35" fill="#888"/>
<circle cx="420.68" cy="190.59" r="0.35" fill="#777"/>
<circle cx="409.69" cy="201.97" r="0.35" fill="#888"/>
<circle cx="418.89" cy="201.85" r="0.35" fill="#888"/>
<circle cx="412.74" cy="196.73" r="0.35" fill="#777"/>
<circle cx="416.12" cy="202.37" r="0.35" fill="#999"/>
<circle cx="421.11" cy="216.26" r="0.35" fill="#888"/>
<circle cx="409.12" cy="176.7" r="0.35" fill="#999"/>
<circle cx="414.57" cy="202.43" r="0.35" fill="#777"/>
<circle cx="410.37" cy="198.35" r="0.35" fill="#777"/>
<circle cx="414.82" cy="204.7" r="0.35" fill="#999"/>
<circle cx="415.99" cy="201.81" r="0.35" fill="#888"/>
<circle cx="412.31" cy="187.62" r="0.35" fill="#999"/>
<circle cx="406.38" cy="206.35" r="0.35" fill="#888"/>
<circle cx="411.66" cy="209.31" r="0.35" fill="#888"/>
<circle cx="418.52" cy="197.5" r="0.35" fill="#999"/>
<circle cx="413.46" cy="195.82" r="0.35" fill="#888"/>
<circle cx="416.72" cy="190.7" r="0.35" fill="#999"/>
<circle cx="418.1" cy="190.99" r="0.35" fill="#999"/>
<circle cx="407.68" cy="211.58" r="0.35" fill="#888"/>
<circle cx="416.24" cy="183.09" r="0.35" fill="#777"/>
<circle cx="421.08" cy="212.71" r="0.35" fill="#777"/>
<circle cx="409.88" cy="190.07" r="0.35" fill="#999"/>
<circle cx="413.33" cy="210.63" r="0.35" fill="#999"/>
<circle cx="411.32" cy="178.01" r="0.35" fill="#888"/>
<circle cx="416.52" cy="213.89" r="0.35" fill="#888"/>
<circle cx="420.48" cy="206.71" r="0.35" fill="#999"/>
<circle cx="417.87" cy="167.79" r="0.35" fill="#777"/>
<circle cx="414" cy="199.09" r="0.35" fill="#888"/>
<circle cx="410.02" cy="194.61" r="0.35" fill="#999"/>
<circle cx="412.86" cy="210.56" r="0.35" fill="#888"/>
<circle cx="415.19" cy="189.58" r="0.35" fill="#999"/>
<circle cx="409.95" cy="192.55" r="0.35" fill="#999"/>
<circle cx="411.72" cy="186.82" r="0.35" fill="#888"/>
<circle cx="419.81" cy="205.53" r="0.35" fill="#777"/>
<circle cx="418.07" cy="201.56" r="0.35" fill="#777"/>
<circle cx="411.74" cy="204.3" r="0.35" fill="#777"/>
<circle cx="420.02" cy="207.07" r="0.35" fill="#777"/>
<circle cx="418.96" cy="191.05" r="0.35" fill="#999"/>
<circle cx="408.28" cy="196.68" r="0.35" fill="#888"/>
<circle cx="417.52" cy="204.96" r="0.35" fill="#888"/>
<circle cx="414.07" cy="207.26" r="0.35" fill="#999"/>
<circle cx="412.28" cy="195.11" r="0.35" fill="#777"/>
<circle cx="417.62" cy="195.72" r="0.35" fill="#888"/>
<circle cx="411.83" cy="181.78" r="0.35" fill="#888"/>
<circle cx="419.91" cy="215" r="0.35" fill="#999"/>
<circle cx="419.23" cy="182.89" r="0.35" fill="#999"/>
<circle cx="416.4" cy="209.56" r="0.35" fill="#777"/>
<circle cx="420.19" cy="208.09" r="0.35" fill="#888"/>
<circle cx="418.89" cy="190.01" r="0.35" fill="#888"/>
<circle cx="409.34" cy="199.42" r="0.35" fill="#888"/>
<circle cx="412.01" cy="197.45" r="0.35" fill="#888"/>
<circle cx="411.44" cy="202.04" r="0.35" fill="#888"/>
<circle cx="413.26" cy="199.65" r="0.35" fill="#999"/>
<circle cx="413.64" cy="191.57" r="0.35" fill="#888"/>
<circle cx="413.35" cy="198.64" r="0.35" fill="#777"/>
<circle cx="416.9" cy="202.19" r="0.35" fill="#999"/>
<circle cx="413.55" cy="195.22" r="0.35" fill="#999"/>
<circle cx="411.61" cy="205.23" r="0.35" fill="#999"/>
<circle cx="416.29" cy="205.77" r="0.35" fill="#999"/>
<circle cx="419.08" cy="193.73" r="0.35" fill="#888"/>
<circle cx="409.45" cy="208" r="0.35" fill="#888"/>
<circle cx="409.86" cy="190.68" r="0.35" fill="#888"/>
<circle cx="416.74" cy="195.9" r="0.35" fill="#777"/>
<circle cx="416.19" cy="188.53" r="0.35" fill="#999"/>
<circle cx="413.79" cy="206" r="0.35" fill="#777"/>
<circle cx="413.4" cy="197.53" r="0.35" fill="#888"/>
<circle cx="415.54" cy="199.95" r="0.35" fill="#999"/>
<circle cx="414.65" cy="193.43" r="0.35" fill="#888"/>
<circle cx="410.94" cy="202.58" r="0.35" fill="#999"/>
<circle cx="419.53" cy="203.44" r="0.35" fill="#777"/>
<circle cx="408.69" cy="202.36" r="0.35" fill="#777"/>
<circle cx="420.61" cy="179.95" r="0.35" fill="#777"/>
<circle cx="414.53" cy="198.56" r="0.35" fill="#999"/>
<circle cx="408.69" cy="193.84" r="0.35" fill="#999"/>
<circle cx="416.32" cy="195.29" r="0.35" fill="#999"/>
<circle cx="409.82" cy="210.65" r="0.35" fill="#999"/>
<circle cx="411.52" cy="190.76" r="0.35" fill="#999"/>
<circle cx="412.24" cy="200.78" r="0.35" fill="#777"/>
<circle cx="416.74" cy="191.83" r="0.35" fill="#777"/>
<circle cx="417.72" cy="190.37" r="0.35" fill="#777"/>
<circle cx="418.33" cy="215.49" r="0.35" fill="#777"/>
<circle cx="419.99" cy="212.05" r="0.35" fill="#777"/>
<circle cx="414.65" cy="189.18" r="0.35" fill="#888"/>
<circle cx="415.78" cy="189.03" r="0.35" fill="#777"/>
<circle cx="412.26" cy="215.74" r="0.35" fill="#777"/>
<circle cx="416.01" cy="191.79" r="0.35" fill="#888"/>
<circle cx="414.82" cy="210.16" r="0.35" fill="#777"/>
<circle cx="413.69" cy="202.52" r="0.35" fill="#777"/>
<circle cx="420.05" cy="194.46" r="0.35" fill="#999"/>
<circle cx="422.92" cy="197.11" r="0.35" fill="#777"/>
<g>
<ellipse cx="414.55" cy="197.3" rx="5.75" ry="18.1" fill="#c4c4c4" opacity="0.5" stroke="#555" stroke-width="0.5"/>
<ellipse cx="414.85" cy="198.57" rx="4.95" ry="15.57" fill="none" stroke="#444" stroke-width="0.55" opacity="0.8"/>
<ellipse cx="414.85" cy="199.83" rx="4.25" ry="13.03" fill="none" stroke="#333" stroke-width="0.55" opacity="0.85"/>
<ellipse cx="414.8" cy="199.5" rx="5.06" ry="11.95" fill="#3a3a3a" opacity="0.7"/>
<ellipse cx="414.8" cy="200" rx="4.02" ry="9.41" fill="#1a1a1a" opacity="0.85"/>
<ellipse cx="415.5" cy="200.5" rx="0.7" ry="3.2" fill="#ddd" opacity="0.9"/>
<ellipse cx="412.6" cy="199.5" rx="0.5" ry="4" fill="#666" opacity="0.8"/>
<ellipse cx="414.55" cy="182.8" rx="4.31" ry="3" fill="none" stroke="#555" stroke-width="0.5"/>
<ellipse cx="414.55" cy="182.8" rx="2.59" ry="1.8" fill="none" stroke="#777" stroke-width="0.45"/>
</g>
</g></g>
<line x1="420.4" y1="165.2" x2="420.4" y2="218.4" stroke="#555" stroke-width="0.9"/>
<line x1="399.2" y1="184.7" x2="453.2" y2="184.7" stroke="#555" stroke-width="0.9"/>
<rect x="399.2" y="165.2" width="54" height="53.2" fill="none" stroke="#1e1e1e" stroke-width="0.9"/>
<line x1="397.4" y1="217.4" x2="399.2" y2="217.4" stroke="#231f20" stroke-width="0.6"/>
<line x1="397.4" y1="216.2" x2="399.2" y2="216.2" stroke="#231f20" stroke-width="0.6"/>
<line x1="397.4" y1="215" x2="399.2" y2="215" stroke="#231f20" stroke-width="0.6"/>
<line x1="397.4" y1="213.8" x2="399.2" y2="213.8" stroke="#231f20" stroke-width="0.6"/>
<line x1="397.4" y1="212.6" x2="399.2" y2="212.6" stroke="#231f20" stroke-width="0.6"/>
<line x1="397.4" y1="211.4" x2="399.2" y2="211.4" stroke="#231f20" stroke-width="0.6"/>
<line x1="397.4" y1="209.9" x2="399.2" y2="209.9" stroke="#231f20" stroke-width="0.6"/>
<line x1="397.4" y1="208.4" x2="399.2" y2="208.4" stroke="#231f20" stroke-width="0.6"/>
<line x1="397.4" y1="204.4" x2="399.2" y2="204.4" stroke="#231f20" stroke-width="0.6"/>
<line x1="397.4" y1="200.4" x2="399.2" y2="200.4" stroke="#231f20" stroke-width="0.6"/>
<line x1="397.4" y1="197.4" x2="399.2" y2="197.4" stroke="#231f20" stroke-width="0.6"/>
<line x1="397.4" y1="194.4" x2="399.2" y2="194.4" stroke="#231f20" stroke-width="0.6"/>
<line x1="397.4" y1="190.4" x2="399.2" y2="190.4" stroke="#231f20" stroke-width="0.6"/>
<line x1="397.4" y1="186.4" x2="399.2" y2="186.4" stroke="#231f20" stroke-width="0.6"/>
<line x1="397.4" y1="183.4" x2="399.2" y2="183.4" stroke="#231f20" stroke-width="0.6"/>
<line x1="397.4" y1="180.4" x2="399.2" y2="180.4" stroke="#231f20" stroke-width="0.6"/>
<line x1="397.4" y1="176.4" x2="399.2" y2="176.4" stroke="#231f20" stroke-width="0.6"/>
<line x1="397.4" y1="172.4" x2="399.2" y2="172.4" stroke="#231f20" stroke-width="0.6"/>
<line x1="397.4" y1="169.4" x2="399.2" y2="169.4" stroke="#231f20" stroke-width="0.6"/>
<line x1="401.23" y1="218.4" x2="401.23" y2="219.9" stroke="#231f20" stroke-width="0.6"/>
<line x1="405.81" y1="218.4" x2="405.81" y2="219.9" stroke="#231f20" stroke-width="0.6"/>
<line x1="409.71" y1="218.4" x2="409.71" y2="219.9" stroke="#231f20" stroke-width="0.6"/>
<line x1="413.28" y1="218.4" x2="413.28" y2="219.9" stroke="#231f20" stroke-width="0.6"/>
<line x1="417.96" y1="218.4" x2="417.96" y2="219.9" stroke="#231f20" stroke-width="0.6"/>
<line x1="422.07" y1="218.4" x2="422.07" y2="219.9" stroke="#231f20" stroke-width="0.6"/>
<line x1="425.9" y1="218.4" x2="425.9" y2="219.9" stroke="#231f20" stroke-width="0.6"/>
<line x1="429.68" y1="218.4" x2="429.68" y2="219.9" stroke="#231f20" stroke-width="0.6"/>
<line x1="433.81" y1="218.4" x2="433.81" y2="219.9" stroke="#231f20" stroke-width="0.6"/>
<line x1="437.91" y1="218.4" x2="437.91" y2="219.9" stroke="#231f20" stroke-width="0.6"/>
<line x1="441.47" y1="218.4" x2="441.47" y2="219.9" stroke="#231f20" stroke-width="0.6"/>
<line x1="446.24" y1="218.4" x2="446.24" y2="219.9" stroke="#231f20" stroke-width="0.6"/>
<line x1="450.39" y1="218.4" x2="450.39" y2="219.9" stroke="#231f20" stroke-width="0.6"/>
<text x="427" y="163.2" font-size="9" text-anchor="middle" textLength="20.8" lengthAdjust="spacingAndGlyphs">e12.3</text>
<text x="401.8" y="171.8" font-size="6.8" textLength="9.4" lengthAdjust="spacingAndGlyphs">6.9</text>
<g><clipPath id="fc2"><rect x="459.3" y="165.2" width="54" height="53.2"/></clipPath>
<g clip-path="url(#fc2)">
<circle cx="470.73" cy="180.68" r="0.35" fill="#bbb"/>
<circle cx="468.76" cy="179.17" r="0.35" fill="#aaa"/>
<circle cx="467.54" cy="177.21" r="0.35" fill="#c4c4c4"/>
<circle cx="473.82" cy="174.24" r="0.35" fill="#aaa"/>
<circle cx="478.14" cy="175.83" r="0.35" fill="#aaa"/>
<circle cx="481.46" cy="173.35" r="0.35" fill="#aaa"/>
<circle cx="476.47" cy="180.55" r="0.35" fill="#aaa"/>
<circle cx="471.59" cy="180.23" r="0.35" fill="#bbb"/>
<circle cx="467.4" cy="180.15" r="0.35" fill="#9a9a9a"/>
<circle cx="478.77" cy="179.89" r="0.35" fill="#9a9a9a"/>
<circle cx="466.8" cy="176.49" r="0.35" fill="#c4c4c4"/>
<circle cx="481.99" cy="179.91" r="0.35" fill="#bbb"/>
<circle cx="471.95" cy="178.39" r="0.35" fill="#aaa"/>
<circle cx="466.66" cy="176.5" r="0.35" fill="#9a9a9a"/>
<circle cx="469.14" cy="173.61" r="0.35" fill="#aaa"/>
<circle cx="468.98" cy="173.47" r="0.35" fill="#c4c4c4"/>
<circle cx="465.69" cy="180.39" r="0.35" fill="#bbb"/>
<circle cx="473.54" cy="180.43" r="0.35" fill="#c4c4c4"/>
<circle cx="473.03" cy="177.72" r="0.35" fill="#9a9a9a"/>
<circle cx="479.37" cy="177.63" r="0.35" fill="#aaa"/>
<circle cx="465.9" cy="181.1" r="0.35" fill="#bbb"/>
<circle cx="467.29" cy="175.54" r="0.35" fill="#9a9a9a"/>
<circle cx="470.86" cy="181.92" r="0.35" fill="#aaa"/>
<circle cx="467.77" cy="182.32" r="0.35" fill="#c4c4c4"/>
<circle cx="458.2" cy="180.4" r="0.35" fill="#c4c4c4"/>
<circle cx="477.27" cy="177.26" r="0.35" fill="#aaa"/>
<circle cx="480.98" cy="173.32" r="0.35" fill="#aaa"/>
<circle cx="470.11" cy="173.46" r="0.35" fill="#9a9a9a"/>
<circle cx="464.34" cy="177.51" r="0.35" fill="#9a9a9a"/>
<circle cx="473.1" cy="181.7" r="0.35" fill="#bbb"/>
<circle cx="477.93" cy="176.35" r="0.35" fill="#c4c4c4"/>
<circle cx="463.23" cy="175.11" r="0.35" fill="#aaa"/>
<circle cx="471.81" cy="175.1" r="0.35" fill="#bbb"/>
<circle cx="469.14" cy="178.7" r="0.35" fill="#aaa"/>
<circle cx="472.78" cy="181.99" r="0.35" fill="#c4c4c4"/>
<circle cx="464.02" cy="179.12" r="0.35" fill="#c4c4c4"/>
<circle cx="473.02" cy="180.28" r="0.35" fill="#9a9a9a"/>
<circle cx="473.21" cy="179.26" r="0.35" fill="#aaa"/>
<circle cx="468.49" cy="179.87" r="0.35" fill="#c4c4c4"/>
<circle cx="468.84" cy="174.52" r="0.35" fill="#c4c4c4"/>
<circle cx="465.24" cy="178.77" r="0.35" fill="#9a9a9a"/>
<circle cx="467.99" cy="181.47" r="0.35" fill="#9a9a9a"/>
<circle cx="461.67" cy="176.85" r="0.35" fill="#aaa"/>
<circle cx="465.02" cy="173.56" r="0.35" fill="#9a9a9a"/>
<circle cx="464.3" cy="181.64" r="0.35" fill="#aaa"/>
<circle cx="471.55" cy="173.65" r="0.35" fill="#aaa"/>
<circle cx="469.6" cy="181.95" r="0.35" fill="#aaa"/>
<circle cx="471.31" cy="178.37" r="0.35" fill="#c4c4c4"/>
<circle cx="469.42" cy="175.65" r="0.35" fill="#aaa"/>
<circle cx="464.9" cy="182.1" r="0.35" fill="#9a9a9a"/>
<circle cx="472.31" cy="174.94" r="0.35" fill="#aaa"/>
<circle cx="467.42" cy="177.94" r="0.35" fill="#c4c4c4"/>
<circle cx="467.82" cy="181.72" r="0.35" fill="#9a9a9a"/>
<circle cx="472.26" cy="179.23" r="0.35" fill="#9a9a9a"/>
<circle cx="471.64" cy="177.87" r="0.35" fill="#9a9a9a"/>
<circle cx="468.84" cy="178.92" r="0.35" fill="#c4c4c4"/>
<circle cx="463.26" cy="176.89" r="0.35" fill="#9a9a9a"/>
<circle cx="467.55" cy="174.94" r="0.35" fill="#c4c4c4"/>
<circle cx="469.67" cy="175.14" r="0.35" fill="#aaa"/>
<circle cx="463.62" cy="178.9" r="0.35" fill="#9a9a9a"/>
<circle cx="457.18" cy="178.28" r="0.35" fill="#bbb"/>
<circle cx="470.01" cy="175.42" r="0.35" fill="#9a9a9a"/>
<circle cx="468.93" cy="174.03" r="0.35" fill="#bbb"/>
<circle cx="468.02" cy="174.57" r="0.35" fill="#bbb"/>
<circle cx="479.87" cy="180.35" r="0.35" fill="#9a9a9a"/>
<circle cx="472.49" cy="179.55" r="0.35" fill="#aaa"/>
<circle cx="471.83" cy="178.04" r="0.35" fill="#c4c4c4"/>
<circle cx="483.46" cy="178.54" r="0.35" fill="#aaa"/>
<circle cx="469.78" cy="181.72" r="0.35" fill="#9a9a9a"/>
<circle cx="480" cy="179.87" r="0.35" fill="#9a9a9a"/>
<circle cx="465.6" cy="179.43" r="0.35" fill="#aaa"/>
<circle cx="474.48" cy="181.37" r="0.35" fill="#aaa"/>
<circle cx="466.33" cy="178.95" r="0.35" fill="#bbb"/>
<circle cx="463.01" cy="175.55" r="0.35" fill="#bbb"/>
<circle cx="474.13" cy="181.07" r="0.35" fill="#9a9a9a"/>
<circle cx="487.56" cy="171.07" r="0.35" fill="#bbb"/>
<circle cx="489.81" cy="188.52" r="0.35" fill="#bbb"/>
<circle cx="493.83" cy="187.56" r="0.35" fill="#bbb"/>
<circle cx="495.88" cy="185.69" r="0.35" fill="#bbb"/>
<circle cx="500.29" cy="184.03" r="0.35" fill="#bbb"/>
<circle cx="486.61" cy="174.12" r="0.35" fill="#bbb"/>
<circle cx="489.24" cy="169.61" r="0.35" fill="#bbb"/>
<circle cx="485.78" cy="186.66" r="0.35" fill="#bbb"/>
<circle cx="498.9" cy="175.68" r="0.35" fill="#bbb"/>
<circle cx="496.04" cy="184.47" r="0.35" fill="#bbb"/>
<circle cx="498.31" cy="184.85" r="0.35" fill="#bbb"/>
<circle cx="491.51" cy="171.27" r="0.35" fill="#bbb"/>
<circle cx="497.08" cy="175.38" r="0.35" fill="#bbb"/>
<circle cx="493.31" cy="176.43" r="0.35" fill="#bbb"/>
<circle cx="491.61" cy="188.22" r="0.35" fill="#bbb"/>
<circle cx="484.46" cy="179.66" r="0.35" fill="#bbb"/>
<circle cx="493.75" cy="179.81" r="0.35" fill="#bbb"/>
<circle cx="499.22" cy="177.23" r="0.35" fill="#bbb"/>
<circle cx="498.76" cy="182.79" r="0.35" fill="#bbb"/>
<circle cx="499.78" cy="170.97" r="0.35" fill="#bbb"/>
<circle cx="485.44" cy="174.86" r="0.35" fill="#bbb"/>
<circle cx="498.62" cy="169.47" r="0.35" fill="#bbb"/>
<circle cx="484.78" cy="207.87" r="0.35" fill="#c8c8c8"/>
<circle cx="494.27" cy="193.57" r="0.35" fill="#c8c8c8"/>
<circle cx="487.09" cy="207.1" r="0.35" fill="#c8c8c8"/>
<circle cx="490.38" cy="208.67" r="0.35" fill="#c8c8c8"/>
<circle cx="491.19" cy="195.48" r="0.35" fill="#c8c8c8"/>
<circle cx="484.74" cy="189.63" r="0.35" fill="#c8c8c8"/>
<circle cx="490.38" cy="194.44" r="0.35" fill="#c8c8c8"/>
<circle cx="484.77" cy="214.45" r="0.35" fill="#c8c8c8"/>
<circle cx="471.06" cy="188.14" r="0.35" fill="#999"/>
<circle cx="475.27" cy="199.09" r="0.35" fill="#888"/>
<circle cx="473.61" cy="200.76" r="0.35" fill="#777"/>
<circle cx="472.68" cy="196.86" r="0.35" fill="#777"/>
<circle cx="475.15" cy="201.11" r="0.35" fill="#888"/>
<circle cx="471.48" cy="188.94" r="0.35" fill="#888"/>
<circle cx="477.51" cy="192.91" r="0.35" fill="#777"/>
<circle cx="473.94" cy="206.74" r="0.35" fill="#999"/>
<circle cx="472.6" cy="188.51" r="0.35" fill="#999"/>
<circle cx="479.21" cy="185.14" r="0.35" fill="#888"/>
<circle cx="470.32" cy="211.99" r="0.35" fill="#777"/>
<circle cx="469.24" cy="207.94" r="0.35" fill="#777"/>
<circle cx="478.03" cy="184.73" r="0.35" fill="#999"/>
<circle cx="471.47" cy="208.57" r="0.35" fill="#777"/>
<circle cx="475.45" cy="199.38" r="0.35" fill="#999"/>
<circle cx="472.41" cy="190.98" r="0.35" fill="#888"/>
<circle cx="474.9" cy="202.23" r="0.35" fill="#777"/>
<circle cx="474.69" cy="194.99" r="0.35" fill="#888"/>
<circle cx="471.35" cy="188.02" r="0.35" fill="#777"/>
<circle cx="476.84" cy="200.54" r="0.35" fill="#888"/>
<circle cx="475.19" cy="193.82" r="0.35" fill="#888"/>
<circle cx="470.27" cy="208.63" r="0.35" fill="#777"/>
<circle cx="470.04" cy="208.5" r="0.35" fill="#888"/>
<circle cx="471.13" cy="205.88" r="0.35" fill="#777"/>
<circle cx="479.54" cy="183.37" r="0.35" fill="#777"/>
<circle cx="473.27" cy="206.32" r="0.35" fill="#777"/>
<circle cx="474.43" cy="203.53" r="0.35" fill="#777"/>
<circle cx="474.61" cy="179.93" r="0.35" fill="#777"/>
<circle cx="471.48" cy="189.69" r="0.35" fill="#777"/>
<circle cx="479.1" cy="201.84" r="0.35" fill="#888"/>
<circle cx="474.13" cy="199.86" r="0.35" fill="#888"/>
<circle cx="472.32" cy="198" r="0.35" fill="#999"/>
<circle cx="473.67" cy="193.74" r="0.35" fill="#777"/>
<circle cx="465.93" cy="199.59" r="0.35" fill="#777"/>
<circle cx="472.91" cy="199.09" r="0.35" fill="#777"/>
<circle cx="477.15" cy="201.21" r="0.35" fill="#888"/>
<circle cx="474.27" cy="205.88" r="0.35" fill="#777"/>
<circle cx="476.35" cy="200.45" r="0.35" fill="#999"/>
<circle cx="475.1" cy="209.84" r="0.35" fill="#888"/>
<circle cx="480.71" cy="211.53" r="0.35" fill="#999"/>
<circle cx="478.16" cy="201.45" r="0.35" fill="#999"/>
<circle cx="475.69" cy="192.94" r="0.35" fill="#777"/>
<circle cx="470.04" cy="199.1" r="0.35" fill="#888"/>
<circle cx="474.47" cy="192.94" r="0.35" fill="#888"/>
<circle cx="472.94" cy="194.63" r="0.35" fill="#888"/>
<circle cx="472.28" cy="190.31" r="0.35" fill="#777"/>
<circle cx="472.87" cy="187.79" r="0.35" fill="#888"/>
<circle cx="474.28" cy="198.86" r="0.35" fill="#999"/>
<circle cx="476.98" cy="179.51" r="0.35" fill="#999"/>
<circle cx="468.24" cy="200.42" r="0.35" fill="#999"/>
<circle cx="470.36" cy="185.11" r="0.35" fill="#999"/>
<circle cx="469.92" cy="189.58" r="0.35" fill="#777"/>
<circle cx="468.33" cy="209.97" r="0.35" fill="#888"/>
<circle cx="473.62" cy="179.77" r="0.35" fill="#888"/>
<circle cx="471.15" cy="186.69" r="0.35" fill="#999"/>
<circle cx="474.75" cy="209.77" r="0.35" fill="#999"/>
<circle cx="476.24" cy="200.78" r="0.35" fill="#777"/>
<circle cx="471.9" cy="221.76" r="0.35" fill="#777"/>
<circle cx="473" cy="205.07" r="0.35" fill="#777"/>
<circle cx="477.44" cy="194.23" r="0.35" fill="#999"/>
<circle cx="475.78" cy="205.03" r="0.35" fill="#888"/>
<circle cx="474.48" cy="207.93" r="0.35" fill="#999"/>
<circle cx="477.64" cy="185.74" r="0.35" fill="#999"/>
<circle cx="479.06" cy="197" r="0.35" fill="#777"/>
<circle cx="475.49" cy="207.22" r="0.35" fill="#888"/>
<circle cx="478.03" cy="197.62" r="0.35" fill="#777"/>
<circle cx="480.02" cy="195.26" r="0.35" fill="#777"/>
<circle cx="471.3" cy="202.24" r="0.35" fill="#999"/>
<circle cx="472.86" cy="186.27" r="0.35" fill="#777"/>
<circle cx="474.55" cy="214.89" r="0.35" fill="#777"/>
<circle cx="471.88" cy="193.27" r="0.35" fill="#888"/>
<circle cx="469.57" cy="199.43" r="0.35" fill="#888"/>
<circle cx="475.78" cy="202.77" r="0.35" fill="#777"/>
<circle cx="473.49" cy="206.96" r="0.35" fill="#777"/>
<circle cx="475.99" cy="197.6" r="0.35" fill="#888"/>
<circle cx="474.98" cy="195.62" r="0.35" fill="#777"/>
<circle cx="472.75" cy="199.38" r="0.35" fill="#888"/>
<circle cx="474.73" cy="190.93" r="0.35" fill="#999"/>
<circle cx="470.29" cy="182.35" r="0.35" fill="#999"/>
<circle cx="473.03" cy="219.15" r="0.35" fill="#888"/>
<circle cx="477.24" cy="203.1" r="0.35" fill="#777"/>
<circle cx="481.69" cy="193.66" r="0.35" fill="#777"/>
<circle cx="471.77" cy="220.64" r="0.35" fill="#777"/>
<circle cx="470.17" cy="203.01" r="0.35" fill="#888"/>
<circle cx="475.89" cy="185.28" r="0.35" fill="#999"/>
<circle cx="470.65" cy="192.73" r="0.35" fill="#888"/>
<circle cx="471.44" cy="187.55" r="0.35" fill="#888"/>
<circle cx="481.47" cy="183.84" r="0.35" fill="#777"/>
<circle cx="469.61" cy="202.41" r="0.35" fill="#888"/>
<circle cx="471.99" cy="195.19" r="0.35" fill="#999"/>
<circle cx="479.03" cy="194.14" r="0.35" fill="#888"/>
<circle cx="471.12" cy="205.88" r="0.35" fill="#999"/>
<circle cx="476.5" cy="184.97" r="0.35" fill="#777"/>
<circle cx="471.16" cy="190.44" r="0.35" fill="#999"/>
<circle cx="470.23" cy="215.64" r="0.35" fill="#888"/>
<circle cx="468.69" cy="199.76" r="0.35" fill="#999"/>
<circle cx="481.33" cy="192.45" r="0.35" fill="#888"/>
<circle cx="480.16" cy="193.54" r="0.35" fill="#777"/>
<circle cx="475.59" cy="197.12" r="0.35" fill="#777"/>
<circle cx="470.53" cy="195.22" r="0.35" fill="#777"/>
<circle cx="476.17" cy="193.77" r="0.35" fill="#999"/>
<circle cx="473.14" cy="189.08" r="0.35" fill="#888"/>
<circle cx="474.25" cy="192.94" r="0.35" fill="#777"/>
<circle cx="469.32" cy="183.3" r="0.35" fill="#777"/>
<circle cx="475.95" cy="198.74" r="0.35" fill="#888"/>
<circle cx="470.17" cy="188.94" r="0.35" fill="#888"/>
<circle cx="466.57" cy="186.93" r="0.35" fill="#999"/>
<circle cx="470.86" cy="195.43" r="0.35" fill="#888"/>
<circle cx="471.46" cy="212.88" r="0.35" fill="#999"/>
<circle cx="479.43" cy="199.15" r="0.35" fill="#777"/>
<circle cx="472.64" cy="200.45" r="0.35" fill="#999"/>
<circle cx="474.77" cy="180.5" r="0.35" fill="#999"/>
<circle cx="474.83" cy="204.23" r="0.35" fill="#999"/>
<circle cx="476.38" cy="196.39" r="0.35" fill="#888"/>
<circle cx="472.77" cy="193.29" r="0.35" fill="#777"/>
<circle cx="468.41" cy="187.17" r="0.35" fill="#999"/>
<circle cx="481.42" cy="203.12" r="0.35" fill="#999"/>
<circle cx="468.39" cy="194.48" r="0.35" fill="#888"/>
<circle cx="480.39" cy="200.6" r="0.35" fill="#777"/>
<circle cx="476.39" cy="201.17" r="0.35" fill="#777"/>
<circle cx="474.4" cy="204.72" r="0.35" fill="#999"/>
<circle cx="474.63" cy="191.15" r="0.35" fill="#777"/>
<circle cx="480.39" cy="211.59" r="0.35" fill="#777"/>
<circle cx="475.99" cy="204.24" r="0.35" fill="#999"/>
<circle cx="472.31" cy="203.78" r="0.35" fill="#999"/>
<circle cx="471.29" cy="198.58" r="0.35" fill="#777"/>
<circle cx="476.58" cy="194.51" r="0.35" fill="#888"/>
<circle cx="478.28" cy="204.55" r="0.35" fill="#999"/>
<circle cx="475.94" cy="196.85" r="0.35" fill="#999"/>
<circle cx="472.03" cy="207.08" r="0.35" fill="#777"/>
<circle cx="477.18" cy="216.98" r="0.35" fill="#999"/>
<circle cx="476.09" cy="183.41" r="0.35" fill="#999"/>
<circle cx="471.38" cy="201.19" r="0.35" fill="#777"/>
<circle cx="474.88" cy="213.72" r="0.35" fill="#888"/>
<circle cx="478.02" cy="204.38" r="0.35" fill="#777"/>
<circle cx="475.13" cy="188.07" r="0.35" fill="#888"/>
<circle cx="474.72" cy="191.29" r="0.35" fill="#777"/>
<circle cx="475.89" cy="188.51" r="0.35" fill="#888"/>
<circle cx="475.57" cy="202.18" r="0.35" fill="#999"/>
<circle cx="475.52" cy="214.62" r="0.35" fill="#888"/>
<circle cx="474.21" cy="204.66" r="0.35" fill="#888"/>
<circle cx="470.85" cy="196.53" r="0.35" fill="#777"/>
<circle cx="479.72" cy="200.46" r="0.35" fill="#777"/>
<circle cx="471.57" cy="197.15" r="0.35" fill="#999"/>
<circle cx="472.25" cy="185.96" r="0.35" fill="#777"/>
<circle cx="474.92" cy="205.17" r="0.35" fill="#999"/>
<circle cx="475.59" cy="194.79" r="0.35" fill="#777"/>
<circle cx="474.97" cy="213.07" r="0.35" fill="#999"/>
<circle cx="472.14" cy="175.25" r="0.35" fill="#888"/>
<circle cx="470.56" cy="204.33" r="0.35" fill="#888"/>
<circle cx="478.69" cy="201.91" r="0.35" fill="#777"/>
<circle cx="473.19" cy="205.4" r="0.35" fill="#777"/>
<circle cx="478.9" cy="214.75" r="0.35" fill="#777"/>
<circle cx="471.73" cy="199.08" r="0.35" fill="#777"/>
<circle cx="475.3" cy="183.55" r="0.35" fill="#888"/>
<circle cx="472.44" cy="188.16" r="0.35" fill="#888"/>
<circle cx="474.32" cy="193.4" r="0.35" fill="#777"/>
<circle cx="471.3" cy="190.82" r="0.35" fill="#777"/>
<circle cx="473.96" cy="211.13" r="0.35" fill="#777"/>
<circle cx="467.35" cy="203.17" r="0.35" fill="#999"/>
<g>
<ellipse cx="474.05" cy="195.65" rx="6.55" ry="18.15" fill="#c4c4c4" opacity="0.5" stroke="#555" stroke-width="0.5"/>
<ellipse cx="474.35" cy="196.92" rx="5.63" ry="15.61" fill="none" stroke="#444" stroke-width="0.55" opacity="0.8"/>
<ellipse cx="474.35" cy="198.19" rx="4.85" ry="13.07" fill="none" stroke="#333" stroke-width="0.55" opacity="0.85"/>
<ellipse cx="474.3" cy="197.5" rx="5.76" ry="11.98" fill="#3a3a3a" opacity="0.7"/>
<ellipse cx="474.3" cy="198" rx="4.59" ry="9.44" fill="#1a1a1a" opacity="0.85"/>
<ellipse cx="475" cy="198.5" rx="0.7" ry="3.2" fill="#ddd" opacity="0.9"/>
<ellipse cx="472.1" cy="197.5" rx="0.5" ry="4" fill="#666" opacity="0.8"/>
<ellipse cx="474.05" cy="181.1" rx="4.91" ry="3" fill="none" stroke="#555" stroke-width="0.5"/>
<ellipse cx="474.05" cy="181.1" rx="2.95" ry="1.8" fill="none" stroke="#777" stroke-width="0.45"/>
</g>
</g></g>
<line x1="480.4" y1="165.2" x2="480.4" y2="218.4" stroke="#555" stroke-width="0.9"/>
<line x1="459.3" y1="184.9" x2="513.3" y2="184.9" stroke="#555" stroke-width="0.9"/>
<rect x="459.3" y="165.2" width="54" height="53.2" fill="none" stroke="#1e1e1e" stroke-width="0.9"/>
<line x1="457.5" y1="217.4" x2="459.3" y2="217.4" stroke="#231f20" stroke-width="0.6"/>
<line x1="457.5" y1="216.2" x2="459.3" y2="216.2" stroke="#231f20" stroke-width="0.6"/>
<line x1="457.5" y1="215" x2="459.3" y2="215" stroke="#231f20" stroke-width="0.6"/>
<line x1="457.5" y1="213.8" x2="459.3" y2="213.8" stroke="#231f20" stroke-width="0.6"/>
<line x1="457.5" y1="212.6" x2="459.3" y2="212.6" stroke="#231f20" stroke-width="0.6"/>
<line x1="457.5" y1="211.4" x2="459.3" y2="211.4" stroke="#231f20" stroke-width="0.6"/>
<line x1="457.5" y1="209.9" x2="459.3" y2="209.9" stroke="#231f20" stroke-width="0.6"/>
<line x1="457.5" y1="208.4" x2="459.3" y2="208.4" stroke="#231f20" stroke-width="0.6"/>
<line x1="457.5" y1="204.4" x2="459.3" y2="204.4" stroke="#231f20" stroke-width="0.6"/>
<line x1="457.5" y1="200.4" x2="459.3" y2="200.4" stroke="#231f20" stroke-width="0.6"/>
<line x1="457.5" y1="197.4" x2="459.3" y2="197.4" stroke="#231f20" stroke-width="0.6"/>
<line x1="457.5" y1="194.4" x2="459.3" y2="194.4" stroke="#231f20" stroke-width="0.6"/>
<line x1="457.5" y1="190.4" x2="459.3" y2="190.4" stroke="#231f20" stroke-width="0.6"/>
<line x1="457.5" y1="186.4" x2="459.3" y2="186.4" stroke="#231f20" stroke-width="0.6"/>
<line x1="457.5" y1="183.4" x2="459.3" y2="183.4" stroke="#231f20" stroke-width="0.6"/>
<line x1="457.5" y1="180.4" x2="459.3" y2="180.4" stroke="#231f20" stroke-width="0.6"/>
<line x1="457.5" y1="176.4" x2="459.3" y2="176.4" stroke="#231f20" stroke-width="0.6"/>
<line x1="457.5" y1="172.4" x2="459.3" y2="172.4" stroke="#231f20" stroke-width="0.6"/>
<line x1="457.5" y1="169.4" x2="459.3" y2="169.4" stroke="#231f20" stroke-width="0.6"/>
<line x1="461.8" y1="218.4" x2="461.8" y2="219.9" stroke="#231f20" stroke-width="0.6"/>
<line x1="466.15" y1="218.4" x2="466.15" y2="219.9" stroke="#231f20" stroke-width="0.6"/>
<line x1="469.94" y1="218.4" x2="469.94" y2="219.9" stroke="#231f20" stroke-width="0.6"/>
<line x1="474.24" y1="218.4" x2="474.24" y2="219.9" stroke="#231f20" stroke-width="0.6"/>
<line x1="478.17" y1="218.4" x2="478.17" y2="219.9" stroke="#231f20" stroke-width="0.6"/>
<line x1="481.68" y1="218.4" x2="481.68" y2="219.9" stroke="#231f20" stroke-width="0.6"/>
<line x1="485.36" y1="218.4" x2="485.36" y2="219.9" stroke="#231f20" stroke-width="0.6"/>
<line x1="490.22" y1="218.4" x2="490.22" y2="219.9" stroke="#231f20" stroke-width="0.6"/>
<line x1="493.41" y1="218.4" x2="493.41" y2="219.9" stroke="#231f20" stroke-width="0.6"/>
<line x1="498.41" y1="218.4" x2="498.41" y2="219.9" stroke="#231f20" stroke-width="0.6"/>
<line x1="501.46" y1="218.4" x2="501.46" y2="219.9" stroke="#231f20" stroke-width="0.6"/>
<line x1="506.33" y1="218.4" x2="506.33" y2="219.9" stroke="#231f20" stroke-width="0.6"/>
<line x1="510.43" y1="218.4" x2="510.43" y2="219.9" stroke="#231f20" stroke-width="0.6"/>
<text x="486.2" y="163.2" font-size="9" text-anchor="middle" textLength="20.8" lengthAdjust="spacingAndGlyphs">e12.4</text>
<text x="461.9" y="171.8" font-size="6.8" textLength="12.6" lengthAdjust="spacingAndGlyphs">10.1</text>
<g><clipPath id="fc3"><rect x="339.1" y="235.4" width="54" height="53.2"/></clipPath>
<g clip-path="url(#fc3)">
<circle cx="348.24" cy="248.74" r="0.35" fill="#9a9a9a"/>
<circle cx="349.4" cy="245.74" r="0.35" fill="#9a9a9a"/>
<circle cx="354.95" cy="246.06" r="0.35" fill="#9a9a9a"/>
<circle cx="343.63" cy="244.53" r="0.35" fill="#9a9a9a"/>
<circle cx="348.19" cy="243.65" r="0.35" fill="#aaa"/>
<circle cx="341.33" cy="247.53" r="0.35" fill="#9a9a9a"/>
<circle cx="346.01" cy="248.11" r="0.35" fill="#c4c4c4"/>
<circle cx="359.4" cy="244.72" r="0.35" fill="#aaa"/>
<circle cx="342.54" cy="248.92" r="0.35" fill="#bbb"/>
<circle cx="356.61" cy="244.36" r="0.35" fill="#aaa"/>
<circle cx="343.37" cy="244.12" r="0.35" fill="#c4c4c4"/>
<circle cx="351.91" cy="247.09" r="0.35" fill="#aaa"/>
<circle cx="346.5" cy="247.03" r="0.35" fill="#aaa"/>
<circle cx="347.34" cy="249.13" r="0.35" fill="#aaa"/>
<circle cx="350.02" cy="247.23" r="0.35" fill="#bbb"/>
<circle cx="337.87" cy="249.66" r="0.35" fill="#9a9a9a"/>
<circle cx="349.9" cy="251.13" r="0.35" fill="#aaa"/>
<circle cx="356.29" cy="251.01" r="0.35" fill="#bbb"/>
<circle cx="346.65" cy="250.02" r="0.35" fill="#aaa"/>
<circle cx="358.3" cy="248.55" r="0.35" fill="#9a9a9a"/>
<circle cx="354.87" cy="247.88" r="0.35" fill="#9a9a9a"/>
<circle cx="340.23" cy="249.54" r="0.35" fill="#bbb"/>
<circle cx="340.86" cy="250.83" r="0.35" fill="#bbb"/>
<circle cx="342.79" cy="245.18" r="0.35" fill="#bbb"/>
<circle cx="351.91" cy="246.25" r="0.35" fill="#bbb"/>
<circle cx="346.17" cy="248.22" r="0.35" fill="#c4c4c4"/>
<circle cx="348.18" cy="245.17" r="0.35" fill="#c4c4c4"/>
<circle cx="351.94" cy="249.3" r="0.35" fill="#aaa"/>
<circle cx="353.33" cy="243.81" r="0.35" fill="#aaa"/>
<circle cx="342.88" cy="249.29" r="0.35" fill="#bbb"/>
<circle cx="349.94" cy="246.37" r="0.35" fill="#bbb"/>
<circle cx="358.13" cy="244.44" r="0.35" fill="#bbb"/>
<circle cx="349.22" cy="250.39" r="0.35" fill="#aaa"/>
<circle cx="348.48" cy="250.01" r="0.35" fill="#aaa"/>
<circle cx="358.63" cy="250.21" r="0.35" fill="#9a9a9a"/>
<circle cx="339.41" cy="249.59" r="0.35" fill="#c4c4c4"/>
<circle cx="355.95" cy="247" r="0.35" fill="#aaa"/>
<circle cx="348.04" cy="249.09" r="0.35" fill="#bbb"/>
<circle cx="350.11" cy="245.95" r="0.35" fill="#9a9a9a"/>
<circle cx="352.63" cy="250.44" r="0.35" fill="#9a9a9a"/>
<circle cx="350.4" cy="243.93" r="0.35" fill="#9a9a9a"/>
<circle cx="352.18" cy="244.95" r="0.35" fill="#c4c4c4"/>
<circle cx="347.07" cy="247.12" r="0.35" fill="#c4c4c4"/>
<circle cx="346.44" cy="245.82" r="0.35" fill="#c4c4c4"/>
<circle cx="347.99" cy="249.94" r="0.35" fill="#bbb"/>
<circle cx="354.7" cy="247.87" r="0.35" fill="#9a9a9a"/>
<circle cx="334.54" cy="250.39" r="0.35" fill="#9a9a9a"/>
<circle cx="338.81" cy="247.18" r="0.35" fill="#c4c4c4"/>
<circle cx="363.8" cy="245.17" r="0.35" fill="#aaa"/>
<circle cx="351.12" cy="246.23" r="0.35" fill="#bbb"/>
<circle cx="357.35" cy="250.13" r="0.35" fill="#9a9a9a"/>
<circle cx="346.56" cy="247" r="0.35" fill="#c4c4c4"/>
<circle cx="352.98" cy="251.19" r="0.35" fill="#aaa"/>
<circle cx="350.53" cy="247.48" r="0.35" fill="#bbb"/>
<circle cx="357.95" cy="248.11" r="0.35" fill="#9a9a9a"/>
<circle cx="355.92" cy="245.11" r="0.35" fill="#c4c4c4"/>
<circle cx="354.39" cy="244" r="0.35" fill="#c4c4c4"/>
<circle cx="356.65" cy="244.97" r="0.35" fill="#bbb"/>
<circle cx="356.71" cy="250.99" r="0.35" fill="#c4c4c4"/>
<circle cx="349.75" cy="247.67" r="0.35" fill="#9a9a9a"/>
<circle cx="348.6" cy="250.86" r="0.35" fill="#aaa"/>
<circle cx="347.43" cy="244.83" r="0.35" fill="#9a9a9a"/>
<circle cx="353.63" cy="250.61" r="0.35" fill="#aaa"/>
<circle cx="346.27" cy="247.34" r="0.35" fill="#aaa"/>
<circle cx="337.35" cy="247.77" r="0.35" fill="#aaa"/>
<circle cx="349.23" cy="244.6" r="0.35" fill="#c4c4c4"/>
<circle cx="352" cy="248.1" r="0.35" fill="#bbb"/>
<circle cx="344.65" cy="248.11" r="0.35" fill="#aaa"/>
<circle cx="344.31" cy="247.05" r="0.35" fill="#9a9a9a"/>
<circle cx="353.27" cy="249.44" r="0.35" fill="#bbb"/>
<circle cx="352.81" cy="249.51" r="0.35" fill="#bbb"/>
<circle cx="348.21" cy="245.21" r="0.35" fill="#aaa"/>
<circle cx="350.48" cy="250.2" r="0.35" fill="#9a9a9a"/>
<circle cx="353.49" cy="249.24" r="0.35" fill="#aaa"/>
<circle cx="348.62" cy="250.62" r="0.35" fill="#9a9a9a"/>
<circle cx="370.08" cy="239.43" r="0.35" fill="#bbb"/>
<circle cx="377.32" cy="256.68" r="0.35" fill="#bbb"/>
<circle cx="377.86" cy="250.53" r="0.35" fill="#bbb"/>
<circle cx="368.69" cy="245.77" r="0.35" fill="#bbb"/>
<circle cx="364.06" cy="243.71" r="0.35" fill="#bbb"/>
<circle cx="371.12" cy="247.52" r="0.35" fill="#bbb"/>
<circle cx="374.51" cy="259.23" r="0.35" fill="#bbb"/>
<circle cx="365.13" cy="256.7" r="0.35" fill="#bbb"/>
<circle cx="367.57" cy="248.08" r="0.35" fill="#bbb"/>
<circle cx="366.69" cy="252.04" r="0.35" fill="#bbb"/>
<circle cx="369.27" cy="242.24" r="0.35" fill="#bbb"/>
<circle cx="372" cy="241.88" r="0.35" fill="#bbb"/>
<circle cx="366.43" cy="247.71" r="0.35" fill="#bbb"/>
<circle cx="376.76" cy="254.7" r="0.35" fill="#bbb"/>
<circle cx="372.05" cy="248.81" r="0.35" fill="#bbb"/>
<circle cx="366.06" cy="249.72" r="0.35" fill="#bbb"/>
<circle cx="369.76" cy="249.53" r="0.35" fill="#bbb"/>
<circle cx="370.3" cy="244.03" r="0.35" fill="#bbb"/>
<circle cx="367.48" cy="247.03" r="0.35" fill="#bbb"/>
<circle cx="362.12" cy="241.4" r="0.35" fill="#bbb"/>
<circle cx="374.75" cy="246.08" r="0.35" fill="#bbb"/>
<circle cx="374.19" cy="256.12" r="0.35" fill="#bbb"/>
<circle cx="369.19" cy="271.54" r="0.35" fill="#c8c8c8"/>
<circle cx="371.65" cy="273.71" r="0.35" fill="#c8c8c8"/>
<circle cx="361.34" cy="279.93" r="0.35" fill="#c8c8c8"/>
<circle cx="367" cy="272.68" r="0.35" fill="#c8c8c8"/>
<circle cx="370.06" cy="277.14" r="0.35" fill="#c8c8c8"/>
<circle cx="373.18" cy="275.6" r="0.35" fill="#c8c8c8"/>
<circle cx="362.83" cy="276.46" r="0.35" fill="#c8c8c8"/>
<circle cx="370.51" cy="259.4" r="0.35" fill="#c8c8c8"/>
<circle cx="359.96" cy="260.49" r="0.35" fill="#999"/>
<circle cx="348.41" cy="274.01" r="0.35" fill="#999"/>
<circle cx="347.94" cy="259.74" r="0.35" fill="#777"/>
<circle cx="351.99" cy="256.93" r="0.35" fill="#777"/>
<circle cx="351.97" cy="264.09" r="0.35" fill="#777"/>
<circle cx="355.01" cy="253.7" r="0.35" fill="#888"/>
<circle cx="348.71" cy="257.07" r="0.35" fill="#777"/>
<circle cx="353.19" cy="258.99" r="0.35" fill="#888"/>
<circle cx="356.72" cy="258.93" r="0.35" fill="#888"/>
<circle cx="349.93" cy="264.77" r="0.35" fill="#999"/>
<circle cx="358.08" cy="266.57" r="0.35" fill="#888"/>
<circle cx="350.35" cy="266.07" r="0.35" fill="#999"/>
<circle cx="351.81" cy="258.51" r="0.35" fill="#888"/>
<circle cx="352.39" cy="262.77" r="0.35" fill="#999"/>
<circle cx="357.22" cy="262.7" r="0.35" fill="#777"/>
<circle cx="354.1" cy="279.34" r="0.35" fill="#777"/>
<circle cx="355.5" cy="262.87" r="0.35" fill="#888"/>
<circle cx="355.47" cy="263.91" r="0.35" fill="#999"/>
<circle cx="358.98" cy="268.45" r="0.35" fill="#777"/>
<circle cx="352.15" cy="246.98" r="0.35" fill="#777"/>
<circle cx="350.52" cy="265.79" r="0.35" fill="#777"/>
<circle cx="351.06" cy="274.7" r="0.35" fill="#999"/>
<circle cx="354.15" cy="262.28" r="0.35" fill="#999"/>
<circle cx="354.16" cy="265.35" r="0.35" fill="#888"/>
<circle cx="348.21" cy="267.89" r="0.35" fill="#777"/>
<circle cx="353.39" cy="272.41" r="0.35" fill="#999"/>
<circle cx="353.89" cy="262.28" r="0.35" fill="#777"/>
<circle cx="351.81" cy="269.48" r="0.35" fill="#888"/>
<circle cx="354.6" cy="254.65" r="0.35" fill="#888"/>
<circle cx="344.62" cy="277.18" r="0.35" fill="#888"/>
<circle cx="358.03" cy="260.1" r="0.35" fill="#777"/>
<circle cx="354.86" cy="263.23" r="0.35" fill="#999"/>
<circle cx="353.19" cy="263.66" r="0.35" fill="#777"/>
<circle cx="350.93" cy="276.84" r="0.35" fill="#999"/>
<circle cx="349.08" cy="264.86" r="0.35" fill="#999"/>
<circle cx="351.84" cy="251.9" r="0.35" fill="#888"/>
<circle cx="347.62" cy="248.32" r="0.35" fill="#777"/>
<circle cx="350.89" cy="248.45" r="0.35" fill="#999"/>
<circle cx="355.35" cy="256.79" r="0.35" fill="#999"/>
<circle cx="349.14" cy="280.79" r="0.35" fill="#999"/>
<circle cx="350.59" cy="255.25" r="0.35" fill="#999"/>
<circle cx="352.66" cy="255.48" r="0.35" fill="#777"/>
<circle cx="356.82" cy="245.97" r="0.35" fill="#999"/>
<circle cx="353.08" cy="264.21" r="0.35" fill="#888"/>
<circle cx="353.06" cy="254.32" r="0.35" fill="#999"/>
<circle cx="355.88" cy="255.99" r="0.35" fill="#888"/>
<circle cx="356.75" cy="285.52" r="0.35" fill="#999"/>
<circle cx="350.84" cy="274.59" r="0.35" fill="#777"/>
<circle cx="359.64" cy="262.93" r="0.35" fill="#999"/>
<circle cx="360.9" cy="268.82" r="0.35" fill="#999"/>
<circle cx="346.56" cy="262.29" r="0.35" fill="#999"/>
<circle cx="350.16" cy="264.2" r="0.35" fill="#777"/>
<circle cx="358.07" cy="255.6" r="0.35" fill="#888"/>
<circle cx="351.06" cy="281.05" r="0.35" fill="#888"/>
<circle cx="344.65" cy="277.97" r="0.35" fill="#777"/>
<circle cx="350.51" cy="261.94" r="0.35" fill="#888"/>
<circle cx="353.76" cy="274.48" r="0.35" fill="#888"/>
<circle cx="350.44" cy="264.88" r="0.35" fill="#999"/>
<circle cx="352.77" cy="265.77" r="0.35" fill="#888"/>
<circle cx="351.43" cy="273.33" r="0.35" fill="#888"/>
<circle cx="349.63" cy="252.4" r="0.35" fill="#888"/>
<circle cx="355.19" cy="273.15" r="0.35" fill="#888"/>
<circle cx="355.04" cy="273.17" r="0.35" fill="#999"/>
<circle cx="355.54" cy="264.16" r="0.35" fill="#888"/>
<circle cx="354.37" cy="263.68" r="0.35" fill="#999"/>
<circle cx="356.54" cy="292.9" r="0.35" fill="#888"/>
<circle cx="348.64" cy="266.64" r="0.35" fill="#999"/>
<circle cx="347.56" cy="265.6" r="0.35" fill="#888"/>
<circle cx="349.1" cy="248.27" r="0.35" fill="#888"/>
<circle cx="358.27" cy="267.61" r="0.35" fill="#777"/>
<circle cx="352.81" cy="267.76" r="0.35" fill="#999"/>
<circle cx="350.29" cy="275.62" r="0.35" fill="#999"/>
<circle cx="352.77" cy="272.37" r="0.35" fill="#888"/>
<circle cx="351.81" cy="269.21" r="0.35" fill="#999"/>
<circle cx="350.91" cy="274.52" r="0.35" fill="#777"/>
<circle cx="353.96" cy="278.12" r="0.35" fill="#777"/>
<circle cx="356.26" cy="267.57" r="0.35" fill="#999"/>
<circle cx="357.9" cy="271.23" r="0.35" fill="#999"/>
<circle cx="354.56" cy="266.91" r="0.35" fill="#777"/>
<circle cx="354.91" cy="255.22" r="0.35" fill="#888"/>
<circle cx="347.62" cy="262.49" r="0.35" fill="#777"/>
<circle cx="354.96" cy="250.46" r="0.35" fill="#888"/>
<circle cx="354.14" cy="264.92" r="0.35" fill="#777"/>
<circle cx="354.38" cy="274.79" r="0.35" fill="#777"/>
<circle cx="350.33" cy="258" r="0.35" fill="#888"/>
<circle cx="349.82" cy="267.16" r="0.35" fill="#888"/>
<circle cx="356.76" cy="269.48" r="0.35" fill="#999"/>
<circle cx="347.94" cy="255.96" r="0.35" fill="#888"/>
<circle cx="356.63" cy="274.66" r="0.35" fill="#888"/>
<circle cx="344.77" cy="271.94" r="0.35" fill="#999"/>
<circle cx="357.76" cy="257.73" r="0.35" fill="#777"/>
<circle cx="360.03" cy="272.76" r="0.35" fill="#888"/>
<circle cx="350.67" cy="261.54" r="0.35" fill="#888"/>
<circle cx="352.46" cy="265.94" r="0.35" fill="#777"/>
<circle cx="348.27" cy="263.02" r="0.35" fill="#888"/>
<circle cx="354.46" cy="288.24" r="0.35" fill="#777"/>
<circle cx="350.53" cy="258.21" r="0.35" fill="#888"/>
<circle cx="353.12" cy="257.12" r="0.35" fill="#888"/>
<circle cx="356.12" cy="266.05" r="0.35" fill="#888"/>
<circle cx="349.95" cy="270.02" r="0.35" fill="#999"/>
<circle cx="355.19" cy="255.1" r="0.35" fill="#999"/>
<circle cx="357.71" cy="261.85" r="0.35" fill="#999"/>
<circle cx="349.19" cy="271.96" r="0.35" fill="#999"/>
<circle cx="361.76" cy="261.25" r="0.35" fill="#999"/>
<circle cx="350.09" cy="267.67" r="0.35" fill="#999"/>
<circle cx="355.91" cy="265.92" r="0.35" fill="#777"/>
<circle cx="362.84" cy="260.01" r="0.35" fill="#777"/>
<circle cx="354.29" cy="267.86" r="0.35" fill="#777"/>
<circle cx="357.25" cy="265.23" r="0.35" fill="#777"/>
<circle cx="350.43" cy="257.34" r="0.35" fill="#777"/>
<circle cx="345.5" cy="259.28" r="0.35" fill="#777"/>
<circle cx="347.94" cy="262.72" r="0.35" fill="#777"/>
<circle cx="362.9" cy="272.28" r="0.35" fill="#999"/>
<circle cx="352.49" cy="261.54" r="0.35" fill="#888"/>
<circle cx="349.01" cy="274.33" r="0.35" fill="#777"/>
<circle cx="350.32" cy="270.77" r="0.35" fill="#777"/>
<circle cx="353.3" cy="270.1" r="0.35" fill="#777"/>
<circle cx="351.66" cy="271.17" r="0.35" fill="#999"/>
<circle cx="351.91" cy="257.67" r="0.35" fill="#888"/>
<circle cx="352.79" cy="254.29" r="0.35" fill="#777"/>
<circle cx="356.25" cy="254.36" r="0.35" fill="#888"/>
<circle cx="349.9" cy="275.85" r="0.35" fill="#888"/>
<circle cx="356.95" cy="256.21" r="0.35" fill="#999"/>
<circle cx="352.75" cy="267.07" r="0.35" fill="#777"/>
<circle cx="353.22" cy="276.9" r="0.35" fill="#999"/>
<circle cx="352.9" cy="258.98" r="0.35" fill="#888"/>
<circle cx="355.41" cy="257.54" r="0.35" fill="#888"/>
<circle cx="352.02" cy="264.95" r="0.35" fill="#777"/>
<circle cx="355.11" cy="267.47" r="0.35" fill="#777"/>
<circle cx="354.53" cy="270.45" r="0.35" fill="#999"/>
<circle cx="356.72" cy="273.25" r="0.35" fill="#888"/>
<circle cx="355.51" cy="263.68" r="0.35" fill="#777"/>
<circle cx="352.93" cy="265.5" r="0.35" fill="#777"/>
<circle cx="355.09" cy="265.9" r="0.35" fill="#777"/>
<circle cx="359.86" cy="267.47" r="0.35" fill="#999"/>
<circle cx="346.29" cy="259.29" r="0.35" fill="#777"/>
<circle cx="355.23" cy="267.28" r="0.35" fill="#777"/>
<circle cx="358.42" cy="255.55" r="0.35" fill="#777"/>
<circle cx="354.36" cy="260.86" r="0.35" fill="#777"/>
<circle cx="351.71" cy="264.2" r="0.35" fill="#777"/>
<circle cx="359.35" cy="263.29" r="0.35" fill="#888"/>
<circle cx="354.35" cy="278.22" r="0.35" fill="#888"/>
<circle cx="355.93" cy="265.27" r="0.35" fill="#888"/>
<circle cx="355.2" cy="247.29" r="0.35" fill="#777"/>
<circle cx="356.59" cy="262.67" r="0.35" fill="#777"/>
<circle cx="349.4" cy="256.63" r="0.35" fill="#999"/>
<circle cx="350.88" cy="262.15" r="0.35" fill="#999"/>
<circle cx="351.4" cy="266.83" r="0.35" fill="#777"/>
<circle cx="350.22" cy="263.09" r="0.35" fill="#999"/>
<circle cx="354.55" cy="265.03" r="0.35" fill="#888"/>
<circle cx="350.73" cy="271.29" r="0.35" fill="#888"/>
<circle cx="357.8" cy="264.58" r="0.35" fill="#777"/>
<circle cx="357.09" cy="265.68" r="0.35" fill="#777"/>
<circle cx="352.92" cy="263.05" r="0.35" fill="#888"/>
<circle cx="351.68" cy="276.07" r="0.35" fill="#888"/>
<circle cx="356" cy="261.72" r="0.35" fill="#999"/>
<circle cx="355.56" cy="263.97" r="0.35" fill="#888"/>
<circle cx="353.98" cy="261.72" r="0.35" fill="#777"/>
<circle cx="349.53" cy="267.59" r="0.35" fill="#777"/>
<circle cx="353.73" cy="284.06" r="0.35" fill="#777"/>
<g transform="rotate(-6 353.1 263.1)">
<ellipse cx="353.1" cy="263.1" rx="6.6" ry="16.9" fill="#c4c4c4" opacity="0.5" stroke="#555" stroke-width="0.5"/>
<ellipse cx="353.4" cy="264.28" rx="5.68" ry="14.53" fill="none" stroke="#444" stroke-width="0.55" opacity="0.8"/>
<ellipse cx="353.4" cy="265.47" rx="4.88" ry="12.17" fill="none" stroke="#333" stroke-width="0.55" opacity="0.85"/>
<ellipse cx="353.4" cy="265.5" rx="5.81" ry="11.15" fill="#3a3a3a" opacity="0.7"/>
<ellipse cx="353.4" cy="266" rx="4.62" ry="8.79" fill="#1a1a1a" opacity="0.85"/>
<ellipse cx="354.1" cy="266.5" rx="0.7" ry="3.2" fill="#ddd" opacity="0.9"/>
<ellipse cx="351.2" cy="265.5" rx="0.5" ry="4" fill="#666" opacity="0.8"/>
<ellipse cx="353.1" cy="249.8" rx="4.95" ry="3" fill="none" stroke="#555" stroke-width="0.5"/>
<ellipse cx="353.1" cy="249.8" rx="2.97" ry="1.8" fill="none" stroke="#777" stroke-width="0.45"/>
</g>
</g></g>
<line x1="359.8" y1="235.4" x2="359.8" y2="288.6" stroke="#555" stroke-width="0.9"/>
<line x1="339.1" y1="255.3" x2="393.1" y2="255.3" stroke="#555" stroke-width="0.9"/>
<rect x="339.1" y="235.4" width="54" height="53.2" fill="none" stroke="#1e1e1e" stroke-width="0.9"/>
<line x1="337.3" y1="287.6" x2="339.1" y2="287.6" stroke="#231f20" stroke-width="0.6"/>
<line x1="337.3" y1="286.4" x2="339.1" y2="286.4" stroke="#231f20" stroke-width="0.6"/>
<line x1="337.3" y1="285.2" x2="339.1" y2="285.2" stroke="#231f20" stroke-width="0.6"/>
<line x1="337.3" y1="284" x2="339.1" y2="284" stroke="#231f20" stroke-width="0.6"/>
<line x1="337.3" y1="282.8" x2="339.1" y2="282.8" stroke="#231f20" stroke-width="0.6"/>
<line x1="337.3" y1="281.6" x2="339.1" y2="281.6" stroke="#231f20" stroke-width="0.6"/>
<line x1="337.3" y1="280.1" x2="339.1" y2="280.1" stroke="#231f20" stroke-width="0.6"/>
<line x1="337.3" y1="278.6" x2="339.1" y2="278.6" stroke="#231f20" stroke-width="0.6"/>
<line x1="337.3" y1="274.6" x2="339.1" y2="274.6" stroke="#231f20" stroke-width="0.6"/>
<line x1="337.3" y1="270.6" x2="339.1" y2="270.6" stroke="#231f20" stroke-width="0.6"/>
<line x1="337.3" y1="267.6" x2="339.1" y2="267.6" stroke="#231f20" stroke-width="0.6"/>
<line x1="337.3" y1="264.6" x2="339.1" y2="264.6" stroke="#231f20" stroke-width="0.6"/>
<line x1="337.3" y1="260.6" x2="339.1" y2="260.6" stroke="#231f20" stroke-width="0.6"/>
<line x1="337.3" y1="256.6" x2="339.1" y2="256.6" stroke="#231f20" stroke-width="0.6"/>
<line x1="337.3" y1="253.6" x2="339.1" y2="253.6" stroke="#231f20" stroke-width="0.6"/>
<line x1="337.3" y1="250.6" x2="339.1" y2="250.6" stroke="#231f20" stroke-width="0.6"/>
<line x1="337.3" y1="246.6" x2="339.1" y2="246.6" stroke="#231f20" stroke-width="0.6"/>
<line x1="337.3" y1="242.6" x2="339.1" y2="242.6" stroke="#231f20" stroke-width="0.6"/>
<line x1="337.3" y1="239.6" x2="339.1" y2="239.6" stroke="#231f20" stroke-width="0.6"/>
<line x1="341.56" y1="288.6" x2="341.56" y2="290.1" stroke="#231f20" stroke-width="0.6"/>
<line x1="345.92" y1="288.6" x2="345.92" y2="290.1" stroke="#231f20" stroke-width="0.6"/>
<line x1="349.4" y1="288.6" x2="349.4" y2="290.1" stroke="#231f20" stroke-width="0.6"/>
<line x1="353.22" y1="288.6" x2="353.22" y2="290.1" stroke="#231f20" stroke-width="0.6"/>
<line x1="358.21" y1="288.6" x2="358.21" y2="290.1" stroke="#231f20" stroke-width="0.6"/>
<line x1="361.78" y1="288.6" x2="361.78" y2="290.1" stroke="#231f20" stroke-width="0.6"/>
<line x1="365.64" y1="288.6" x2="365.64" y2="290.1" stroke="#231f20" stroke-width="0.6"/>
<line x1="369.18" y1="288.6" x2="369.18" y2="290.1" stroke="#231f20" stroke-width="0.6"/>
<line x1="373.81" y1="288.6" x2="373.81" y2="290.1" stroke="#231f20" stroke-width="0.6"/>
<line x1="378.17" y1="288.6" x2="378.17" y2="290.1" stroke="#231f20" stroke-width="0.6"/>
<line x1="381.25" y1="288.6" x2="381.25" y2="290.1" stroke="#231f20" stroke-width="0.6"/>
<line x1="385.18" y1="288.6" x2="385.18" y2="290.1" stroke="#231f20" stroke-width="0.6"/>
<line x1="389.62" y1="288.6" x2="389.62" y2="290.1" stroke="#231f20" stroke-width="0.6"/>
<text x="365.8" y="233.2" font-size="9" text-anchor="middle" textLength="20.8" lengthAdjust="spacingAndGlyphs">e20.1</text>
<text x="341.7" y="242" font-size="6.8" textLength="12.6" lengthAdjust="spacingAndGlyphs">13.3</text>
<g><clipPath id="fc4"><rect x="399.3" y="235.4" width="54" height="53.2"/></clipPath>
<g clip-path="url(#fc4)">
<circle cx="411.17" cy="249.21" r="0.35" fill="#9a9a9a"/>
<circle cx="409.56" cy="251.99" r="0.35" fill="#9a9a9a"/>
<circle cx="405.06" cy="250.35" r="0.35" fill="#9a9a9a"/>
<circle cx="415.58" cy="243.87" r="0.35" fill="#bbb"/>
<circle cx="415.06" cy="246.46" r="0.35" fill="#bbb"/>
<circle cx="403.31" cy="244.82" r="0.35" fill="#c4c4c4"/>
<circle cx="417.61" cy="247.25" r="0.35" fill="#9a9a9a"/>
<circle cx="416.55" cy="247.19" r="0.35" fill="#aaa"/>
<circle cx="416.98" cy="249" r="0.35" fill="#aaa"/>
<circle cx="409.59" cy="244.43" r="0.35" fill="#c4c4c4"/>
<circle cx="408.3" cy="244.21" r="0.35" fill="#aaa"/>
<circle cx="413.52" cy="246.51" r="0.35" fill="#bbb"/>
<circle cx="411.94" cy="252.17" r="0.35" fill="#bbb"/>
<circle cx="417.12" cy="248.32" r="0.35" fill="#c4c4c4"/>
<circle cx="404.39" cy="251.93" r="0.35" fill="#aaa"/>
<circle cx="410.51" cy="249.8" r="0.35" fill="#aaa"/>
<circle cx="415.35" cy="246.69" r="0.35" fill="#aaa"/>
<circle cx="406" cy="244.53" r="0.35" fill="#9a9a9a"/>
<circle cx="406.39" cy="247.09" r="0.35" fill="#aaa"/>
<circle cx="416.31" cy="244.45" r="0.35" fill="#c4c4c4"/>
<circle cx="413.14" cy="250.27" r="0.35" fill="#c4c4c4"/>
<circle cx="411.98" cy="247.9" r="0.35" fill="#c4c4c4"/>
<circle cx="424.44" cy="248.19" r="0.35" fill="#bbb"/>
<circle cx="404.85" cy="250.6" r="0.35" fill="#c4c4c4"/>
<circle cx="416.89" cy="246.22" r="0.35" fill="#aaa"/>
<circle cx="410.48" cy="249.64" r="0.35" fill="#c4c4c4"/>
<circle cx="401.04" cy="246.56" r="0.35" fill="#bbb"/>
<circle cx="411.51" cy="245.46" r="0.35" fill="#c4c4c4"/>
<circle cx="408.17" cy="249.16" r="0.35" fill="#bbb"/>
<circle cx="406.32" cy="245.8" r="0.35" fill="#9a9a9a"/>
<circle cx="405.55" cy="246.41" r="0.35" fill="#c4c4c4"/>
<circle cx="425.67" cy="248.02" r="0.35" fill="#bbb"/>
<circle cx="414.74" cy="250.48" r="0.35" fill="#aaa"/>
<circle cx="408.56" cy="249.73" r="0.35" fill="#aaa"/>
<circle cx="417.14" cy="247.69" r="0.35" fill="#bbb"/>
<circle cx="415.73" cy="243.78" r="0.35" fill="#aaa"/>
<circle cx="422.97" cy="251.28" r="0.35" fill="#c4c4c4"/>
<circle cx="415.89" cy="247.11" r="0.35" fill="#bbb"/>
<circle cx="407.53" cy="244.75" r="0.35" fill="#aaa"/>
<circle cx="410.71" cy="243.93" r="0.35" fill="#aaa"/>
<circle cx="406.91" cy="246.32" r="0.35" fill="#aaa"/>
<circle cx="416.39" cy="245.09" r="0.35" fill="#bbb"/>
<circle cx="408.22" cy="247.88" r="0.35" fill="#9a9a9a"/>
<circle cx="416.75" cy="246.9" r="0.35" fill="#bbb"/>
<circle cx="408.51" cy="252.08" r="0.35" fill="#c4c4c4"/>
<circle cx="407.76" cy="243.5" r="0.35" fill="#bbb"/>
<circle cx="415.32" cy="244.4" r="0.35" fill="#bbb"/>
<circle cx="407.77" cy="248.9" r="0.35" fill="#aaa"/>
<circle cx="419.1" cy="245.22" r="0.35" fill="#aaa"/>
<circle cx="410.9" cy="250.93" r="0.35" fill="#aaa"/>
<circle cx="415.44" cy="245.45" r="0.35" fill="#bbb"/>
<circle cx="417.08" cy="247.94" r="0.35" fill="#9a9a9a"/>
<circle cx="416.84" cy="247.89" r="0.35" fill="#9a9a9a"/>
<circle cx="412.37" cy="252.14" r="0.35" fill="#bbb"/>
<circle cx="417.81" cy="243.54" r="0.35" fill="#aaa"/>
<circle cx="423.93" cy="245.52" r="0.35" fill="#c4c4c4"/>
<circle cx="422.64" cy="245.54" r="0.35" fill="#aaa"/>
<circle cx="410.8" cy="250.41" r="0.35" fill="#bbb"/>
<circle cx="412.97" cy="245.77" r="0.35" fill="#c4c4c4"/>
<circle cx="411.01" cy="249.24" r="0.35" fill="#c4c4c4"/>
<circle cx="412.08" cy="245.4" r="0.35" fill="#aaa"/>
<circle cx="413.74" cy="248.23" r="0.35" fill="#c4c4c4"/>
<circle cx="401.49" cy="244.81" r="0.35" fill="#9a9a9a"/>
<circle cx="421.09" cy="249.98" r="0.35" fill="#9a9a9a"/>
<circle cx="410.68" cy="246.13" r="0.35" fill="#aaa"/>
<circle cx="411.18" cy="251.36" r="0.35" fill="#aaa"/>
<circle cx="409.97" cy="246.65" r="0.35" fill="#c4c4c4"/>
<circle cx="406.77" cy="251.49" r="0.35" fill="#bbb"/>
<circle cx="415.14" cy="247.94" r="0.35" fill="#aaa"/>
<circle cx="417.35" cy="244.4" r="0.35" fill="#bbb"/>
<circle cx="415.87" cy="250.98" r="0.35" fill="#aaa"/>
<circle cx="412.9" cy="250.86" r="0.35" fill="#bbb"/>
<circle cx="417.25" cy="245.9" r="0.35" fill="#9a9a9a"/>
<circle cx="405.46" cy="250.82" r="0.35" fill="#bbb"/>
<circle cx="406" cy="249.18" r="0.35" fill="#bbb"/>
<circle cx="423.91" cy="252.81" r="0.35" fill="#bbb"/>
<circle cx="423.46" cy="242.61" r="0.35" fill="#bbb"/>
<circle cx="421.73" cy="257.27" r="0.35" fill="#bbb"/>
<circle cx="425.52" cy="239.47" r="0.35" fill="#bbb"/>
<circle cx="440.27" cy="243.33" r="0.35" fill="#bbb"/>
<circle cx="431.4" cy="246.58" r="0.35" fill="#bbb"/>
<circle cx="426.21" cy="242.83" r="0.35" fill="#bbb"/>
<circle cx="434.69" cy="242.68" r="0.35" fill="#bbb"/>
<circle cx="438.72" cy="255.62" r="0.35" fill="#bbb"/>
<circle cx="422.41" cy="246.9" r="0.35" fill="#bbb"/>
<circle cx="438.16" cy="245.78" r="0.35" fill="#bbb"/>
<circle cx="428.93" cy="240.24" r="0.35" fill="#bbb"/>
<circle cx="431.67" cy="255.34" r="0.35" fill="#bbb"/>
<circle cx="431.59" cy="240.74" r="0.35" fill="#bbb"/>
<circle cx="424.62" cy="243.11" r="0.35" fill="#bbb"/>
<circle cx="436.71" cy="249.39" r="0.35" fill="#bbb"/>
<circle cx="434.64" cy="254.73" r="0.35" fill="#bbb"/>
<circle cx="433.81" cy="256.71" r="0.35" fill="#bbb"/>
<circle cx="426.82" cy="250.03" r="0.35" fill="#bbb"/>
<circle cx="434.91" cy="253.98" r="0.35" fill="#bbb"/>
<circle cx="423.41" cy="244.85" r="0.35" fill="#bbb"/>
<circle cx="427.02" cy="243.4" r="0.35" fill="#bbb"/>
<circle cx="433.96" cy="280.01" r="0.35" fill="#c8c8c8"/>
<circle cx="433.52" cy="281.22" r="0.35" fill="#c8c8c8"/>
<circle cx="430.03" cy="278.84" r="0.35" fill="#c8c8c8"/>
<circle cx="425.46" cy="262.62" r="0.35" fill="#c8c8c8"/>
<circle cx="432.39" cy="272.28" r="0.35" fill="#c8c8c8"/>
<circle cx="428.45" cy="263.62" r="0.35" fill="#c8c8c8"/>
<circle cx="422.07" cy="283.9" r="0.35" fill="#c8c8c8"/>
<circle cx="422.35" cy="275.73" r="0.35" fill="#c8c8c8"/>
<circle cx="410.6" cy="258.61" r="0.35" fill="#999"/>
<circle cx="414.54" cy="259.04" r="0.35" fill="#777"/>
<circle cx="417.68" cy="278.94" r="0.35" fill="#999"/>
<circle cx="419.51" cy="266.99" r="0.35" fill="#777"/>
<circle cx="409.03" cy="270.95" r="0.35" fill="#999"/>
<circle cx="412.53" cy="267.05" r="0.35" fill="#777"/>
<circle cx="416.99" cy="281.88" r="0.35" fill="#888"/>
<circle cx="413.48" cy="262.76" r="0.35" fill="#888"/>
<circle cx="416.09" cy="266.61" r="0.35" fill="#999"/>
<circle cx="414.69" cy="262.8" r="0.35" fill="#999"/>
<circle cx="414.18" cy="271.65" r="0.35" fill="#999"/>
<circle cx="420.52" cy="256.21" r="0.35" fill="#888"/>
<circle cx="407.78" cy="252.42" r="0.35" fill="#999"/>
<circle cx="420.38" cy="258.79" r="0.35" fill="#999"/>
<circle cx="414.25" cy="272.1" r="0.35" fill="#999"/>
<circle cx="410.53" cy="261.77" r="0.35" fill="#777"/>
<circle cx="411.81" cy="272.18" r="0.35" fill="#888"/>
<circle cx="415.73" cy="256.67" r="0.35" fill="#777"/>
<circle cx="417.1" cy="263.23" r="0.35" fill="#888"/>
<circle cx="414.7" cy="250.13" r="0.35" fill="#777"/>
<circle cx="416.82" cy="270.47" r="0.35" fill="#777"/>
<circle cx="415.28" cy="270.93" r="0.35" fill="#888"/>
<circle cx="411.89" cy="267.14" r="0.35" fill="#888"/>
<circle cx="420.44" cy="267.6" r="0.35" fill="#999"/>
<circle cx="416.43" cy="253.23" r="0.35" fill="#888"/>
<circle cx="415.68" cy="272.57" r="0.35" fill="#999"/>
<circle cx="421.55" cy="255.51" r="0.35" fill="#777"/>
<circle cx="412.98" cy="264.63" r="0.35" fill="#777"/>
<circle cx="410.97" cy="267.04" r="0.35" fill="#777"/>
<circle cx="413.46" cy="260.33" r="0.35" fill="#999"/>
<circle cx="415.47" cy="262.03" r="0.35" fill="#888"/>
<circle cx="413.91" cy="268.69" r="0.35" fill="#888"/>
<circle cx="411.74" cy="272.77" r="0.35" fill="#777"/>
<circle cx="412.46" cy="278.78" r="0.35" fill="#888"/>
<circle cx="414.74" cy="280.56" r="0.35" fill="#999"/>
<circle cx="410.81" cy="261.98" r="0.35" fill="#777"/>
<circle cx="414.28" cy="260.66" r="0.35" fill="#999"/>
<circle cx="418.74" cy="254.58" r="0.35" fill="#999"/>
<circle cx="411.44" cy="268.93" r="0.35" fill="#999"/>
<circle cx="414.08" cy="256.92" r="0.35" fill="#777"/>
<circle cx="416.05" cy="269.48" r="0.35" fill="#777"/>
<circle cx="412.91" cy="275.93" r="0.35" fill="#888"/>
<circle cx="413.45" cy="268.32" r="0.35" fill="#777"/>
<circle cx="413.77" cy="250.11" r="0.35" fill="#777"/>
<circle cx="410.78" cy="266.92" r="0.35" fill="#888"/>
<circle cx="412.54" cy="257.96" r="0.35" fill="#777"/>
<circle cx="422.59" cy="267.3" r="0.35" fill="#777"/>
<circle cx="408.28" cy="271.16" r="0.35" fill="#999"/>
<circle cx="411.13" cy="261.08" r="0.35" fill="#777"/>
<circle cx="420.66" cy="246.28" r="0.35" fill="#999"/>
<circle cx="414.55" cy="259.6" r="0.35" fill="#999"/>
<circle cx="416.36" cy="271.92" r="0.35" fill="#777"/>
<circle cx="413.68" cy="265.72" r="0.35" fill="#999"/>
<circle cx="416.48" cy="271.13" r="0.35" fill="#888"/>
<circle cx="409.72" cy="261.24" r="0.35" fill="#777"/>
<circle cx="418.97" cy="269.22" r="0.35" fill="#777"/>
<circle cx="415.64" cy="270.54" r="0.35" fill="#888"/>
<circle cx="414.88" cy="268.78" r="0.35" fill="#888"/>
<circle cx="414.93" cy="265.49" r="0.35" fill="#888"/>
<circle cx="415.32" cy="271.29" r="0.35" fill="#999"/>
<circle cx="410.09" cy="272.34" r="0.35" fill="#777"/>
<circle cx="419.1" cy="274.2" r="0.35" fill="#888"/>
<circle cx="413" cy="252.06" r="0.35" fill="#777"/>
<circle cx="415.13" cy="267.48" r="0.35" fill="#888"/>
<circle cx="408.3" cy="275.18" r="0.35" fill="#888"/>
<circle cx="415.47" cy="273.64" r="0.35" fill="#999"/>
<circle cx="418.71" cy="262.24" r="0.35" fill="#888"/>
<circle cx="412.92" cy="255.76" r="0.35" fill="#999"/>
<circle cx="416.75" cy="257.33" r="0.35" fill="#777"/>
<circle cx="418.33" cy="249.87" r="0.35" fill="#888"/>
<circle cx="415.16" cy="267.84" r="0.35" fill="#777"/>
<circle cx="410.64" cy="267.89" r="0.35" fill="#777"/>
<circle cx="418.9" cy="265.06" r="0.35" fill="#777"/>
<circle cx="417.72" cy="269.08" r="0.35" fill="#888"/>
<circle cx="415.44" cy="265.17" r="0.35" fill="#999"/>
<circle cx="412.94" cy="265.7" r="0.35" fill="#777"/>
<circle cx="413.15" cy="266.15" r="0.35" fill="#888"/>
<circle cx="410.54" cy="269.97" r="0.35" fill="#777"/>
<circle cx="416.99" cy="271.65" r="0.35" fill="#777"/>
<circle cx="414.51" cy="263.93" r="0.35" fill="#888"/>
<circle cx="414.14" cy="255.74" r="0.35" fill="#777"/>
<circle cx="413.99" cy="268.97" r="0.35" fill="#999"/>
<circle cx="415.78" cy="266.49" r="0.35" fill="#888"/>
<circle cx="413.45" cy="274.88" r="0.35" fill="#777"/>
<circle cx="418.97" cy="274.04" r="0.35" fill="#777"/>
<circle cx="417.73" cy="265.16" r="0.35" fill="#999"/>
<circle cx="419.44" cy="259.04" r="0.35" fill="#999"/>
<circle cx="411.77" cy="271.19" r="0.35" fill="#888"/>
<circle cx="416.23" cy="262.87" r="0.35" fill="#888"/>
<circle cx="412.18" cy="285.43" r="0.35" fill="#888"/>
<circle cx="420.89" cy="276.79" r="0.35" fill="#888"/>
<circle cx="417.8" cy="263.96" r="0.35" fill="#999"/>
<circle cx="414.13" cy="257.69" r="0.35" fill="#999"/>
<circle cx="414.99" cy="258.83" r="0.35" fill="#777"/>
<circle cx="410.73" cy="259.3" r="0.35" fill="#888"/>
<circle cx="416.49" cy="261.48" r="0.35" fill="#888"/>
<circle cx="411.36" cy="272.42" r="0.35" fill="#888"/>
<circle cx="417.23" cy="273.35" r="0.35" fill="#888"/>
<circle cx="416.49" cy="270.53" r="0.35" fill="#777"/>
<circle cx="415.34" cy="266.38" r="0.35" fill="#777"/>
<circle cx="418.46" cy="267.2" r="0.35" fill="#888"/>
<circle cx="417.96" cy="260.73" r="0.35" fill="#777"/>
<circle cx="419.72" cy="274.04" r="0.35" fill="#888"/>
<circle cx="413.21" cy="277.49" r="0.35" fill="#777"/>
<circle cx="416.09" cy="258.22" r="0.35" fill="#888"/>
<circle cx="415.57" cy="266.35" r="0.35" fill="#999"/>
<circle cx="415.14" cy="268.63" r="0.35" fill="#777"/>
<circle cx="410.58" cy="261.77" r="0.35" fill="#777"/>
<circle cx="418.96" cy="276.71" r="0.35" fill="#888"/>
<circle cx="410.75" cy="269.23" r="0.35" fill="#888"/>
<circle cx="415.45" cy="263.23" r="0.35" fill="#999"/>
<circle cx="419.05" cy="263.86" r="0.35" fill="#999"/>
<circle cx="411.1" cy="271.29" r="0.35" fill="#777"/>
<circle cx="415.89" cy="267.08" r="0.35" fill="#999"/>
<circle cx="416.3" cy="280.39" r="0.35" fill="#888"/>
<circle cx="413.68" cy="259.35" r="0.35" fill="#999"/>
<circle cx="412.38" cy="267.88" r="0.35" fill="#999"/>
<circle cx="412.97" cy="274.44" r="0.35" fill="#999"/>
<circle cx="414.01" cy="262.68" r="0.35" fill="#999"/>
<circle cx="412.48" cy="265.51" r="0.35" fill="#777"/>
<circle cx="412.32" cy="279.3" r="0.35" fill="#888"/>
<circle cx="414.28" cy="257.68" r="0.35" fill="#888"/>
<circle cx="418.35" cy="260.35" r="0.35" fill="#999"/>
<circle cx="421.94" cy="263.32" r="0.35" fill="#888"/>
<circle cx="417.32" cy="263.18" r="0.35" fill="#999"/>
<circle cx="415.48" cy="261.23" r="0.35" fill="#999"/>
<circle cx="411.24" cy="253.58" r="0.35" fill="#999"/>
<circle cx="417.48" cy="265.95" r="0.35" fill="#999"/>
<circle cx="416.07" cy="270.93" r="0.35" fill="#999"/>
<circle cx="417.96" cy="261.86" r="0.35" fill="#777"/>
<circle cx="414.56" cy="261.82" r="0.35" fill="#999"/>
<circle cx="415.58" cy="260.46" r="0.35" fill="#999"/>
<circle cx="411.88" cy="255.41" r="0.35" fill="#777"/>
<circle cx="421.61" cy="252.99" r="0.35" fill="#888"/>
<circle cx="412.17" cy="270.72" r="0.35" fill="#888"/>
<circle cx="412.74" cy="256.37" r="0.35" fill="#999"/>
<circle cx="413.8" cy="276.89" r="0.35" fill="#888"/>
<circle cx="412.75" cy="264.85" r="0.35" fill="#777"/>
<circle cx="420.57" cy="262.29" r="0.35" fill="#999"/>
<circle cx="408.64" cy="268.66" r="0.35" fill="#777"/>
<circle cx="414.35" cy="262.42" r="0.35" fill="#999"/>
<circle cx="420.78" cy="259.6" r="0.35" fill="#888"/>
<circle cx="417.8" cy="259.73" r="0.35" fill="#888"/>
<circle cx="413.67" cy="272.5" r="0.35" fill="#777"/>
<circle cx="417.7" cy="255.4" r="0.35" fill="#777"/>
<circle cx="420.91" cy="274.35" r="0.35" fill="#999"/>
<circle cx="415.62" cy="272.46" r="0.35" fill="#777"/>
<circle cx="413.05" cy="264.66" r="0.35" fill="#999"/>
<circle cx="415.97" cy="280.81" r="0.35" fill="#888"/>
<circle cx="417.62" cy="264.11" r="0.35" fill="#777"/>
<circle cx="414.53" cy="273.39" r="0.35" fill="#777"/>
<circle cx="417.14" cy="263.56" r="0.35" fill="#888"/>
<circle cx="421.55" cy="266.62" r="0.35" fill="#888"/>
<circle cx="415.24" cy="261.86" r="0.35" fill="#777"/>
<circle cx="412.86" cy="268.77" r="0.35" fill="#999"/>
<circle cx="419.18" cy="272.79" r="0.35" fill="#999"/>
<circle cx="414.17" cy="262.31" r="0.35" fill="#888"/>
<circle cx="412.87" cy="286.18" r="0.35" fill="#888"/>
<circle cx="414.14" cy="264.43" r="0.35" fill="#777"/>
<circle cx="415.31" cy="254.6" r="0.35" fill="#999"/>
<g>
<ellipse cx="414.9" cy="263.35" rx="6.1" ry="16.15" fill="#c4c4c4" opacity="0.5" stroke="#555" stroke-width="0.5"/>
<ellipse cx="415.2" cy="264.48" rx="5.25" ry="13.89" fill="none" stroke="#444" stroke-width="0.55" opacity="0.8"/>
<ellipse cx="415.2" cy="265.61" rx="4.51" ry="11.63" fill="none" stroke="#333" stroke-width="0.55" opacity="0.85"/>
<ellipse cx="414.8" cy="266" rx="5.37" ry="10.66" fill="#3a3a3a" opacity="0.7"/>
<ellipse cx="414.8" cy="266.5" rx="4.27" ry="8.4" fill="#1a1a1a" opacity="0.85"/>
<ellipse cx="415.5" cy="267" rx="0.7" ry="3.2" fill="#ddd" opacity="0.9"/>
<ellipse cx="412.6" cy="266" rx="0.5" ry="4" fill="#666" opacity="0.8"/>
<ellipse cx="414.9" cy="250.8" rx="4.57" ry="3" fill="none" stroke="#555" stroke-width="0.5"/>
<ellipse cx="414.9" cy="250.8" rx="2.74" ry="1.8" fill="none" stroke="#777" stroke-width="0.45"/>
</g>
</g></g>
<line x1="420.3" y1="235.4" x2="420.3" y2="288.6" stroke="#555" stroke-width="0.9"/>
<line x1="399.3" y1="255.3" x2="453.3" y2="255.3" stroke="#555" stroke-width="0.9"/>
<rect x="399.3" y="235.4" width="54" height="53.2" fill="none" stroke="#1e1e1e" stroke-width="0.9"/>
<line x1="397.5" y1="287.6" x2="399.3" y2="287.6" stroke="#231f20" stroke-width="0.6"/>
<line x1="397.5" y1="286.4" x2="399.3" y2="286.4" stroke="#231f20" stroke-width="0.6"/>
<line x1="397.5" y1="285.2" x2="399.3" y2="285.2" stroke="#231f20" stroke-width="0.6"/>
<line x1="397.5" y1="284" x2="399.3" y2="284" stroke="#231f20" stroke-width="0.6"/>
<line x1="397.5" y1="282.8" x2="399.3" y2="282.8" stroke="#231f20" stroke-width="0.6"/>
<line x1="397.5" y1="281.6" x2="399.3" y2="281.6" stroke="#231f20" stroke-width="0.6"/>
<line x1="397.5" y1="280.1" x2="399.3" y2="280.1" stroke="#231f20" stroke-width="0.6"/>
<line x1="397.5" y1="278.6" x2="399.3" y2="278.6" stroke="#231f20" stroke-width="0.6"/>
<line x1="397.5" y1="274.6" x2="399.3" y2="274.6" stroke="#231f20" stroke-width="0.6"/>
<line x1="397.5" y1="270.6" x2="399.3" y2="270.6" stroke="#231f20" stroke-width="0.6"/>
<line x1="397.5" y1="267.6" x2="399.3" y2="267.6" stroke="#231f20" stroke-width="0.6"/>
<line x1="397.5" y1="264.6" x2="399.3" y2="264.6" stroke="#231f20" stroke-width="0.6"/>
<line x1="397.5" y1="260.6" x2="399.3" y2="260.6" stroke="#231f20" stroke-width="0.6"/>
<line x1="397.5" y1="256.6" x2="399.3" y2="256.6" stroke="#231f20" stroke-width="0.6"/>
<line x1="397.5" y1="253.6" x2="399.3" y2="253.6" stroke="#231f20" stroke-width="0.6"/>
<line x1="397.5" y1="250.6" x2="399.3" y2="250.6" stroke="#231f20" stroke-width="0.6"/>
<line x1="397.5" y1="246.6" x2="399.3" y2="246.6" stroke="#231f20" stroke-width="0.6"/>
<line x1="397.5" y1="242.6" x2="399.3" y2="242.6" stroke="#231f20" stroke-width="0.6"/>
<line x1="397.5" y1="239.6" x2="399.3" y2="239.6" stroke="#231f20" stroke-width="0.6"/>
<line x1="402.15" y1="288.6" x2="402.15" y2="290.1" stroke="#231f20" stroke-width="0.6"/>
<line x1="406.27" y1="288.6" x2="406.27" y2="290.1" stroke="#231f20" stroke-width="0.6"/>
<line x1="410.13" y1="288.6" x2="410.13" y2="290.1" stroke="#231f20" stroke-width="0.6"/>
<line x1="413.96" y1="288.6" x2="413.96" y2="290.1" stroke="#231f20" stroke-width="0.6"/>
<line x1="418.28" y1="288.6" x2="418.28" y2="290.1" stroke="#231f20" stroke-width="0.6"/>
<line x1="421.49" y1="288.6" x2="421.49" y2="290.1" stroke="#231f20" stroke-width="0.6"/>
<line x1="425.95" y1="288.6" x2="425.95" y2="290.1" stroke="#231f20" stroke-width="0.6"/>
<line x1="429.62" y1="288.6" x2="429.62" y2="290.1" stroke="#231f20" stroke-width="0.6"/>
<line x1="433.78" y1="288.6" x2="433.78" y2="290.1" stroke="#231f20" stroke-width="0.6"/>
<line x1="437.53" y1="288.6" x2="437.53" y2="290.1" stroke="#231f20" stroke-width="0.6"/>
<line x1="442.15" y1="288.6" x2="442.15" y2="290.1" stroke="#231f20" stroke-width="0.6"/>
<line x1="445.99" y1="288.6" x2="445.99" y2="290.1" stroke="#231f20" stroke-width="0.6"/>
<line x1="450.24" y1="288.6" x2="450.24" y2="290.1" stroke="#231f20" stroke-width="0.6"/>
<text x="425.7" y="233.2" font-size="9" text-anchor="middle" textLength="20.8" lengthAdjust="spacingAndGlyphs">e21.1</text>
<text x="401.9" y="242" font-size="6.8" textLength="12.6" lengthAdjust="spacingAndGlyphs">18.4</text>
<line x1="329.8" y1="296.5" x2="329.8" y2="256" stroke="#231f20" stroke-width="1.1"/>
<path d="M327.3 257.5L329.8 251.8L332.3 257.5Z" stroke="none" stroke-width="0" fill="#231f20"/>
<line x1="329.8" y1="296.5" x2="369" y2="296.5" stroke="#231f20" stroke-width="1.1"/>
<path d="M368 294L374.3 296.5L368 299Z" stroke="none" stroke-width="0" fill="#231f20"/>
<text x="325.1" y="275.2" font-size="9.4" text-anchor="middle" textLength="39.4" lengthAdjust="spacingAndGlyphs" transform="rotate(-90 325.1 275.2)">Annexin V</text>
<text x="325" y="307.2" font-size="8.6" textLength="39.8" lengthAdjust="spacingAndGlyphs">Sytox blue</text>
<text x="7.6" y="334.2" font-size="10.5">E</text>
<text x="16.2" y="379" font-size="8.8" text-anchor="middle" textLength="22.5" lengthAdjust="spacingAndGlyphs" transform="rotate(-90 16.2 379)">Count</text>
<line x1="40.6" y1="330.5" x2="40.6" y2="427.6" stroke="#231f20" stroke-width="1.1"/>
<line x1="38" y1="427.6" x2="40.6" y2="427.6" stroke="#231f20" stroke-width="0.9"/>
<text x="34.7" y="430.1" font-size="7" text-anchor="end" textLength="3.5" lengthAdjust="spacingAndGlyphs">0</text>
<line x1="39.2" y1="422.05" x2="40.6" y2="422.05" stroke="#231f20" stroke-width="0.7"/>
<line x1="39.2" y1="416.5" x2="40.6" y2="416.5" stroke="#231f20" stroke-width="0.7"/>
<line x1="39.2" y1="410.95" x2="40.6" y2="410.95" stroke="#231f20" stroke-width="0.7"/>
<line x1="38" y1="405.4" x2="40.6" y2="405.4" stroke="#231f20" stroke-width="0.9"/>
<text x="34.7" y="407.9" font-size="7" text-anchor="end" textLength="12.2" lengthAdjust="spacingAndGlyphs">100</text>
<line x1="39.2" y1="399.85" x2="40.6" y2="399.85" stroke="#231f20" stroke-width="0.7"/>
<line x1="39.2" y1="394.3" x2="40.6" y2="394.3" stroke="#231f20" stroke-width="0.7"/>
<line x1="39.2" y1="388.75" x2="40.6" y2="388.75" stroke="#231f20" stroke-width="0.7"/>
<line x1="38" y1="383.2" x2="40.6" y2="383.2" stroke="#231f20" stroke-width="0.9"/>
<text x="34.7" y="385.7" font-size="7" text-anchor="end" textLength="12.2" lengthAdjust="spacingAndGlyphs">200</text>
<line x1="39.2" y1="377.65" x2="40.6" y2="377.65" stroke="#231f20" stroke-width="0.7"/>
<line x1="39.2" y1="372.1" x2="40.6" y2="372.1" stroke="#231f20" stroke-width="0.7"/>
<line x1="39.2" y1="366.55" x2="40.6" y2="366.55" stroke="#231f20" stroke-width="0.7"/>
<line x1="38" y1="361" x2="40.6" y2="361" stroke="#231f20" stroke-width="0.9"/>
<text x="34.7" y="363.5" font-size="7" text-anchor="end" textLength="12.2" lengthAdjust="spacingAndGlyphs">300</text>
<line x1="39.2" y1="355.45" x2="40.6" y2="355.45" stroke="#231f20" stroke-width="0.7"/>
<line x1="39.2" y1="349.9" x2="40.6" y2="349.9" stroke="#231f20" stroke-width="0.7"/>
<line x1="39.2" y1="344.35" x2="40.6" y2="344.35" stroke="#231f20" stroke-width="0.7"/>
<line x1="38" y1="338.8" x2="40.6" y2="338.8" stroke="#231f20" stroke-width="0.9"/>
<text x="34.7" y="341.3" font-size="7" text-anchor="end" textLength="12.2" lengthAdjust="spacingAndGlyphs">400</text>
<line x1="39.2" y1="333.25" x2="40.6" y2="333.25" stroke="#231f20" stroke-width="0.7"/>
<line x1="40.6" y1="427.6" x2="136.8" y2="427.6" stroke="#231f20" stroke-width="1.1"/>
<line x1="48.8" y1="427.6" x2="48.8" y2="429.8" stroke="#231f20" stroke-width="0.8"/>
<line x1="63.4" y1="427.6" x2="63.4" y2="429.8" stroke="#231f20" stroke-width="0.8"/>
<line x1="69.77" y1="427.6" x2="69.77" y2="428.9" stroke="#231f20" stroke-width="0.6"/>
<line x1="73.49" y1="427.6" x2="73.49" y2="428.9" stroke="#231f20" stroke-width="0.6"/>
<line x1="76.13" y1="427.6" x2="76.13" y2="428.9" stroke="#231f20" stroke-width="0.6"/>
<line x1="78.18" y1="427.6" x2="78.18" y2="428.9" stroke="#231f20" stroke-width="0.6"/>
<line x1="79.86" y1="427.6" x2="79.86" y2="428.9" stroke="#231f20" stroke-width="0.6"/>
<line x1="81.27" y1="427.6" x2="81.27" y2="428.9" stroke="#231f20" stroke-width="0.6"/>
<line x1="82.5" y1="427.6" x2="82.5" y2="428.9" stroke="#231f20" stroke-width="0.6"/>
<line x1="83.58" y1="427.6" x2="83.58" y2="428.9" stroke="#231f20" stroke-width="0.6"/>
<line x1="85.2" y1="427.6" x2="85.2" y2="429.8" stroke="#231f20" stroke-width="0.8"/>
<line x1="91.57" y1="427.6" x2="91.57" y2="428.9" stroke="#231f20" stroke-width="0.6"/>
<line x1="95.29" y1="427.6" x2="95.29" y2="428.9" stroke="#231f20" stroke-width="0.6"/>
<line x1="97.93" y1="427.6" x2="97.93" y2="428.9" stroke="#231f20" stroke-width="0.6"/>
<line x1="99.98" y1="427.6" x2="99.98" y2="428.9" stroke="#231f20" stroke-width="0.6"/>
<line x1="101.66" y1="427.6" x2="101.66" y2="428.9" stroke="#231f20" stroke-width="0.6"/>
<line x1="103.07" y1="427.6" x2="103.07" y2="428.9" stroke="#231f20" stroke-width="0.6"/>
<line x1="104.3" y1="427.6" x2="104.3" y2="428.9" stroke="#231f20" stroke-width="0.6"/>
<line x1="105.38" y1="427.6" x2="105.38" y2="428.9" stroke="#231f20" stroke-width="0.6"/>
<line x1="106.4" y1="427.6" x2="106.4" y2="429.8" stroke="#231f20" stroke-width="0.8"/>
<line x1="112.77" y1="427.6" x2="112.77" y2="428.9" stroke="#231f20" stroke-width="0.6"/>
<line x1="116.49" y1="427.6" x2="116.49" y2="428.9" stroke="#231f20" stroke-width="0.6"/>
<line x1="119.13" y1="427.6" x2="119.13" y2="428.9" stroke="#231f20" stroke-width="0.6"/>
<line x1="121.18" y1="427.6" x2="121.18" y2="428.9" stroke="#231f20" stroke-width="0.6"/>
<line x1="122.86" y1="427.6" x2="122.86" y2="428.9" stroke="#231f20" stroke-width="0.6"/>
<line x1="124.27" y1="427.6" x2="124.27" y2="428.9" stroke="#231f20" stroke-width="0.6"/>
<line x1="125.5" y1="427.6" x2="125.5" y2="428.9" stroke="#231f20" stroke-width="0.6"/>
<line x1="126.58" y1="427.6" x2="126.58" y2="428.9" stroke="#231f20" stroke-width="0.6"/>
<line x1="127.6" y1="427.6" x2="127.6" y2="429.8" stroke="#231f20" stroke-width="0.8"/>
<line x1="133.97" y1="427.6" x2="133.97" y2="428.9" stroke="#231f20" stroke-width="0.6"/>
<line x1="52" y1="427.6" x2="52" y2="428.9" stroke="#231f20" stroke-width="0.6"/>
<line x1="55" y1="427.6" x2="55" y2="428.9" stroke="#231f20" stroke-width="0.6"/>
<line x1="58" y1="427.6" x2="58" y2="428.9" stroke="#231f20" stroke-width="0.6"/>
<line x1="43" y1="427.6" x2="43" y2="428.9" stroke="#231f20" stroke-width="0.6"/>
<line x1="45.5" y1="427.6" x2="45.5" y2="428.9" stroke="#231f20" stroke-width="0.6"/>
<text x="48.8" y="441.1" font-size="7.2" text-anchor="middle">0</text>
<text x="64.7" y="441.1" font-size="7" text-anchor="end" textLength="6.8" lengthAdjust="spacingAndGlyphs">10</text>
<text x="64.9" y="437.5" font-size="5" textLength="2.8" lengthAdjust="spacingAndGlyphs">2</text>
<text x="86.5" y="441.1" font-size="7" text-anchor="end" textLength="6.8" lengthAdjust="spacingAndGlyphs">10</text>
<text x="86.7" y="437.5" font-size="5" textLength="2.8" lengthAdjust="spacingAndGlyphs">3</text>
<text x="107.7" y="441.1" font-size="7" text-anchor="end" textLength="6.8" lengthAdjust="spacingAndGlyphs">10</text>
<text x="107.9" y="437.5" font-size="5" textLength="2.8" lengthAdjust="spacingAndGlyphs">4</text>
<text x="128.9" y="441.1" font-size="7" text-anchor="end" textLength="6.8" lengthAdjust="spacingAndGlyphs">10</text>
<text x="129.1" y="437.5" font-size="5" textLength="2.8" lengthAdjust="spacingAndGlyphs">5</text>
<text x="88.4" y="452.6" font-size="8.8" text-anchor="middle" textLength="18.6" lengthAdjust="spacingAndGlyphs">Mac1</text>
<line x1="52.8" y1="355.8" x2="62.8" y2="355.8" stroke="#cc2a7c" stroke-width="1.3"/>
<text x="65.8" y="358.3" font-size="7.2" textLength="20.3" lengthAdjust="spacingAndGlyphs">Renilla</text>
<line x1="52.8" y1="366.9" x2="62.8" y2="366.9" stroke="#2f4c7c" stroke-width="1.3"/>
<text x="65.8" y="369.4" font-size="7.2" textLength="15.6" lengthAdjust="spacingAndGlyphs">e12.3</text>
<line x1="52.8" y1="378.2" x2="62.8" y2="378.2" stroke="#5ea843" stroke-width="1.3"/>
<text x="65.8" y="380.7" font-size="7.2" textLength="15.6" lengthAdjust="spacingAndGlyphs">e12.4</text>
<line x1="52.8" y1="389.6" x2="62.8" y2="389.6" stroke="#e8922c" stroke-width="1.3"/>
<text x="65.8" y="392.1" font-size="7.2" textLength="15.6" lengthAdjust="spacingAndGlyphs">e20.1</text>
<line x1="52.8" y1="401" x2="62.8" y2="401" stroke="#a31d3b" stroke-width="1.3"/>
<text x="65.8" y="403.5" font-size="7.2" textLength="15.6" lengthAdjust="spacingAndGlyphs">e21.1</text>
<path d="M40.2 427.6 L50.08 427.6 L64.47 427.6 L79.18 427.56 L90 427.3 L91.95 427.18 L93.56 427.03 L94.87 426.86 L95.9 426.67 L96.71 426.47 L97.33 426.26 L97.8 426.04 L98.15 425.81 L98.43 425.53 L98.67 425.37 L98.91 425.18 L99.18 424.88 L99.53 424.61 L100 424.5 L100.99 424.17 L101.84 423.87 L102.57 423.32 L103.22 422.96 L103.83 422.82 L104.41 422.44 L105 422.19 L105.8 421.58 L106.51 420.87 L107.17 420.25 L107.82 420.12 L108.5 418.95 L109.2 418.08 L109.89 417.14 L110.58 416.56 L111.28 415.76 L112 414.9 L112.77 414.32 L113.58 413.78 L114.38 413.36 L115.14 413.08 L115.8 412.57 L116.62 411.94 L117.27 413.24 L118 413.58 L118.69 415.16 L119.45 416.43 L120.23 418.47 L121 419.87 L121.75 421.41 L122.5 423.08 L123.25 423.96 L124 425.05 L124.59 425.81 L125.06 426.44 L125.76 426.93 L127 427.3 L127.52 427.38 L128.15 427.45 L128.86 427.5 L129.64 427.54 L130.46 427.57 L131.32 427.58 L132.19 427.59 L133.05 427.6 L133.88 427.6 L134.67 427.59 L135.39 427.59 L136.03 427.59 L136.58 427.59 L137 427.6" stroke="#a31d3b" stroke-width="1.25" fill="none" stroke-linejoin="round"/>
<path d="M40.2 427.6 L49.72 427.58 L63.6 427.56 L77.73 427.49 L88 427.3 L90.23 427.2 L91.92 427.1 L93.13 426.99 L93.97 426.87 L94.5 426.74 L94.81 426.59 L94.99 426.42 L95.11 426.23 L95.27 426.01 L95.53 425.77 L96 425.44 L96.88 425 L97.68 424.53 L98.41 423.88 L99.08 423.28 L99.73 422.56 L100.36 421.67 L101 421.08 L101.85 419.75 L102.63 419.13 L103.39 417.38 L104.16 416.13 L105 414 L105.77 412.3 L106.58 409.39 L107.42 407.51 L108.25 404.31 L109.05 402.35 L109.8 399.34 L110.62 395.86 L111.4 391.99 L112.14 389.49 L112.84 386.13 L113.5 383.9 L114.56 378.37 L115.52 375.06 L116.3 372.58 L116.95 372.01 L117.5 374.11 L118.43 378.21 L119.5 383.67 L120.25 388.33 L121.03 394.23 L121.8 400.32 L122.53 406.31 L123.25 411.5 L124 416.27 L124.81 420.06 L125.66 423.21 L126.5 425.51 L127.13 426.73 L127.76 427.1 L129 427.3 L129.55 427.38 L130.23 427.45 L131 427.5 L131.84 427.53 L132.72 427.55 L133.59 427.57 L134.45 427.58 L135.25 427.58 L135.96 427.58 L136.55 427.59 L137 427.6" stroke="#e8922c" stroke-width="1.25" fill="none" stroke-linejoin="round"/>
<path d="M40.2 427.6 L49.32 427.58 L62.6 427.56 L76.13 427.49 L86 427.3 L88.16 427.2 L89.8 427.11 L90.99 427 L91.82 426.89 L92.36 426.76 L92.7 426.62 L92.9 426.45 L93.06 426.26 L93.24 426.04 L93.53 425.79 L94 425.54 L94.88 425.05 L95.68 424.27 L96.42 423.49 L97.1 422.98 L97.75 422.02 L98.37 421.35 L99 420.64 L99.83 419.52 L100.59 419.57 L101.31 418.82 L102.03 417.54 L102.8 416.19 L103.48 414.33 L104.2 411.98 L104.92 409.96 L105.64 407.67 L106.34 405.38 L107 402.39 L107.77 398.27 L108.52 394.77 L109.23 389.23 L109.9 385.82 L110.5 382.11 L111.67 372.7 L112.6 365.02 L113.43 361.53 L114.2 359.93 L115.04 358.8 L115.9 359.05 L116.76 357.71 L117.6 359.8 L118.45 364.62 L119.2 369.91 L119.6 373.97 L120.1 382.24 L120.79 389.26 L121.64 395.67 L122.5 401.5 L123.31 408.39 L124.13 414.94 L125 420.42 L125.57 422.81 L126.09 424.76 L126.82 426.22 L128 427.3 L128.57 427.57 L129.26 427.6 L130.04 427.6 L130.89 427.6 L131.78 427.6 L132.69 427.6 L133.58 427.6 L134.44 427.6 L135.24 427.6 L135.95 427.6 L136.55 427.6 L137 427.6" stroke="#5ea843" stroke-width="1.25" fill="none" stroke-linejoin="round"/>
<path d="M40.2 427.6 L48.91 427.58 L61.6 427.56 L74.54 427.49 L84 427.3 L86.08 427.2 L87.67 427.09 L88.85 426.98 L89.67 426.85 L90.23 426.71 L90.58 426.55 L90.82 426.38 L91 426.19 L91.21 425.98 L91.52 425.75 L92 425.57 L92.88 425.05 L93.67 424.67 L94.4 423.94 L95.08 423.36 L95.72 422.86 L96.36 422.32 L97 421.59 L97.88 420.82 L98.71 419.93 L99.52 419.4 L100.31 418.23 L101.1 416.27 L101.91 413.56 L102.73 409.35 L103.53 405.55 L104.29 400.9 L105 396.82 L106.03 391.83 L106.94 387.2 L107.8 381.97 L108.67 374.13 L109.49 366.48 L110.2 359.25 L110.99 354.29 L111.6 349.8 L112.1 346.53 L112.6 344.74 L113.29 341.82 L114 340.09 L114.58 337.46 L115.1 337.2 L115.56 338.57 L116 341.07 L116.45 340.16 L117 343.28 L117.77 347.8 L118.7 355.11 L119.41 363.77 L120.2 371.83 L121 383.71 L121.84 391.65 L122.71 400.62 L123.5 407.92 L124.34 414.6 L125.3 419.98 L125.82 421.68 L126.35 423.65 L126.98 424.99 L127.77 426.36 L128.8 427.3 L129.4 427.59 L130.12 427.6 L130.92 427.6 L131.78 427.6 L132.67 427.6 L133.56 427.6 L134.42 427.6 L135.23 427.6 L135.94 427.6 L136.54 427.6 L137 427.6" stroke="#2f4c7c" stroke-width="1.25" fill="none" stroke-linejoin="round"/>
<path d="M40.2 427.6 L46.47 427.57 L55.6 427.54 L64.98 427.47 L72 427.3 L73.62 427.22 L74.91 427.14 L75.92 427.05 L76.69 426.96 L77.29 426.85 L77.75 426.73 L78.14 426.59 L78.51 426.44 L78.91 426.25 L79.39 426.04 L80 425.8 L80.77 425.45 L81.56 425.22 L82.35 424.88 L83.14 424.3 L83.92 423.83 L84.67 423.59 L85.4 423.13 L86.08 422.46 L86.72 422 L87.3 421.51 L88.28 420.4 L89.06 419.38 L89.73 418.63 L90.35 417.36 L91 416.52 L91.84 414.58 L92.66 413.2 L93.44 411.29 L94.2 409.45 L95.18 404.91 L96.11 399.83 L97 396.38 L97.85 392.1 L98.65 386.99 L99.4 382.53 L100.41 374.9 L101.3 367.6 L102.08 361.93 L102.8 355.79 L103.52 348.99 L104.2 343.07 L104.8 339.51 L105.4 338.3 L106.08 338.69 L106.8 339.24 L107.56 339.52 L108.3 338.6 L108.87 340.76 L109.5 344.67 L110.47 349.14 L111.5 354.92 L112.39 362.3 L113.2 367.62 L113.87 375.48 L114.6 381.99 L115.26 387.15 L116.01 391.85 L116.8 394.86 L117.6 400.6 L118.44 403.8 L119.3 407.47 L120.16 411.01 L121.05 414.47 L122 417.21 L122.8 419.03 L123.66 420.21 L124.51 421.88 L125.3 423.08 L125.98 424.93 L126.58 426.33 L127.9 427.3 L128.46 427.46 L129.15 427.57 L129.93 427.6 L130.79 427.6 L131.69 427.6 L132.61 427.6 L133.52 427.6 L134.4 427.6 L135.21 427.6 L135.93 427.6 L136.54 427.6 L137 427.6" stroke="#cc2a7c" stroke-width="1.25" fill="none" stroke-linejoin="round"/>
<line x1="40.6" y1="427.6" x2="136.8" y2="427.6" stroke="#7a1a2c" stroke-width="1.1"/>
<text x="160.3" y="388" font-size="8.8" text-anchor="middle" textLength="14.5" lengthAdjust="spacingAndGlyphs" transform="rotate(-90 160.3 388)">MFI</text>
<line x1="194.7" y1="348.2" x2="194.7" y2="428" stroke="#231f20" stroke-width="1.1"/>
<line x1="191.5" y1="352.25" x2="194.7" y2="352.25" stroke="#231f20" stroke-width="1"/>
<text x="189" y="354.95" font-size="7.6" text-anchor="end" textLength="20.7" lengthAdjust="spacingAndGlyphs">30000</text>
<line x1="191.5" y1="377.5" x2="194.7" y2="377.5" stroke="#231f20" stroke-width="1"/>
<text x="189" y="380.2" font-size="7.6" text-anchor="end" textLength="20.7" lengthAdjust="spacingAndGlyphs">20000</text>
<line x1="191.5" y1="402.75" x2="194.7" y2="402.75" stroke="#231f20" stroke-width="1"/>
<text x="189" y="405.45" font-size="7.6" text-anchor="end" textLength="20.7" lengthAdjust="spacingAndGlyphs">10000</text>
<line x1="191.5" y1="428" x2="194.7" y2="428" stroke="#231f20" stroke-width="1"/>
<text x="189" y="430.7" font-size="7.6" text-anchor="end" textLength="3.5" lengthAdjust="spacingAndGlyphs">0</text>
<line x1="194.7" y1="428" x2="285" y2="428" stroke="#231f20" stroke-width="1"/>
<line x1="206" y1="428" x2="206" y2="431.2" stroke="#231f20" stroke-width="1"/>
<rect x="200.25" y="399.47" width="11.5" height="28.53" fill="#fff" stroke="#231f20" stroke-width="1"/>
<line x1="223" y1="428" x2="223" y2="431.2" stroke="#231f20" stroke-width="1"/>
<rect x="217.25" y="371.57" width="11.5" height="56.43" fill="#fff" stroke="#231f20" stroke-width="1"/>
<line x1="239.7" y1="428" x2="239.7" y2="431.2" stroke="#231f20" stroke-width="1"/>
<rect x="233.95" y="371.57" width="11.5" height="56.43" fill="#fff" stroke="#231f20" stroke-width="1"/>
<line x1="256.7" y1="428" x2="256.7" y2="431.2" stroke="#231f20" stroke-width="1"/>
<rect x="250.95" y="369.55" width="11.5" height="58.45" fill="#fff" stroke="#231f20" stroke-width="1"/>
<line x1="273.6" y1="428" x2="273.6" y2="431.2" stroke="#231f20" stroke-width="1"/>
<rect x="267.85" y="373.33" width="11.5" height="54.67" fill="#fff" stroke="#231f20" stroke-width="1"/>
<line x1="206" y1="396.19" x2="206" y2="402.25" stroke="#231f20" stroke-width="0.9"/>
<line x1="203.4" y1="396.19" x2="208.6" y2="396.19" stroke="#231f20" stroke-width="0.9"/>
<line x1="203.4" y1="402.25" x2="208.6" y2="402.25" stroke="#231f20" stroke-width="0.9"/>
<circle cx="205.7" cy="394.7" r="2" fill="#a51c35"/>
<circle cx="208.8" cy="398.2" r="2" fill="#a51c35"/>
<circle cx="203.2" cy="402.5" r="2" fill="#a51c35"/>
<line x1="223" y1="370.18" x2="223" y2="372.7" stroke="#231f20" stroke-width="0.9"/>
<line x1="220.4" y1="370.18" x2="225.6" y2="370.18" stroke="#231f20" stroke-width="0.9"/>
<line x1="220.4" y1="372.7" x2="225.6" y2="372.7" stroke="#231f20" stroke-width="0.9"/>
<circle cx="220.2" cy="368.4" r="2" fill="#a51c35"/>
<circle cx="222.7" cy="371.7" r="2" fill="#a51c35"/>
<circle cx="225.7" cy="371.3" r="2" fill="#a51c35"/>
<line x1="239.7" y1="366.64" x2="239.7" y2="375.99" stroke="#231f20" stroke-width="0.9"/>
<line x1="237.1" y1="366.64" x2="242.3" y2="366.64" stroke="#231f20" stroke-width="0.9"/>
<line x1="237.1" y1="375.99" x2="242.3" y2="375.99" stroke="#231f20" stroke-width="0.9"/>
<circle cx="236.8" cy="367" r="2" fill="#a51c35"/>
<circle cx="242.6" cy="369.3" r="2" fill="#a51c35"/>
<circle cx="239.7" cy="376.2" r="2" fill="#a51c35"/>
<line x1="256.7" y1="366.89" x2="256.7" y2="371.44" stroke="#231f20" stroke-width="0.9"/>
<line x1="254.1" y1="366.89" x2="259.3" y2="366.89" stroke="#231f20" stroke-width="0.9"/>
<line x1="254.1" y1="371.44" x2="259.3" y2="371.44" stroke="#231f20" stroke-width="0.9"/>
<circle cx="254" cy="367.4" r="2" fill="#a51c35"/>
<circle cx="259" cy="367.4" r="2" fill="#a51c35"/>
<circle cx="256.4" cy="371.7" r="2" fill="#a51c35"/>
<line x1="273.6" y1="370.18" x2="273.6" y2="374.98" stroke="#231f20" stroke-width="0.9"/>
<line x1="271" y1="370.18" x2="276.2" y2="370.18" stroke="#231f20" stroke-width="0.9"/>
<line x1="271" y1="374.98" x2="276.2" y2="374.98" stroke="#231f20" stroke-width="0.9"/>
<circle cx="273.4" cy="370.5" r="2" fill="#a51c35"/>
<circle cx="276.5" cy="372.2" r="2" fill="#a51c35"/>
<circle cx="270.5" cy="375.2" r="2" fill="#a51c35"/>
<line x1="202.8" y1="344.5" x2="278.9" y2="344.5" stroke="#333" stroke-width="1"/>
<path d="M238 340.6L238 343.2M236.87 341.25L239.13 342.55M236.87 342.55L239.13 341.25" stroke="#222" stroke-width="0.9" fill="none"/>
<path d="M240.9 340.6L240.9 343.2M239.77 341.25L242.03 342.55M239.77 342.55L242.03 341.25" stroke="#222" stroke-width="0.9" fill="none"/>
<path d="M243.8 340.6L243.8 343.2M242.67 341.25L244.93 342.55M242.67 342.55L244.93 341.25" stroke="#222" stroke-width="0.9" fill="none"/>
<line x1="202.8" y1="351.5" x2="259.4" y2="351.5" stroke="#333" stroke-width="1"/>
<path d="M228.4 347.5L228.4 350.1M227.27 348.15L229.53 349.45M227.27 349.45L229.53 348.15" stroke="#222" stroke-width="0.9" fill="none"/>
<path d="M231.3 347.5L231.3 350.1M230.17 348.15L232.43 349.45M230.17 349.45L232.43 348.15" stroke="#222" stroke-width="0.9" fill="none"/>
<path d="M234.2 347.5L234.2 350.1M233.07 348.15L235.33 349.45M233.07 349.45L235.33 348.15" stroke="#222" stroke-width="0.9" fill="none"/>
<line x1="202.8" y1="358.5" x2="240.9" y2="358.5" stroke="#333" stroke-width="1"/>
<path d="M220.35 354.8L220.35 357.4M219.22 355.45L221.48 356.75M219.22 356.75L221.48 355.45" stroke="#222" stroke-width="0.9" fill="none"/>
<path d="M223.25 354.8L223.25 357.4M222.12 355.45L224.38 356.75M222.12 356.75L224.38 355.45" stroke="#222" stroke-width="0.9" fill="none"/>
<line x1="202.8" y1="365.5" x2="221.8" y2="365.5" stroke="#333" stroke-width="1"/>
<path d="M209.4 361.4L209.4 364M208.27 362.05L210.53 363.35M208.27 363.35L210.53 362.05" stroke="#222" stroke-width="0.9" fill="none"/>
<path d="M212.3 361.4L212.3 364M211.17 362.05L213.43 363.35M211.17 363.35L213.43 362.05" stroke="#222" stroke-width="0.9" fill="none"/>
<path d="M215.2 361.4L215.2 364M214.07 362.05L216.33 363.35M214.07 363.35L216.33 362.05" stroke="#222" stroke-width="0.9" fill="none"/>
<text x="208.5" y="437" font-size="7.8" text-anchor="end" textLength="22.5" lengthAdjust="spacingAndGlyphs" transform="rotate(-45 208.5 437)">Renilla</text>
<text x="224.3" y="437.1" font-size="7.8" text-anchor="end" textLength="17.5" lengthAdjust="spacingAndGlyphs" transform="rotate(-45 224.3 437.1)">e12.3</text>
<text x="241" y="437.1" font-size="7.8" text-anchor="end" textLength="17.5" lengthAdjust="spacingAndGlyphs" transform="rotate(-45 241 437.1)">e12.4</text>
<text x="258" y="437.1" font-size="7.8" text-anchor="end" textLength="17.5" lengthAdjust="spacingAndGlyphs" transform="rotate(-45 258 437.1)">e20.1</text>
<text x="274.9" y="437.1" font-size="7.8" text-anchor="end" textLength="17.5" lengthAdjust="spacingAndGlyphs" transform="rotate(-45 274.9 437.1)">e21.1</text>
<text x="301.8" y="334.4" font-size="10.5">F</text>
<text x="308.5" y="388.2" font-size="8.8" text-anchor="middle" textLength="62" lengthAdjust="spacingAndGlyphs" transform="rotate(-90 308.5 388.2)">Percent survival</text>
<line x1="332.7" y1="348.5" x2="332.7" y2="428" stroke="#231f20" stroke-width="1.1"/>
<line x1="329.7" y1="356" x2="332.7" y2="356" stroke="#231f20" stroke-width="0.9"/>
<text x="327.3" y="358.7" font-size="7.6" text-anchor="end" textLength="11.6" lengthAdjust="spacingAndGlyphs">100</text>
<line x1="329.7" y1="392" x2="332.7" y2="392" stroke="#231f20" stroke-width="0.9"/>
<text x="327.3" y="394.7" font-size="7.6" text-anchor="end" textLength="7.7" lengthAdjust="spacingAndGlyphs">50</text>
<line x1="329.7" y1="428" x2="332.7" y2="428" stroke="#231f20" stroke-width="0.9"/>
<text x="327.3" y="430.7" font-size="7.6" text-anchor="end" textLength="3.8" lengthAdjust="spacingAndGlyphs">0</text>
<line x1="332.7" y1="428" x2="441.3" y2="428" stroke="#231f20" stroke-width="1.1"/>
<line x1="332.7" y1="428" x2="332.7" y2="430.6" stroke="#231f20" stroke-width="0.9"/>
<text x="332.7" y="440.8" font-size="7.6" text-anchor="middle" textLength="3.8" lengthAdjust="spacingAndGlyphs">0</text>
<line x1="359.07" y1="428" x2="359.07" y2="430.6" stroke="#231f20" stroke-width="0.9"/>
<text x="359.07" y="440.8" font-size="7.6" text-anchor="middle" textLength="7.7" lengthAdjust="spacingAndGlyphs">50</text>
<line x1="385.45" y1="428" x2="385.45" y2="430.6" stroke="#231f20" stroke-width="0.9"/>
<text x="385.45" y="440.8" font-size="7.6" text-anchor="middle" textLength="11.6" lengthAdjust="spacingAndGlyphs">100</text>
<line x1="411.82" y1="428" x2="411.82" y2="430.6" stroke="#231f20" stroke-width="0.9"/>
<text x="411.82" y="440.8" font-size="7.6" text-anchor="middle" textLength="11.6" lengthAdjust="spacingAndGlyphs">150</text>
<line x1="438.2" y1="428" x2="438.2" y2="430.6" stroke="#231f20" stroke-width="0.9"/>
<text x="438.2" y="440.8" font-size="7.6" text-anchor="middle" textLength="11.6" lengthAdjust="spacingAndGlyphs">200</text>
<text x="386.8" y="453" font-size="8.8" text-anchor="middle" textLength="18.6" lengthAdjust="spacingAndGlyphs">Days</text>
<path d="M332.7 356H387.6 V362H428" stroke="#a31d3b" stroke-width="1.3" fill="none" stroke-linejoin="miter"/>
<path d="M332.7 356H376.1 V361H384.2 V366.7H428" stroke="#e8922c" stroke-width="1.3" fill="none" stroke-linejoin="miter"/>
<path d="M332.7 356H382.3 V361H384.6 V367.9H428" stroke="#5ea843" stroke-width="1.3" fill="none" stroke-linejoin="miter"/>
<path d="M332.7 356H384.2 V361H428" stroke="#2f4c7c" stroke-width="1.3" fill="none" stroke-linejoin="miter"/>
<path d="M332.7 356H359.2 V360.3H362.6 V363.9H369.8 V367.6H371 V371.4H373.2 V375.2H376.1 V378.6H394.8 V382.3H398.4 V388.6H428" stroke="#cc2a7c" stroke-width="1.3" fill="none" stroke-linejoin="miter"/>
<line x1="394.9" y1="360.4" x2="394.9" y2="362.5" stroke="#111" stroke-width="0.9"/>
<line x1="394.9" y1="359.2" x2="394.9" y2="361.3" stroke="#111" stroke-width="0.9"/>
<line x1="394.9" y1="366.2" x2="394.9" y2="368.3" stroke="#111" stroke-width="0.9"/>
<line x1="428" y1="359.2" x2="428" y2="361.3" stroke="#111" stroke-width="0.9"/>
<line x1="428" y1="360.6" x2="428" y2="362.7" stroke="#111" stroke-width="0.9"/>
<line x1="428" y1="366.2" x2="428" y2="368.3" stroke="#111" stroke-width="0.9"/>
<line x1="428" y1="386.8" x2="428" y2="388.9" stroke="#111" stroke-width="0.9"/>
<line x1="394.3" y1="378.4" x2="394.3" y2="380.5" stroke="#111" stroke-width="0.9"/>
<line x1="440" y1="357.3" x2="451.5" y2="357.3" stroke="#cc2a7c" stroke-width="1.3"/>
<line x1="445.8" y1="355.5" x2="445.8" y2="357.3" stroke="#111" stroke-width="0.7"/>
<text x="454.3" y="359.9" font-size="7.4" textLength="37.5" lengthAdjust="spacingAndGlyphs">Renilla n=19</text>
<line x1="440" y1="371.9" x2="451.5" y2="371.9" stroke="#2f4c7c" stroke-width="1.3"/>
<line x1="445.8" y1="370.1" x2="445.8" y2="371.9" stroke="#111" stroke-width="0.7"/>
<text x="454.3" y="374.5" font-size="7.4" textLength="33.5" lengthAdjust="spacingAndGlyphs">e12.3 n=14</text>
<line x1="440" y1="385.8" x2="451.5" y2="385.8" stroke="#5ea843" stroke-width="1.3"/>
<line x1="445.8" y1="384" x2="445.8" y2="385.8" stroke="#111" stroke-width="0.7"/>
<text x="454.3" y="388.4" font-size="7.4" textLength="33.5" lengthAdjust="spacingAndGlyphs">e12.4 n=12</text>
<line x1="440" y1="399.9" x2="451.5" y2="399.9" stroke="#e8922c" stroke-width="1.3"/>
<line x1="445.8" y1="398.1" x2="445.8" y2="399.9" stroke="#111" stroke-width="0.7"/>
<text x="454.3" y="402.5" font-size="7.4" textLength="33.5" lengthAdjust="spacingAndGlyphs">e20.1 n=13</text>
<line x1="440" y1="414.2" x2="451.5" y2="414.2" stroke="#a31d3b" stroke-width="1.3"/>
<line x1="445.8" y1="412.4" x2="445.8" y2="414.2" stroke="#111" stroke-width="0.7"/>
<text x="454.3" y="416.8" font-size="7.4" textLength="33.5" lengthAdjust="spacingAndGlyphs">e21.1 n=12</text>
<text x="7.8" y="481" font-size="10.5">G</text>
<text x="19.6" y="520.3" font-size="8.8" text-anchor="middle" textLength="71.4" lengthAdjust="spacingAndGlyphs" transform="rotate(-90 19.6 520.3)">%GFP+TdTomato+</text>
<line x1="40.8" y1="481" x2="40.8" y2="518.5" stroke="#231f20" stroke-width="1.1"/>
<line x1="37.4" y1="483.5" x2="40.8" y2="483.5" stroke="#231f20" stroke-width="1"/>
<text x="34.3" y="486.2" font-size="7.6" text-anchor="end" textLength="7.8" lengthAdjust="spacingAndGlyphs">50</text>
<line x1="37.4" y1="501" x2="40.8" y2="501" stroke="#231f20" stroke-width="1"/>
<text x="34.3" y="503.7" font-size="7.6" text-anchor="end" textLength="7.8" lengthAdjust="spacingAndGlyphs">40</text>
<line x1="37.4" y1="518.5" x2="40.8" y2="518.5" stroke="#231f20" stroke-width="1"/>
<text x="34.3" y="521.2" font-size="7.6" text-anchor="end" textLength="7.8" lengthAdjust="spacingAndGlyphs">30</text>
<line x1="38.2" y1="518.5" x2="43.2" y2="518.5" stroke="#231f20" stroke-width="0.9"/>
<line x1="40.8" y1="524.2" x2="40.8" y2="558.8" stroke="#231f20" stroke-width="1.1"/>
<line x1="37.4" y1="558.8" x2="40.8" y2="558.8" stroke="#231f20" stroke-width="1"/>
<text x="34.3" y="561.5" font-size="7.4" text-anchor="end" textLength="3.7" lengthAdjust="spacingAndGlyphs">0</text>
<line x1="37.4" y1="551.88" x2="40.8" y2="551.88" stroke="#231f20" stroke-width="1"/>
<text x="34.3" y="554.58" font-size="7.4" text-anchor="end" textLength="3.7" lengthAdjust="spacingAndGlyphs">1</text>
<line x1="37.4" y1="544.96" x2="40.8" y2="544.96" stroke="#231f20" stroke-width="1"/>
<text x="34.3" y="547.66" font-size="7.4" text-anchor="end" textLength="3.7" lengthAdjust="spacingAndGlyphs">2</text>
<line x1="37.4" y1="538.04" x2="40.8" y2="538.04" stroke="#231f20" stroke-width="1"/>
<text x="34.3" y="540.74" font-size="7.4" text-anchor="end" textLength="3.7" lengthAdjust="spacingAndGlyphs">3</text>
<line x1="37.4" y1="531.12" x2="40.8" y2="531.12" stroke="#231f20" stroke-width="1"/>
<text x="34.3" y="533.82" font-size="7.4" text-anchor="end" textLength="3.7" lengthAdjust="spacingAndGlyphs">4</text>
<line x1="37.4" y1="524.2" x2="40.8" y2="524.2" stroke="#231f20" stroke-width="1"/>
<text x="34.3" y="526.9" font-size="7.4" text-anchor="end" textLength="3.7" lengthAdjust="spacingAndGlyphs">5</text>
<line x1="38.2" y1="524.2" x2="43.2" y2="524.2" stroke="#231f20" stroke-width="0.9"/>
<line x1="40.8" y1="558.8" x2="153.8" y2="558.8" stroke="#231f20" stroke-width="1.1"/>
<line x1="54.3" y1="558.8" x2="54.3" y2="561" stroke="#231f20" stroke-width="0.9"/>
<line x1="75.5" y1="558.8" x2="75.5" y2="561" stroke="#231f20" stroke-width="0.9"/>
<line x1="96.3" y1="558.8" x2="96.3" y2="561" stroke="#231f20" stroke-width="0.9"/>
<line x1="117.5" y1="558.8" x2="117.5" y2="561" stroke="#231f20" stroke-width="0.9"/>
<line x1="139.3" y1="558.8" x2="139.3" y2="561" stroke="#231f20" stroke-width="0.9"/>
<rect x="48.1" y="556.4" width="12.4" height="4.4" rx="2.1" fill="#cc2a7c"/>
<circle cx="52.3" cy="490" r="1.5" fill="#cc2a7c"/>
<circle cx="56.9" cy="489.2" r="1.5" fill="#cc2a7c"/>
<circle cx="54.6" cy="497.7" r="1.5" fill="#cc2a7c"/>
<circle cx="54.6" cy="524.6" r="1.5" fill="#cc2a7c"/>
<circle cx="54.6" cy="551" r="1.5" fill="#cc2a7c"/>
<circle cx="49.3" cy="557.2" r="1.6" fill="#cc2a7c"/>
<circle cx="59.3" cy="557.2" r="1.6" fill="#cc2a7c"/>
<rect x="69.3" y="556.4" width="12.4" height="4.4" rx="2.1" fill="#2f4c7c"/>
<rect x="90.1" y="556.4" width="12.4" height="4.4" rx="2.1" fill="#5ea843"/>
<circle cx="94.3" cy="555.4" r="1.6" fill="#5ea843"/>
<rect x="111.3" y="556.4" width="12.4" height="4.4" rx="2.1" fill="#e8922c"/>
<rect x="133.1" y="556.4" width="12.4" height="4.4" rx="2.1" fill="#a31d3b"/>
<circle cx="134.9" cy="555.2" r="1.5" fill="#a31d3b"/>
<text x="55.4" y="570.5" font-size="7.8" text-anchor="end" textLength="22.5" lengthAdjust="spacingAndGlyphs" transform="rotate(-45 55.4 570.5)">Renilla</text>
<text x="76.1" y="570.1" font-size="7.8" text-anchor="end" textLength="17.5" lengthAdjust="spacingAndGlyphs" transform="rotate(-45 76.1 570.1)">e12.3</text>
<text x="96.9" y="570.1" font-size="7.8" text-anchor="end" textLength="17.5" lengthAdjust="spacingAndGlyphs" transform="rotate(-45 96.9 570.1)">e12.4</text>
<text x="118.1" y="570.1" font-size="7.8" text-anchor="end" textLength="17.5" lengthAdjust="spacingAndGlyphs" transform="rotate(-45 118.1 570.1)">e20.1</text>
<text x="139.9" y="570.1" font-size="7.8" text-anchor="end" textLength="17.5" lengthAdjust="spacingAndGlyphs" transform="rotate(-45 139.9 570.1)">e21.1</text>
<rect x="0" y="0" width="520" height="1.4" fill="#4b4b4b"/>
<rect x="0" y="0" width="1.6" height="590" fill="#4b4b4b"/>
<rect x="518.9" y="0" width="1.1" height="590" fill="#0a0a0a"/>
<rect x="0" y="588.7" width="520" height="1.3" fill="#0a0a0a"/>
</svg></body></html>
